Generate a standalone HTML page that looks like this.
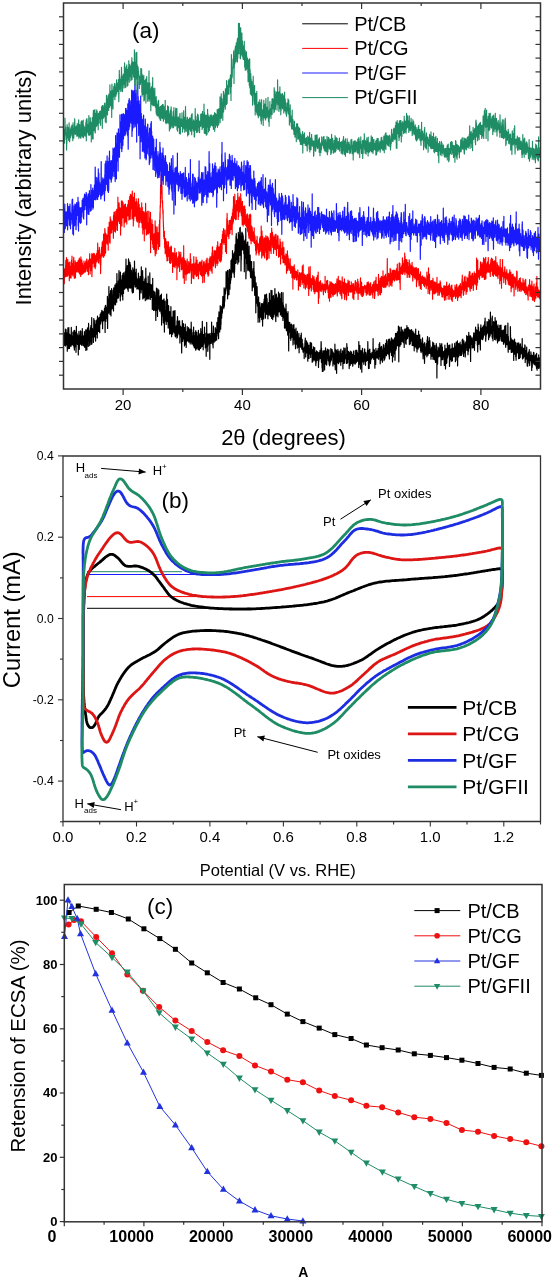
<!DOCTYPE html>
<html><head><meta charset="utf-8"><style>
html,body{margin:0;padding:0;background:#fff;width:553px;height:1280px;overflow:hidden}
svg{display:block;font-family:"Liberation Sans", sans-serif;filter:blur(0.35px)}
</style></head><body>
<svg width="553" height="1280" viewBox="0 0 553 1280">
<rect width="553" height="1280" fill="#fff"/>
<polyline points="64,345.2 64.1,340.6 64.3,340.2 64.4,332.9 64.5,345.1 64.6,335.5 64.8,344.2 64.9,333.9 65,345.6 65.1,335.7 65.3,344.4 65.4,329 65.5,337.3 65.6,346 65.8,336.7 65.9,340.8 66,338.2 66.1,329.7 66.3,341.9 66.4,342.5 66.5,332.5 66.6,344.6 66.8,336.7 66.9,333.2 67,340.5 67.1,337.3 67.3,351.2 67.4,333.2 67.5,343.9 67.6,345 67.8,331.2 67.9,327.9 68,344.5 68.1,336.9 68.3,342.2 68.4,348.6 68.5,338.6 68.6,332.7 68.8,327.6 68.9,341.8 69,333.7 69.1,341.8 69.3,341.4 69.4,333.9 69.5,348.4 69.6,345.4 69.8,346.5 69.9,334.8 70,338.4 70.1,337.7 70.3,338.4 70.4,335 70.5,343.4 70.6,341.3 70.8,342 70.9,336.6 71,346.3 71.1,341.1 71.3,327.4 71.4,337.2 71.5,339.9 71.6,344.7 71.8,338.8 71.9,338.4 72,337.1 72.1,345 72.3,338.1 72.4,335.8 72.5,336.7 72.6,344.2 72.8,337.6 72.9,332.2 73,343 73.1,336.8 73.3,342.7 73.4,341.8 73.5,345.7 73.6,344.9 73.8,337.3 73.9,338.8 74,330.7 74.1,347.9 74.3,342.1 74.4,350.1 74.5,338.5 74.7,330.3 74.8,347.1 74.9,340.4 75,340.5 75.2,340.3 75.3,344.6 75.4,342.4 75.5,332.4 75.7,345 75.8,337.3 75.9,337.6 76,352.3 76.2,344.1 76.3,337.3 76.4,326.3 76.5,340.5 76.7,342.3 76.8,339.3 76.9,333.8 77,336 77.2,333.8 77.3,340.7 77.4,343.5 77.5,344.5 77.7,336.2 77.8,340.7 77.9,342.2 78,335.9 78.2,338.9 78.3,355 78.4,340.5 78.5,343.7 78.7,336.3 78.8,339.7 78.9,331.4 79,339.3 79.2,345 79.3,349.3 79.4,345 79.5,342.6 79.7,339.7 79.8,335 79.9,338.6 80,343.8 80.2,335.6 80.3,343.7 80.4,334.6 80.5,330.8 80.7,331.8 80.8,331.3 80.9,332.7 81,344.5 81.2,338.2 81.3,340.1 81.4,344.6 81.5,345 81.7,336.7 81.8,345.3 81.9,340.8 82,339 82.2,341.1 82.3,328.6 82.4,335.2 82.5,338.4 82.7,341.8 82.8,336.2 82.9,338.3 83,343.4 83.2,345.5 83.3,342.4 83.4,344.8 83.5,336.8 83.7,337.3 83.8,341 83.9,336.5 84,335 84.2,346.5 84.3,337.7 84.4,331.5 84.5,340.9 84.7,347.3 84.8,338.9 84.9,344.4 85,336.4 85.2,336.1 85.3,335.2 85.4,337.7 85.6,347.1 85.7,329.9 85.8,350.3 85.9,333.5 86.1,337.1 86.2,342.1 86.3,341.1 86.4,340.1 86.6,330.1 86.7,339.6 86.8,333 86.9,350 87.1,336.7 87.2,339 87.3,329.1 87.4,334 87.6,327.9 87.7,344.6 87.8,335.3 87.9,339.8 88.1,332 88.2,334.6 88.3,346.4 88.4,332.1 88.6,323.3 88.7,338.5 88.8,331 88.9,334.2 89.1,340.6 89.2,332.2 89.3,340.3 89.4,330.8 89.6,343 89.7,345.6 89.8,333.3 89.9,334.4 90.1,331.3 90.2,336.7 90.3,340.6 90.4,327.9 90.6,341.7 90.7,328.2 90.8,330.3 90.9,325.6 91.1,344.5 91.2,334.4 91.3,335.8 91.4,330.5 91.6,338.9 91.7,317.6 91.8,333.5 91.9,344 92.1,331.2 92.2,333 92.3,336.1 92.4,328.6 92.6,332.5 92.7,337 92.8,333.1 92.9,333.8 93.1,330 93.2,333.2 93.3,331.9 93.4,342.5 93.6,334.7 93.7,329.1 93.8,318.6 93.9,334.2 94.1,334.2 94.2,323.2 94.3,320.1 94.4,324.2 94.6,336.9 94.7,324.2 94.8,325.8 94.9,330.3 95.1,335.2 95.2,328.8 95.3,328.2 95.4,325.7 95.6,341.1 95.7,336.5 95.8,327.5 96,320.7 96.1,321.4 96.2,330.4 96.3,323.6 96.5,334.1 96.6,329.8 96.7,328.2 96.8,331.7 97,330.3 97.1,319.4 97.2,323.4 97.3,337.9 97.5,316 97.6,323 97.7,330.8 97.8,324.3 98,318.4 98.1,317.8 98.2,327.3 98.3,329.7 98.5,331.5 98.6,324.4 98.7,329.3 98.8,318.2 99,324.3 99.1,319.7 99.2,324 99.3,329 99.5,328.4 99.6,317.4 99.7,332.7 99.8,318.4 100,316.6 100.1,321 100.2,314 100.3,321.6 100.5,323.7 100.6,320.1 100.7,323.8 100.8,319.1 101,320.6 101.1,312.7 101.2,320.4 101.3,315.4 101.5,317.4 101.6,319.1 101.7,320.9 101.8,310.3 102,310.5 102.1,317.1 102.2,321 102.3,320.2 102.5,322.9 102.6,328.7 102.7,320.3 102.8,317.2 103,311.5 103.1,311.7 103.2,314.1 103.3,317.8 103.5,317.3 103.6,315.9 103.7,314.8 103.8,320.8 104,316.3 104.1,316.5 104.2,317.3 104.3,311.4 104.5,308.4 104.6,316.6 104.7,317.2 104.8,311.5 105,310.8 105.1,332.5 105.2,306 105.3,311.1 105.5,313.6 105.6,305.3 105.7,312.6 105.8,321.4 106,319.2 106.1,314.3 106.2,315.7 106.4,310.8 106.5,318.4 106.6,308.8 106.7,307 106.9,309.7 107,314.1 107.1,311.5 107.2,312.2 107.4,296.4 107.5,314.7 107.6,328.4 107.7,315 107.9,304.2 108,299.1 108.1,308.9 108.2,300.5 108.4,312.4 108.5,300.9 108.6,311 108.7,313.1 108.9,286.5 109,306.3 109.1,298 109.2,295.8 109.4,298.2 109.5,302.3 109.6,309.4 109.7,294.1 109.9,309 110,314.5 110.1,305.8 110.2,307 110.4,301.7 110.5,290.7 110.6,304.5 110.7,303.3 110.9,307.6 111,315.9 111.1,307 111.2,302.6 111.4,309.2 111.5,291.5 111.6,288.7 111.7,296.9 111.9,294.9 112,305.2 112.1,295.5 112.2,308.8 112.4,307.2 112.5,302.5 112.6,295.2 112.7,301.1 112.9,302.1 113,290.4 113.1,298.9 113.2,300.9 113.4,297.7 113.5,311 113.6,303.4 113.7,287.9 113.9,296.3 114,290.2 114.1,298.8 114.2,289.7 114.4,303.6 114.5,297.1 114.6,303.8 114.7,293.4 114.9,285.1 115,305 115.1,292.2 115.2,302.2 115.4,296.2 115.5,297.6 115.6,304.6 115.7,295.2 115.9,301.6 116,283.5 116.1,298 116.2,290.9 116.4,291.4 116.5,292.2 116.6,294.1 116.7,302.2 116.9,273.6 117,291.7 117.1,284.3 117.3,298.5 117.4,288.3 117.5,293.7 117.6,288.1 117.8,294.7 117.9,296.7 118,286.2 118.1,290.3 118.3,280.8 118.4,291.6 118.5,297.9 118.6,285.8 118.8,296.3 118.9,275.8 119,270.6 119.1,279.8 119.3,283.7 119.4,288.5 119.5,287.7 119.6,287.4 119.8,292.5 119.9,284.7 120,279.4 120.1,279.4 120.3,300.8 120.4,272 120.5,285.8 120.6,296.2 120.8,289.7 120.9,281.1 121,286.3 121.1,291.7 121.3,293.8 121.4,280 121.5,290.6 121.6,287.2 121.8,292.6 121.9,294.3 122,282.9 122.1,275.5 122.3,287.4 122.4,296.2 122.5,289 122.6,285.9 122.8,299.9 122.9,273.6 123,289.9 123.1,280.1 123.3,284 123.4,284.2 123.5,293.4 123.6,277.2 123.8,279.7 123.9,272.6 124,287.9 124.1,278.2 124.3,287 124.4,275.5 124.5,280.1 124.6,289.2 124.8,281 124.9,286.2 125,285.5 125.1,279.5 125.3,271.4 125.4,288.1 125.5,283.3 125.6,287.9 125.8,268 125.9,270.3 126,259.2 126.1,275.2 126.3,287.8 126.4,284.6 126.5,280.4 126.6,281.5 126.8,285.6 126.9,278.5 127,283 127.1,281.2 127.3,265.7 127.4,277.6 127.5,289.1 127.7,275.9 127.8,279 127.9,275.8 128,276.6 128.2,291.3 128.3,277.9 128.4,272.8 128.5,258.8 128.7,273.6 128.8,266.3 128.9,260.6 129,284.7 129.2,284.1 129.3,266.5 129.4,288 129.5,282.3 129.7,273.9 129.8,284.1 129.9,262.3 130,271 130.2,264.2 130.3,271.6 130.4,288.1 130.5,265.2 130.7,271.3 130.8,272.6 130.9,280.3 131,275.5 131.2,287.9 131.3,274.2 131.4,270.4 131.5,275.6 131.7,279.3 131.8,272.8 131.9,280.9 132,291.2 132.2,275.1 132.3,279.3 132.4,293 132.5,274.7 132.7,273.4 132.8,267.8 132.9,281.8 133,282.6 133.2,277.6 133.3,279.6 133.4,292.3 133.5,288.2 133.7,269.9 133.8,279.2 133.9,280.4 134,286.8 134.2,278 134.3,272.8 134.4,276.5 134.5,261.2 134.7,279.3 134.8,275.7 134.9,284.4 135,272.9 135.2,276.9 135.3,273.4 135.4,272.8 135.5,287.1 135.7,276.9 135.8,283.1 135.9,272.7 136,281.1 136.2,269.1 136.3,277.2 136.4,277.1 136.5,286.3 136.7,281.7 136.8,279.4 136.9,289.1 137,282 137.2,286.2 137.3,286 137.4,280.5 137.5,279.1 137.7,283.3 137.8,278.5 137.9,283.8 138.1,288.7 138.2,287.1 138.3,279 138.4,273.1 138.6,281.3 138.7,280.3 138.8,289.2 138.9,279.4 139.1,280.7 139.2,287 139.3,279.1 139.4,281.3 139.6,299.6 139.7,297.4 139.8,288.8 139.9,284.4 140.1,276.4 140.2,286.5 140.3,283.4 140.4,284.5 140.6,279.8 140.7,283.2 140.8,282.2 140.9,286.5 141.1,292.9 141.2,287.1 141.3,266.9 141.4,277.5 141.6,273.6 141.7,275.9 141.8,289.6 141.9,286.8 142.1,278.2 142.2,286.2 142.3,276.8 142.4,275.4 142.6,270.5 142.7,279.3 142.8,299 142.9,276.4 143.1,293.2 143.2,298.3 143.3,283.4 143.4,285.1 143.6,281.6 143.7,285.5 143.8,290 143.9,285.9 144.1,292.4 144.2,297.7 144.3,288.3 144.4,288.3 144.6,285.9 144.7,288.7 144.8,279.4 144.9,289.2 145.1,288 145.2,278.1 145.3,300.7 145.4,280.8 145.6,278.4 145.7,289 145.8,268 145.9,282.4 146.1,277.8 146.2,281.5 146.3,286.3 146.4,290 146.6,298.7 146.7,295.9 146.8,299.7 146.9,294 147.1,283.7 147.2,295.7 147.3,283.8 147.4,285 147.6,298.7 147.7,296.7 147.8,290.7 147.9,294.2 148.1,298 148.2,276.2 148.3,289.3 148.4,282.5 148.6,290.9 148.7,283.6 148.8,299 149,293.8 149.1,285.6 149.2,290.5 149.3,283.4 149.5,291.4 149.6,294.8 149.7,293.8 149.8,272.8 150,289.7 150.1,295.1 150.2,294 150.3,299.5 150.5,284.4 150.6,297.4 150.7,288.7 150.8,294.6 151,296.8 151.1,297.5 151.2,289.8 151.3,294.7 151.5,286.5 151.6,285.1 151.7,297.5 151.8,293.9 152,284.4 152.1,289.3 152.2,294.8 152.3,309.5 152.5,301.5 152.6,300.1 152.7,278.3 152.8,295 153,298.7 153.1,299.5 153.2,298.7 153.3,294.9 153.5,307.2 153.6,310.4 153.7,296.2 153.8,291 154,309.7 154.1,294 154.2,308.5 154.3,309.3 154.5,292.2 154.6,300.6 154.7,294.8 154.8,303 155,300.5 155.1,310.5 155.2,304.2 155.3,299.1 155.5,309.6 155.6,297.8 155.7,297.5 155.8,320.4 156,292.2 156.1,297.3 156.2,300.6 156.3,294.2 156.5,288.1 156.6,310.5 156.7,296.4 156.8,298.1 157,299.2 157.1,292.4 157.2,295.4 157.3,302.9 157.5,316.4 157.6,308.9 157.7,306.9 157.8,288.8 158,302.7 158.1,296.1 158.2,307.8 158.3,301.1 158.5,303.7 158.6,302.8 158.7,298.4 158.8,290.1 159,309.3 159.1,296.3 159.2,297.7 159.4,303 159.5,298.4 159.6,307.3 159.7,311.2 159.9,306.9 160,307.2 160.1,305.9 160.2,310.9 160.4,295.4 160.5,308.4 160.6,301.1 160.7,299.5 160.9,306.8 161,303.4 161.1,312.2 161.2,313.7 161.4,294.2 161.5,307.3 161.6,325.1 161.7,313 161.9,316.5 162,309.1 162.1,300.4 162.2,302.4 162.4,315.1 162.5,314.6 162.6,302.7 162.7,307 162.9,311.2 163,300 163.1,306.9 163.2,319.5 163.4,322.8 163.5,309.6 163.6,321.2 163.7,308.1 163.9,306.7 164,298.9 164.1,317 164.2,309.7 164.4,332.1 164.5,314.1 164.6,313.5 164.7,302.5 164.9,321.2 165,311 165.1,311.6 165.2,301.1 165.4,318.7 165.5,319.3 165.6,310.6 165.7,314.7 165.9,316.5 166,319.9 166.1,315.3 166.2,324.4 166.4,313.8 166.5,312 166.6,313 166.7,294.1 166.9,308.9 167,321.6 167.1,317.7 167.2,312 167.4,318.6 167.5,299.7 167.6,314.5 167.7,321.5 167.9,321.2 168,313.4 168.1,322.8 168.2,328.1 168.4,315.9 168.5,324.4 168.6,305.5 168.7,308.2 168.9,322.3 169,319.4 169.1,320.4 169.2,314.5 169.4,318.1 169.5,324.2 169.6,334.1 169.7,319.1 169.9,311.6 170,327.4 170.1,325.6 170.3,324.6 170.4,322.5 170.5,333.6 170.6,322 170.8,325.7 170.9,306.6 171,319 171.1,316.5 171.3,322.2 171.4,324.4 171.5,318.8 171.6,336.7 171.8,317.4 171.9,320.8 172,324.6 172.1,317 172.3,326.6 172.4,328.8 172.5,321.5 172.6,334.1 172.8,324.8 172.9,326.5 173,319.6 173.1,311.2 173.3,319.7 173.4,323.4 173.5,322.8 173.6,331.3 173.8,313.1 173.9,316.4 174,311 174.1,332.8 174.3,323.1 174.4,323.5 174.5,317.4 174.6,331 174.8,323.1 174.9,328.2 175,310.5 175.1,336 175.3,329 175.4,331.3 175.5,336.8 175.6,326.4 175.8,326.6 175.9,331.3 176,330.9 176.1,326.6 176.3,328.2 176.4,325.5 176.5,331.8 176.6,335.5 176.8,328.3 176.9,338.1 177,320.9 177.1,327.6 177.3,337.6 177.4,326.9 177.5,316.5 177.6,336.3 177.8,333.5 177.9,320.1 178,333.5 178.1,324.6 178.3,323.1 178.4,329.2 178.5,326.2 178.6,321.6 178.8,328.5 178.9,325.4 179,330.9 179.1,330.5 179.3,334.5 179.4,328.6 179.5,324.3 179.6,320.8 179.8,330 179.9,343 180,335.7 180.1,328.4 180.3,336.3 180.4,326 180.5,336.9 180.7,328.9 180.8,335.9 180.9,335.3 181,330.1 181.2,334.8 181.3,327.2 181.4,332.3 181.5,340.9 181.7,353 181.8,336.4 181.9,333.5 182,328.1 182.2,338.4 182.3,320.6 182.4,327.2 182.5,335.3 182.7,327.7 182.8,341.3 182.9,339.2 183,331.1 183.2,329.7 183.3,327.7 183.4,323.5 183.5,336.5 183.7,339 183.8,336.2 183.9,335.9 184,331.9 184.2,337.3 184.3,327.7 184.4,335 184.5,346 184.7,344.9 184.8,331.6 184.9,333.6 185,342 185.2,344.1 185.3,324.2 185.4,333.5 185.5,337.3 185.7,341.6 185.8,331.8 185.9,339 186,334.5 186.2,347.5 186.3,339.2 186.4,335.5 186.5,333.6 186.7,341.4 186.8,339.7 186.9,331.3 187,337.6 187.2,326.5 187.3,333 187.4,330.5 187.5,330.4 187.7,333.6 187.8,329.5 187.9,340.8 188,340.9 188.2,335.2 188.3,331.8 188.4,341.1 188.5,327.6 188.7,328.1 188.8,340.8 188.9,342.1 189,342.1 189.2,335.8 189.3,331.5 189.4,335.2 189.5,340.4 189.7,334 189.8,332.4 189.9,331.1 190,329.1 190.2,343.9 190.3,341.1 190.4,332.4 190.5,332.8 190.7,333.7 190.8,342 190.9,329.3 191.1,336.7 191.2,322.2 191.3,332.2 191.4,340.2 191.6,342.5 191.7,329.7 191.8,334.6 191.9,344.1 192.1,336.5 192.2,335.9 192.3,340.9 192.4,339.8 192.6,343.8 192.7,342.4 192.8,335.9 192.9,338.1 193.1,338.4 193.2,332.3 193.3,334.1 193.4,345.8 193.6,327.1 193.7,343.6 193.8,340.9 193.9,338.3 194.1,341.5 194.2,342.4 194.3,347.7 194.4,336 194.6,337.3 194.7,337.9 194.8,348 194.9,343.6 195.1,332.3 195.2,337.6 195.3,335.9 195.4,339.3 195.6,340.8 195.7,350.2 195.8,330.7 195.9,344.2 196.1,341.5 196.2,336.1 196.3,338.7 196.4,335.8 196.6,339.7 196.7,344.3 196.8,332.4 196.9,349 197.1,337.8 197.2,346.7 197.3,341.6 197.4,345.5 197.6,342.3 197.7,347.5 197.8,340 197.9,335.8 198.1,342.9 198.2,343.1 198.3,349.6 198.4,330.3 198.6,338.3 198.7,344.8 198.8,333.9 198.9,338.7 199.1,349.8 199.2,346.5 199.3,335.7 199.4,350.1 199.6,345.4 199.7,343.5 199.8,342.5 199.9,341 200.1,333.5 200.2,337.4 200.3,345.1 200.4,340.5 200.6,348.5 200.7,338.3 200.8,328.6 200.9,338.3 201.1,341.1 201.2,341.6 201.3,340.2 201.4,335.9 201.6,346.8 201.7,334.9 201.8,343.1 202,338.4 202.1,331 202.2,346.4 202.3,321.4 202.5,335.7 202.6,342.8 202.7,337 202.8,343.2 203,339.2 203.1,336.3 203.2,349.8 203.3,338 203.5,338.9 203.6,334.5 203.7,336 203.8,344.2 204,342.2 204.1,339.5 204.2,336.2 204.3,342.7 204.5,327 204.6,337.8 204.7,338.2 204.8,335.4 205,340 205.1,336.1 205.2,333.4 205.3,347.7 205.5,344.6 205.6,347.9 205.7,339.4 205.8,343.7 206,342.8 206.1,344.8 206.2,356.3 206.3,337.3 206.5,340.2 206.6,338.7 206.7,322.3 206.8,332.2 207,338.9 207.1,341.8 207.2,334.5 207.3,347 207.5,344.7 207.6,336.7 207.7,345.3 207.8,351.3 208,340.7 208.1,333.8 208.2,345.4 208.3,337.6 208.5,336.5 208.6,338.8 208.7,335.7 208.8,343.3 209,341.8 209.1,343.9 209.2,340.8 209.3,334.2 209.5,337.2 209.6,342 209.7,334.8 209.8,359.3 210,336.6 210.1,333.3 210.2,343.1 210.3,341.1 210.5,337.4 210.6,335.7 210.7,339.4 210.8,343.5 211,340.9 211.1,335.7 211.2,339.2 211.3,343.3 211.5,340.7 211.6,322.1 211.7,330.3 211.8,333.1 212,335 212.1,337.5 212.2,341 212.4,339.5 212.5,335.9 212.6,336.6 212.7,344.8 212.9,333.3 213,337.7 213.1,347.8 213.2,337.7 213.4,326.1 213.5,337.7 213.6,333 213.7,335.2 213.9,340.8 214,337.9 214.1,333.6 214.2,342.1 214.4,338.7 214.5,335.8 214.6,337.5 214.7,336.4 214.9,333.4 215,332.8 215.1,335.1 215.2,327.7 215.4,328.6 215.5,340.9 215.6,333.2 215.7,334 215.9,333.4 216,333.9 216.1,333.7 216.2,333.6 216.4,329.1 216.5,337.4 216.6,329.1 216.7,340.1 216.9,322.3 217,323.4 217.1,336.1 217.2,330 217.4,327 217.5,331.9 217.6,324.3 217.7,329.8 217.9,317.5 218,326 218.1,324.5 218.2,330.1 218.4,333.8 218.5,322 218.6,338.7 218.7,320.6 218.9,314.1 219,311.9 219.1,331.8 219.2,322.7 219.4,317.3 219.5,315.9 219.6,315.6 219.7,332 219.9,319.8 220,329.2 220.1,318 220.2,305.7 220.4,324.9 220.5,314.1 220.6,315.2 220.7,329.2 220.9,313.8 221,324.5 221.1,313.9 221.2,306.8 221.4,315.4 221.5,308.6 221.6,318.2 221.7,316 221.9,310.3 222,312.7 222.1,313.5 222.2,306.3 222.4,312.3 222.5,304.5 222.6,309.4 222.8,296.5 222.9,305 223,306.2 223.1,298.4 223.3,299.9 223.4,298.5 223.5,305.4 223.6,296 223.8,302.3 223.9,308.2 224,300.5 224.1,287.8 224.3,298.2 224.4,306.2 224.5,293 224.6,301.8 224.8,300.3 224.9,296.3 225,291.4 225.1,289.2 225.3,290.2 225.4,291.6 225.5,293.9 225.6,292.6 225.8,287.4 225.9,289.2 226,290.6 226.1,271.5 226.3,282.1 226.4,281.3 226.5,284.6 226.6,283.6 226.8,283.1 226.9,278.6 227,288.2 227.1,286.1 227.3,272 227.4,282.4 227.5,270.4 227.6,298.8 227.8,277.9 227.9,277.9 228,280.6 228.1,278.3 228.3,278.8 228.4,294.9 228.5,279.9 228.6,283.5 228.8,285.1 228.9,270.5 229,294.4 229.1,280.8 229.3,282.2 229.4,269.4 229.5,280.4 229.6,278.8 229.8,270.2 229.9,289.2 230,276.9 230.1,270.9 230.3,274.2 230.4,277.9 230.5,283.3 230.6,274.7 230.8,278.7 230.9,280 231,260.6 231.1,265.4 231.3,261.7 231.4,268.5 231.5,277.6 231.6,271.6 231.8,259 231.9,263.9 232,272.9 232.1,261.2 232.3,263.9 232.4,267.6 232.5,250.5 232.6,272 232.8,265.2 232.9,268.7 233,254.7 233.1,255.8 233.3,256.6 233.4,263.4 233.5,260.6 233.7,261.1 233.8,272.3 233.9,273.7 234,253 234.2,253 234.3,277.2 234.4,254.7 234.5,272.5 234.7,268.1 234.8,251.7 234.9,253.4 235,255.6 235.2,244.7 235.3,246.9 235.4,250.8 235.5,263.5 235.7,249.7 235.8,251.1 235.9,247 236,236.1 236.2,262.9 236.3,233.5 236.4,246 236.5,254.9 236.7,239.6 236.8,254.6 236.9,259.3 237,239.2 237.2,250.7 237.3,240.2 237.4,252.4 237.5,248.9 237.7,249.6 237.8,264.1 237.9,251.1 238,257.6 238.2,251.8 238.3,232.4 238.4,248.5 238.5,250.1 238.7,234.8 238.8,262 238.9,246.2 239,248.4 239.2,234.6 239.3,246.2 239.4,247.4 239.5,241.1 239.7,245.4 239.8,228.1 239.9,255.3 240,235.8 240.2,227.3 240.3,232.8 240.4,237.7 240.5,248.5 240.7,237 240.8,246.4 240.9,236.6 241,271 241.2,248.4 241.3,259.5 241.4,236.3 241.5,249.5 241.7,232.8 241.8,248.9 241.9,249.8 242,232.1 242.2,235.8 242.3,235.7 242.4,233.2 242.5,239.4 242.7,233.7 242.8,234.1 242.9,246.8 243,250 243.2,235.7 243.3,239.5 243.4,246.4 243.5,244.7 243.7,241.3 243.8,253.3 243.9,253.8 244.1,252.7 244.2,246.1 244.3,271.7 244.4,261.7 244.6,245.4 244.7,247.9 244.8,258.2 244.9,240 245.1,252.8 245.2,250.6 245.3,245 245.4,248.9 245.6,239 245.7,247.2 245.8,228.3 245.9,278.8 246.1,270 246.2,262 246.3,255.3 246.4,260.9 246.6,263.3 246.7,261.7 246.8,261.4 246.9,244.3 247.1,258.4 247.2,249.4 247.3,242.4 247.4,247.8 247.6,259.9 247.7,269.2 247.8,241.8 247.9,270.7 248.1,269.1 248.2,254.3 248.3,255.6 248.4,258.5 248.6,266.9 248.7,257.3 248.8,252.4 248.9,263.4 249.1,246.2 249.2,262.6 249.3,270.4 249.4,265.8 249.6,268.4 249.7,268.6 249.8,271.6 249.9,265.4 250.1,255 250.2,263 250.3,264.4 250.4,274.4 250.6,277.4 250.7,269.3 250.8,261.4 250.9,262 251.1,265.7 251.2,278 251.3,271.1 251.4,268.7 251.6,261.6 251.7,276.6 251.8,273 251.9,271.2 252.1,272.9 252.2,290.8 252.3,271.7 252.4,285.6 252.6,287.8 252.7,275.7 252.8,282 252.9,275.8 253.1,268.7 253.2,275.2 253.3,272.6 253.4,282.8 253.6,280.2 253.7,284.6 253.8,287 253.9,261.6 254.1,284.9 254.2,271.8 254.3,286 254.5,276.2 254.6,286.8 254.7,295.3 254.8,276.2 255,289.1 255.1,287.8 255.2,277.2 255.3,294.1 255.5,290.9 255.6,286.4 255.7,287.5 255.8,312.8 256,291 256.1,282.9 256.2,285.9 256.3,293.2 256.5,293.7 256.6,296.3 256.7,291 256.8,303.1 257,294.1 257.1,286.6 257.2,292.3 257.3,296.8 257.5,306.1 257.6,304.4 257.7,300.1 257.8,302.7 258,305.1 258.1,322.2 258.2,300.5 258.3,307.3 258.5,309.3 258.6,296.9 258.7,307 258.8,307.8 259,304 259.1,310.4 259.2,313.4 259.3,317.8 259.5,307 259.6,310.1 259.7,322.1 259.8,302.6 260,310.4 260.1,314.4 260.2,310.3 260.3,313.4 260.5,310.7 260.6,316.5 260.7,317.2 260.8,308.7 261,311.1 261.1,309.7 261.2,306.5 261.3,309.8 261.5,303.6 261.6,314.2 261.7,319.6 261.8,319.6 262,317.2 262.1,304.5 262.2,318.6 262.3,303.6 262.5,309.6 262.6,326.1 262.7,303.8 262.8,317.2 263,312.3 263.1,308.9 263.2,304.8 263.3,312.1 263.5,305.6 263.6,318.9 263.7,316.6 263.8,301.8 264,306.7 264.1,307.7 264.2,299.1 264.3,303.1 264.5,309.9 264.6,308.2 264.7,294.8 264.8,304.6 265,312.2 265.1,302.3 265.2,301 265.4,318.2 265.5,316.6 265.6,294.8 265.7,301.3 265.9,311.1 266,302.1 266.1,307.4 266.2,306.2 266.4,313.7 266.5,294.2 266.6,296.1 266.7,301.6 266.9,314.4 267,307.6 267.1,298.7 267.2,311.2 267.4,312.4 267.5,306.9 267.6,305.3 267.7,310.7 267.9,318.8 268,309.4 268.1,312.7 268.2,307.7 268.4,304.5 268.5,302.6 268.6,309.3 268.7,306 268.9,305.5 269,313 269.1,310.4 269.2,315.2 269.4,293.4 269.5,312.4 269.6,303.9 269.7,300.1 269.9,302.3 270,314.2 270.1,311.9 270.2,302.9 270.4,300.4 270.5,307.1 270.6,304.2 270.7,316.4 270.9,298.3 271,290.4 271.1,305.2 271.2,306.7 271.4,307.7 271.5,310.9 271.6,318.5 271.7,304.4 271.9,301.5 272,290.5 272.1,307.7 272.2,311.2 272.4,304.6 272.5,316.7 272.6,306.2 272.7,319.6 272.9,309 273,299.8 273.1,300.2 273.2,296.9 273.4,295.7 273.5,308.1 273.6,310.8 273.7,317 273.9,305.1 274,304.2 274.1,299.1 274.2,314.4 274.4,307.7 274.5,302 274.6,309.4 274.7,308.6 274.9,288.5 275,312 275.1,306.1 275.2,303 275.4,302.8 275.5,315.4 275.6,314.1 275.8,321.6 275.9,294.8 276,299.2 276.1,310.4 276.3,294.2 276.4,298.6 276.5,294.5 276.6,315.9 276.8,314.6 276.9,307.7 277,307 277.1,302.6 277.3,301.4 277.4,308.6 277.5,298.6 277.6,312.2 277.8,302.1 277.9,297.2 278,316.8 278.1,304.3 278.3,308.4 278.4,302.8 278.5,292.2 278.6,308.6 278.8,297.6 278.9,311.9 279,296.7 279.1,295 279.3,308.7 279.4,309.9 279.5,307.2 279.6,295.5 279.8,311.7 279.9,293.6 280,302.7 280.1,302.5 280.3,305 280.4,315 280.5,303.9 280.6,311 280.8,312 280.9,298.4 281,301.7 281.1,306.5 281.3,305.5 281.4,310.9 281.5,292.4 281.6,313.7 281.8,316.4 281.9,308.6 282,302.5 282.1,310.7 282.3,306.2 282.4,314.4 282.5,311 282.6,315.8 282.8,308.3 282.9,320.4 283,292.7 283.1,307.2 283.3,315.9 283.4,305.1 283.5,317.9 283.6,307.4 283.8,315.2 283.9,306.9 284,312.6 284.1,316.8 284.3,315.1 284.4,312.8 284.5,328.1 284.6,316.7 284.8,308.8 284.9,322.3 285,324.5 285.1,324.5 285.3,327.9 285.4,313.5 285.5,324.6 285.6,325.3 285.8,319.5 285.9,321.2 286,304.1 286.2,317.4 286.3,330.3 286.4,311.6 286.5,318.6 286.7,323.3 286.8,326.8 286.9,331 287,313.4 287.2,323.3 287.3,327.8 287.4,316.7 287.5,323.7 287.7,334 287.8,335.1 287.9,329.1 288,311.5 288.2,324.7 288.3,328.7 288.4,324.3 288.5,325.8 288.7,350.9 288.8,325 288.9,322 289,329.1 289.2,325.8 289.3,326.1 289.4,327.3 289.5,332.1 289.7,329.6 289.8,322.5 289.9,328.2 290,331.5 290.2,325.6 290.3,338.4 290.4,335.7 290.5,324.9 290.7,331.7 290.8,340.3 290.9,338.3 291,330.5 291.2,337.9 291.3,327.8 291.4,324.2 291.5,334.4 291.7,333 291.8,334.6 291.9,332 292,334.1 292.2,328.8 292.3,335.2 292.4,337.2 292.5,333 292.7,337.5 292.8,325 292.9,330.1 293,345 293.2,342.9 293.3,336.4 293.4,334 293.5,328.8 293.7,336.9 293.8,339.2 293.9,324.5 294,338.5 294.2,339.7 294.3,339.5 294.4,331 294.5,339.2 294.7,329.6 294.8,344.1 294.9,337.9 295,331.8 295.2,344 295.3,343.3 295.4,334.9 295.5,348.7 295.7,333.6 295.8,340.1 295.9,344.4 296,328.2 296.2,343.9 296.3,339 296.4,339.4 296.5,334.6 296.7,342.3 296.8,334.8 296.9,335.7 297.1,337.2 297.2,334.8 297.3,348.1 297.4,331.4 297.6,337.6 297.7,339.8 297.8,341.4 297.9,345.3 298.1,345.5 298.2,339.7 298.3,340.3 298.4,342.4 298.6,346.2 298.7,347.5 298.8,340.3 298.9,333.4 299.1,352.8 299.2,347.5 299.3,344.5 299.4,345.8 299.6,339.9 299.7,339.1 299.8,341.5 299.9,342.9 300.1,341.2 300.2,337.5 300.3,342.1 300.4,347.1 300.6,342.3 300.7,344.8 300.8,335.4 300.9,344 301.1,344.5 301.2,339.6 301.3,333.2 301.4,347.3 301.6,341.9 301.7,349.1 301.8,343.9 301.9,348.7 302.1,343.7 302.2,339.4 302.3,345.9 302.4,344.9 302.6,349.4 302.7,343.5 302.8,345 302.9,350.7 303.1,352.2 303.2,350.5 303.3,351.8 303.4,349.3 303.6,350.9 303.7,351.4 303.8,349.4 303.9,348 304.1,348.5 304.2,358.6 304.3,348.2 304.4,347.2 304.6,346.7 304.7,348.3 304.8,350.2 304.9,343.6 305.1,340 305.2,350.8 305.3,338 305.4,350.2 305.6,349.8 305.7,357.1 305.8,356.7 305.9,351.9 306.1,347.1 306.2,344.5 306.3,346.3 306.4,350 306.6,340.9 306.7,350.5 306.8,350.1 306.9,353 307.1,348.8 307.2,350.8 307.3,347.3 307.5,348.5 307.6,342.9 307.7,351.6 307.8,361.2 308,351.6 308.1,352.6 308.2,346.8 308.3,357.3 308.5,346.1 308.6,354.8 308.7,351.8 308.8,345.1 309,358.4 309.1,351.7 309.2,352.5 309.3,353.7 309.5,351.7 309.6,350.3 309.7,354 309.8,349.3 310,352.4 310.1,347.7 310.2,342.4 310.3,349.4 310.5,349.1 310.6,352.5 310.7,357.5 310.8,345.3 311,353.1 311.1,343.2 311.2,348.2 311.3,350.6 311.5,343.2 311.6,344.9 311.7,353.9 311.8,353.3 312,352.5 312.1,349.6 312.2,362.3 312.3,352.4 312.5,349.5 312.6,360.4 312.7,357.3 312.8,350.9 313,361.2 313.1,354.4 313.2,356.2 313.3,355 313.5,346.8 313.6,357.7 313.7,354.3 313.8,349.4 314,350.5 314.1,360 314.2,352.2 314.3,354.1 314.5,358.1 314.6,354.7 314.7,347.5 314.8,356.7 315,358 315.1,357.7 315.2,360.9 315.3,355.7 315.5,357.5 315.6,360.9 315.7,352.4 315.8,365.6 316,361.7 316.1,357.7 316.2,362.2 316.3,360 316.5,350.8 316.6,359.3 316.7,356 316.8,356.4 317,355.3 317.1,360.4 317.2,357.1 317.3,351.9 317.5,358 317.6,357.9 317.7,351.9 317.8,352.1 318,352.5 318.1,352.5 318.2,357.3 318.4,359.4 318.5,367.4 318.6,362.9 318.7,359.5 318.9,360 319,360.9 319.1,352.9 319.2,359.8 319.4,356.7 319.5,354.9 319.6,352.5 319.7,353.4 319.9,354.4 320,350.4 320.1,357.8 320.2,355.5 320.4,356.3 320.5,357.1 320.6,358.7 320.7,351.9 320.9,355.3 321,349.1 321.1,341.5 321.2,343.4 321.4,362.3 321.5,348.3 321.6,357.9 321.7,362.1 321.9,353.1 322,362.8 322.1,367.9 322.2,360 322.4,371.4 322.5,360.1 322.6,353.1 322.7,358.4 322.9,354.4 323,350.8 323.1,351 323.2,371.2 323.4,354.1 323.5,356.2 323.6,352.2 323.7,357 323.9,354.9 324,353.9 324.1,351.5 324.2,350.7 324.4,353.5 324.5,357.8 324.6,369.9 324.7,361 324.9,364.2 325,358.7 325.1,356.2 325.2,351.2 325.4,356.7 325.5,347.9 325.6,355.5 325.7,363.5 325.9,358.2 326,364.1 326.1,355.3 326.2,351.2 326.4,353.8 326.5,355.2 326.6,364.7 326.7,365.1 326.9,353.9 327,354.7 327.1,356.4 327.2,355.5 327.4,349.1 327.5,357.4 327.6,358.5 327.7,358.6 327.9,352 328,356.6 328.1,349.8 328.2,360.8 328.4,350.6 328.5,355.4 328.6,355.2 328.8,354.7 328.9,352.7 329,349.8 329.1,364.3 329.3,358.2 329.4,358.2 329.5,365.8 329.6,356.7 329.8,359.4 329.9,357.2 330,364.8 330.1,360.4 330.3,359.2 330.4,355.6 330.5,358.3 330.6,361.9 330.8,348.5 330.9,356.6 331,354.5 331.1,355.9 331.3,349 331.4,360.2 331.5,353.6 331.6,356.2 331.8,354 331.9,350.2 332,355.3 332.1,349.5 332.3,351.2 332.4,355.8 332.5,357.1 332.6,357.4 332.8,356.3 332.9,366 333,358.9 333.1,352.1 333.3,354.6 333.4,354.4 333.5,356.4 333.6,354.6 333.8,353.6 333.9,364 334,357.3 334.1,355.7 334.3,356.1 334.4,356.2 334.5,362.9 334.6,359.1 334.8,364.4 334.9,344.2 335,358.5 335.1,364 335.3,369.8 335.4,357.3 335.5,350 335.6,361 335.8,354.7 335.9,349.7 336,354.6 336.1,361.5 336.3,362.1 336.4,360.1 336.5,350.5 336.6,373.3 336.8,352.3 336.9,356.8 337,351.2 337.1,362.6 337.3,359 337.4,362.9 337.5,357.5 337.6,356.9 337.8,358.4 337.9,349.4 338,361.3 338.1,360.9 338.3,355.5 338.4,357.1 338.5,358.4 338.6,363.7 338.8,359 338.9,357.3 339,354 339.2,351 339.3,353.5 339.4,357.7 339.5,355.7 339.7,357.5 339.8,362 339.9,360.1 340,359 340.2,359.9 340.3,358 340.4,357.1 340.5,359.1 340.7,350 340.8,365.3 340.9,349.1 341,360.7 341.2,357.2 341.3,361.8 341.4,357.5 341.5,353.3 341.7,361.6 341.8,358.5 341.9,357.7 342,357.5 342.2,361.3 342.3,360.6 342.4,358.8 342.5,350.8 342.7,355.5 342.8,357.6 342.9,368.8 343,358.8 343.2,356.8 343.3,362.2 343.4,356.8 343.5,357.2 343.7,358.3 343.8,347.8 343.9,363.5 344,359 344.2,355.5 344.3,352.5 344.4,358.1 344.5,363 344.7,354.6 344.8,350.6 344.9,359 345,350.6 345.2,348 345.3,355.4 345.4,354.4 345.5,356.1 345.7,355 345.8,358.6 345.9,356 346,354.8 346.2,355.3 346.3,359.8 346.4,363.5 346.5,361 346.7,361.8 346.8,343.6 346.9,351 347,355.4 347.2,358.1 347.3,347 347.4,363.1 347.5,359.3 347.7,354.7 347.8,358.4 347.9,355.8 348,354.1 348.2,359.3 348.3,355.4 348.4,351.4 348.5,353.3 348.7,356.8 348.8,352.8 348.9,362.5 349,352.7 349.2,368.6 349.3,363.1 349.4,353.4 349.5,357.8 349.7,364.9 349.8,356.2 349.9,352.3 350.1,358.1 350.2,365.5 350.3,351.1 350.4,359.6 350.6,357.5 350.7,356.8 350.8,354.9 350.9,356 351.1,361.6 351.2,361.2 351.3,353.2 351.4,363.7 351.6,351.9 351.7,360 351.8,358 351.9,362.2 352.1,359.7 352.2,361.7 352.3,357.3 352.4,361.3 352.6,359.6 352.7,366.2 352.8,354.4 352.9,365.1 353.1,360.4 353.2,358.6 353.3,355 353.4,360.3 353.6,351.2 353.7,351.6 353.8,362 353.9,350.9 354.1,363.2 354.2,356.2 354.3,358.3 354.4,357.6 354.6,360.2 354.7,355.7 354.8,355.8 354.9,356.7 355.1,364.2 355.2,362 355.3,362.6 355.4,358.8 355.6,356.2 355.7,350.4 355.8,360 355.9,362.8 356.1,355.6 356.2,360.7 356.3,362.6 356.4,357.7 356.6,361.7 356.7,358.6 356.8,350.1 356.9,354.5 357.1,355.6 357.2,360.9 357.3,352 357.4,355.5 357.6,353.3 357.7,357.2 357.8,357.6 357.9,361.3 358.1,360.6 358.2,358 358.3,358.3 358.4,357.8 358.6,357.8 358.7,367.4 358.8,341.6 358.9,356.6 359.1,359.5 359.2,364.7 359.3,352.8 359.4,359.7 359.6,363 359.7,355.5 359.8,345.3 359.9,355.2 360.1,352.4 360.2,360 360.3,353.8 360.5,368.9 360.6,358.4 360.7,354 360.8,355.2 361,350.5 361.1,358.9 361.2,363.5 361.3,356.4 361.5,363.4 361.6,351.5 361.7,359.5 361.8,372.2 362,351.5 362.1,362.4 362.2,362.2 362.3,349.5 362.5,348.3 362.6,353.3 362.7,361.3 362.8,355.5 363,356.6 363.1,360.2 363.2,357.8 363.3,358.3 363.5,355.4 363.6,362 363.7,354.1 363.8,364.2 364,355.9 364.1,352.4 364.2,361.6 364.3,359.2 364.5,349.1 364.6,358.2 364.7,348.9 364.8,352.2 365,360.6 365.1,353.7 365.2,358.8 365.3,355 365.5,365.3 365.6,356.9 365.7,352.4 365.8,352.7 366,353.6 366.1,358.3 366.2,357.3 366.3,361.3 366.5,358 366.6,357.8 366.7,359.5 366.8,356.6 367,358.5 367.1,360.5 367.2,360.5 367.3,355 367.5,350 367.6,353.9 367.7,358.4 367.8,341.5 368,354.4 368.1,360.3 368.2,353.8 368.3,352.6 368.5,368.6 368.6,363 368.7,355.7 368.8,362.7 369,362.6 369.1,350.2 369.2,368.3 369.3,353.4 369.5,356.2 369.6,352.7 369.7,357.6 369.8,349 370,357.2 370.1,361.7 370.2,358.1 370.3,355.7 370.5,363.6 370.6,353.5 370.7,361.2 370.9,355.9 371,358.7 371.1,357.3 371.2,357.7 371.4,356.9 371.5,353.9 371.6,354.8 371.7,358.9 371.9,356.6 372,352.3 372.1,354.1 372.2,354.2 372.4,356.8 372.5,357.7 372.6,357.3 372.7,352.9 372.9,357 373,351.2 373.1,338.5 373.2,356.6 373.4,349.9 373.5,350.8 373.6,349.1 373.7,359.3 373.9,351.7 374,357.8 374.1,353.5 374.2,351.4 374.4,350 374.5,358.4 374.6,358.1 374.7,359.6 374.9,368.2 375,358.1 375.1,357.5 375.2,355.7 375.4,356.6 375.5,354.7 375.6,352.4 375.7,364.4 375.9,348.3 376,357 376.1,357.8 376.2,356.9 376.4,351.8 376.5,355 376.6,352.8 376.7,351.2 376.9,355.4 377,353.9 377.1,353.2 377.2,358.3 377.4,351 377.5,357.2 377.6,351.4 377.7,357 377.9,355.5 378,356.1 378.1,348.7 378.2,350 378.4,351.4 378.5,355.6 378.6,358 378.7,359.3 378.9,352.6 379,355 379.1,344.1 379.2,345.2 379.4,350.8 379.5,350.1 379.6,347.8 379.7,342.7 379.9,356.5 380,350.8 380.1,347 380.2,363.8 380.4,354.7 380.5,352.5 380.6,358.2 380.7,348.7 380.9,360.4 381,347.1 381.1,348 381.2,352.9 381.4,348.3 381.5,359.3 381.6,346.4 381.8,350.1 381.9,354.1 382,355.4 382.1,359.5 382.3,354.3 382.4,362.2 382.5,350.7 382.6,353.7 382.8,358.1 382.9,350.3 383,351.2 383.1,349.2 383.3,347.9 383.4,344.7 383.5,349.7 383.6,345.4 383.8,353.6 383.9,345.1 384,360.7 384.1,359 384.3,356.4 384.4,350.1 384.5,349 384.6,359.4 384.8,352.1 384.9,354.9 385,348.1 385.1,358.1 385.3,347.6 385.4,351.5 385.5,343.4 385.6,348 385.8,352.9 385.9,348.7 386,347.4 386.1,353.9 386.3,350.1 386.4,355.7 386.5,339.8 386.6,352.6 386.8,353.3 386.9,343.3 387,341.1 387.1,353.6 387.3,345.1 387.4,346.9 387.5,352.2 387.6,348.1 387.8,351.5 387.9,345.6 388,350.6 388.1,353.9 388.3,350.5 388.4,339.4 388.5,351.8 388.6,349.1 388.8,342.5 388.9,354.8 389,341 389.1,356.8 389.3,345.7 389.4,358.9 389.5,347.9 389.6,339.1 389.8,348.6 389.9,349.5 390,350.4 390.1,352.6 390.3,343.9 390.4,349.9 390.5,350.9 390.6,346.4 390.8,341 390.9,343.2 391,350.7 391.1,350.8 391.3,343.5 391.4,337.8 391.5,355.4 391.6,340.1 391.8,347.6 391.9,343.2 392,338.9 392.2,347.4 392.3,345.7 392.4,352.9 392.5,361.9 392.7,344.9 392.8,350.8 392.9,350.8 393,343.7 393.2,339.8 393.3,356.8 393.4,343.1 393.5,345.5 393.7,344.2 393.8,344.8 393.9,342.6 394,348.5 394.2,353.6 394.3,342.2 394.4,338.6 394.5,344.9 394.7,337.9 394.8,341.6 394.9,352.8 395,360.3 395.2,346.6 395.3,339.1 395.4,347.3 395.5,333.5 395.7,340.4 395.8,350.3 395.9,348.4 396,333.3 396.2,335.4 396.3,348.7 396.4,342.5 396.5,339.8 396.7,344.3 396.8,339.6 396.9,333.3 397,345.7 397.2,338.8 397.3,337.1 397.4,331.9 397.5,343 397.7,337.5 397.8,344 397.9,338.9 398,345.8 398.2,338.9 398.3,337.5 398.4,326.1 398.5,335.1 398.7,345.1 398.8,361.8 398.9,333.9 399,334.8 399.2,341.8 399.3,341.6 399.4,336 399.5,339.4 399.7,327.1 399.8,336.5 399.9,342.9 400,346.2 400.2,337.5 400.3,337 400.4,340.2 400.5,343.2 400.7,340.1 400.8,332 400.9,339.2 401,344.3 401.2,331.9 401.3,327.2 401.4,339.4 401.5,338.6 401.7,341.4 401.8,337.1 401.9,331.6 402,334.3 402.2,331.4 402.3,331.6 402.4,333.4 402.6,333.6 402.7,341.2 402.8,329.8 402.9,335.1 403.1,331 403.2,342.6 403.3,337.1 403.4,333.4 403.6,341.1 403.7,335.4 403.8,332.7 403.9,342.3 404.1,338.2 404.2,347.5 404.3,340.2 404.4,338.3 404.6,335.1 404.7,329.2 404.8,337.8 404.9,334.6 405.1,337.5 405.2,334.1 405.3,330.8 405.4,329.2 405.6,337.4 405.7,343.6 405.8,332.6 405.9,336.1 406.1,344.2 406.2,329.8 406.3,332.2 406.4,328.4 406.6,339.5 406.7,335.1 406.8,331.6 406.9,325.7 407.1,332.9 407.2,338.6 407.3,332.4 407.4,330.5 407.6,338.5 407.7,327.9 407.8,334.2 407.9,336.8 408.1,330.2 408.2,327.7 408.3,335.8 408.4,333.2 408.6,333 408.7,335.6 408.8,335.3 408.9,329.8 409.1,329.3 409.2,337.7 409.3,339.9 409.4,344.6 409.6,330.6 409.7,340 409.8,340.4 409.9,334.6 410.1,337.3 410.2,339.1 410.3,343.8 410.4,330.2 410.6,338.3 410.7,334.8 410.8,334.6 410.9,341.2 411.1,339.7 411.2,331.1 411.3,334.7 411.4,337.2 411.6,329.5 411.7,340.5 411.8,335.9 411.9,337.4 412.1,338.4 412.2,345.5 412.3,337.2 412.4,335.5 412.6,345.5 412.7,333.7 412.8,335.1 412.9,331.1 413.1,345.6 413.2,339.2 413.3,340.3 413.5,339.4 413.6,337.3 413.7,332.8 413.8,335 414,340.8 414.1,339.8 414.2,350.8 414.3,335.7 414.5,337.1 414.6,334.8 414.7,346.1 414.8,334.1 415,343.6 415.1,346.8 415.2,339.2 415.3,345.6 415.5,330.8 415.6,339 415.7,329 415.8,341.9 416,341.3 416.1,337.8 416.2,348.1 416.3,344.1 416.5,338 416.6,338.3 416.7,335.4 416.8,341.4 417,352.1 417.1,339.3 417.2,344.6 417.3,340.3 417.5,346.6 417.6,345.1 417.7,342.2 417.8,335.3 418,341.2 418.1,349.1 418.2,342.7 418.3,348.3 418.5,341.9 418.6,331.2 418.7,347.2 418.8,345.9 419,342 419.1,343 419.2,346.8 419.3,340.8 419.5,346.6 419.6,344.3 419.7,334.8 419.8,344.8 420,342.9 420.1,341.9 420.2,347.5 420.3,343.7 420.5,348.3 420.6,350.9 420.7,346.8 420.8,339.3 421,343.1 421.1,352.6 421.2,345.3 421.3,343 421.5,345.9 421.6,348.9 421.7,348.5 421.8,351.2 422,343.3 422.1,345 422.2,345.9 422.3,346.9 422.5,337.9 422.6,346.2 422.7,341.3 422.8,353.4 423,354.2 423.1,358.8 423.2,352.9 423.3,345.4 423.5,354.1 423.6,346.3 423.7,350.4 423.9,343.8 424,343.8 424.1,349.9 424.2,355.7 424.4,347.8 424.5,363.3 424.6,360.2 424.7,342.6 424.9,348 425,344.2 425.1,347.4 425.2,346.1 425.4,348.2 425.5,355 425.6,352.7 425.7,349.8 425.9,348.7 426,349.3 426.1,349.7 426.2,351.4 426.4,349 426.5,351.2 426.6,343.4 426.7,352.6 426.9,356.8 427,350.1 427.1,339.8 427.2,355.2 427.4,348 427.5,336.5 427.6,348.6 427.7,352.2 427.9,351.3 428,355.1 428.1,353.9 428.2,350.4 428.4,341.3 428.5,345.1 428.6,350.8 428.7,353 428.9,343.2 429,347.5 429.1,353.3 429.2,337.5 429.4,341.9 429.5,349.4 429.6,352.1 429.7,348.4 429.9,340.7 430,350.7 430.1,344.9 430.2,353.5 430.4,350.3 430.5,351.9 430.6,353.6 430.7,348.6 430.9,354.5 431,359.2 431.1,353.6 431.2,356.8 431.4,348.5 431.5,355.1 431.6,353 431.7,347.1 431.9,350.8 432,349.1 432.1,349.1 432.2,351.9 432.4,356.1 432.5,350.2 432.6,352.4 432.7,342 432.9,352.2 433,359.3 433.1,355.3 433.2,353.9 433.4,348.4 433.5,347.8 433.6,351.6 433.7,343.2 433.9,346.8 434,356.1 434.1,348.3 434.3,359.8 434.4,346.2 434.5,355.1 434.6,347.4 434.8,353.1 434.9,345.6 435,352.6 435.1,351.8 435.3,350.6 435.4,354.8 435.5,362.5 435.6,350.2 435.8,356.5 435.9,353.1 436,352.6 436.1,362.1 436.3,343.7 436.4,348.4 436.5,345.3 436.6,350.9 436.8,352 436.9,377.9 437,354.5 437.1,364.8 437.3,358.6 437.4,351.3 437.5,355.2 437.6,364.1 437.8,354 437.9,354.7 438,356.6 438.1,347.1 438.3,350 438.4,354.9 438.5,357 438.6,349.6 438.8,352.2 438.9,353.1 439,353 439.1,356.5 439.3,354.3 439.4,354.4 439.5,347.8 439.6,349.3 439.8,355.1 439.9,343.4 440,354.9 440.1,351.1 440.3,350.4 440.4,356.6 440.5,349.5 440.6,350.3 440.8,351.1 440.9,354.2 441,365.5 441.1,345.1 441.3,353.9 441.4,352.4 441.5,358.1 441.6,351.6 441.8,343.7 441.9,359.7 442,349.6 442.1,353.9 442.3,348.4 442.4,347 442.5,352.1 442.6,357.8 442.8,359.6 442.9,351.7 443,356.3 443.1,352.7 443.3,354.7 443.4,354.9 443.5,356.9 443.6,351.7 443.8,353.7 443.9,355.7 444,354.8 444.1,351 444.3,365.4 444.4,352.4 444.5,357.5 444.6,355.2 444.8,362.2 444.9,345.2 445,363 445.2,353.5 445.3,349.2 445.4,354.9 445.5,368.9 445.7,356.5 445.8,349.2 445.9,352.4 446,360 446.2,348.5 446.3,353.6 446.4,353.1 446.5,363.4 446.7,353.1 446.8,362.8 446.9,349.9 447,351 447.2,358.5 447.3,356.9 447.4,343 447.5,357 447.7,357 447.8,350.2 447.9,355.2 448,355.4 448.2,351 448.3,351.7 448.4,351.4 448.5,353 448.7,345.4 448.8,353.9 448.9,347.8 449,354.5 449.2,353.7 449.3,349.6 449.4,357.6 449.5,366.4 449.7,359.5 449.8,344.9 449.9,359.2 450,354.7 450.2,353.6 450.3,351.2 450.4,353.7 450.5,359.5 450.7,355.9 450.8,351.9 450.9,349.1 451,351.8 451.2,356 451.3,361.3 451.4,348.9 451.5,353.3 451.7,351.7 451.8,350.1 451.9,354.9 452,356.7 452.2,343.8 452.3,348.7 452.4,360.8 452.5,355 452.7,356.3 452.8,350.8 452.9,351.2 453,354.7 453.2,350.6 453.3,348 453.4,352.6 453.5,356.4 453.7,348.2 453.8,357 453.9,356.9 454,348.7 454.2,352.3 454.3,351.9 454.4,354.9 454.5,355 454.7,343.4 454.8,346.3 454.9,356.3 455,352.6 455.2,353.6 455.3,353.2 455.4,361.7 455.6,346.5 455.7,356.2 455.8,348 455.9,354.6 456.1,360.2 456.2,342.1 456.3,353 456.4,350 456.6,349.1 456.7,351.2 456.8,346.5 456.9,346.8 457.1,355.1 457.2,356.3 457.3,348.3 457.4,340.9 457.6,365.8 457.7,355.2 457.8,352 457.9,343.4 458.1,347.8 458.2,351.3 458.3,346 458.4,357 458.6,350.6 458.7,351.6 458.8,345.4 458.9,343.6 459.1,344.4 459.2,350.8 459.3,347.7 459.4,348.2 459.6,350.8 459.7,350.3 459.8,355.7 459.9,348.3 460.1,342.2 460.2,348.8 460.3,355.3 460.4,345.1 460.6,349 460.7,347.1 460.8,350.4 460.9,349.7 461.1,344.9 461.2,347.4 461.3,354.5 461.4,355.5 461.6,352.2 461.7,351.8 461.8,345.7 461.9,345.4 462.1,354 462.2,339.8 462.3,347.4 462.4,339.5 462.6,345.8 462.7,342.6 462.8,339.1 462.9,351.1 463.1,342.1 463.2,344.5 463.3,345.9 463.4,343.7 463.6,356.4 463.7,344.6 463.8,347.6 463.9,340.9 464.1,344.5 464.2,345 464.3,345 464.4,343.7 464.6,346.8 464.7,353 464.8,345.5 464.9,345.4 465.1,344.2 465.2,357 465.3,356.7 465.4,349.4 465.6,350.3 465.7,342.3 465.8,344.7 465.9,346.3 466.1,345.8 466.2,341.4 466.3,341.6 466.5,347.3 466.6,347 466.7,335.5 466.8,345.3 467,350.4 467.1,341.7 467.2,346.1 467.3,338 467.5,348.1 467.6,336.6 467.7,338.6 467.8,342.7 468,354.7 468.1,341.3 468.2,338.3 468.3,347 468.5,344.8 468.6,351.1 468.7,334.8 468.8,332.4 469,342.1 469.1,345.9 469.2,345.7 469.3,348.1 469.5,336.5 469.6,339.4 469.7,342.4 469.8,346.7 470,345 470.1,340.9 470.2,335.6 470.3,346.6 470.5,349.1 470.6,361.4 470.7,341.6 470.8,349.7 471,336.8 471.1,338.3 471.2,339 471.3,339.9 471.5,338 471.6,339.4 471.7,341.3 471.8,338.4 472,344.6 472.1,341.1 472.2,341.4 472.3,348 472.5,343.3 472.6,341.8 472.7,340.8 472.8,341.2 473,344.8 473.1,337 473.2,345.8 473.3,347.7 473.5,345.7 473.6,338 473.7,332.9 473.8,338.1 474,340.7 474.1,345.7 474.2,338.9 474.3,337.4 474.5,350.3 474.6,336.3 474.7,344.2 474.8,343.4 475,332.9 475.1,340.3 475.2,336.3 475.3,334.4 475.5,330.1 475.6,327.2 475.7,340.3 475.8,335.4 476,339.5 476.1,333.1 476.2,335.6 476.3,336.6 476.5,330.5 476.6,329.8 476.7,340.6 476.9,338.1 477,330.4 477.1,336.7 477.2,340.1 477.4,345.5 477.5,332.6 477.6,339.6 477.7,351.9 477.9,336.7 478,343.2 478.1,324 478.2,342.9 478.4,335.9 478.5,327 478.6,339.4 478.7,340.6 478.9,344.3 479,341.1 479.1,335 479.2,331.6 479.4,332.8 479.5,334.6 479.6,337.7 479.7,332.4 479.9,334.8 480,338.6 480.1,335.9 480.2,345.2 480.4,350 480.5,328.5 480.6,329.6 480.7,327.5 480.9,324.9 481,336.2 481.1,328.7 481.2,328.3 481.4,331.9 481.5,339 481.6,331.3 481.7,331.2 481.9,337.2 482,335 482.1,334.8 482.2,339.5 482.4,327.5 482.5,333.3 482.6,327.4 482.7,339.7 482.9,336 483,326.8 483.1,338.3 483.2,326 483.4,337.3 483.5,332.5 483.6,327.2 483.7,325.9 483.9,329.8 484,330.9 484.1,327.6 484.2,335.2 484.4,324 484.5,330.7 484.6,330.7 484.7,321.5 484.9,332.1 485,324.3 485.1,318.1 485.2,327.3 485.4,329.2 485.5,334.7 485.6,326.4 485.7,341.2 485.9,337.1 486,335.3 486.1,336.4 486.2,331.5 486.4,327 486.5,332.9 486.6,334.4 486.7,330.8 486.9,328.3 487,321.7 487.1,332.8 487.3,331.1 487.4,322.9 487.5,329.8 487.6,332.8 487.8,328.7 487.9,333.1 488,332.9 488.1,321.8 488.3,327.6 488.4,331.5 488.5,336 488.6,339.7 488.8,319.4 488.9,328.6 489,332.5 489.1,335 489.3,337.3 489.4,324.2 489.5,325.9 489.6,320.7 489.8,332.9 489.9,322.2 490,334.8 490.1,336 490.3,331.3 490.4,312 490.5,325.5 490.6,332.6 490.8,317.9 490.9,327.7 491,328.4 491.1,333.4 491.3,331 491.4,330.3 491.5,326.8 491.6,329.1 491.8,327.9 491.9,334.6 492,328.2 492.1,337 492.3,316 492.4,338.4 492.5,328.4 492.6,334.9 492.8,329.8 492.9,333.6 493,340.8 493.1,326.7 493.3,329.9 493.4,328.7 493.5,330.7 493.6,321.7 493.8,328.4 493.9,328.6 494,326 494.1,329 494.3,322.3 494.4,337 494.5,332.3 494.6,339.5 494.8,325.9 494.9,324.6 495,331.8 495.1,317.7 495.3,331.7 495.4,327.2 495.5,329.1 495.6,332.6 495.8,331.1 495.9,340.1 496,334.1 496.1,321.2 496.3,336 496.4,321 496.5,331.8 496.6,325.4 496.8,327.5 496.9,338.1 497,329 497.1,326.9 497.3,329.2 497.4,330.5 497.5,342.9 497.6,326.5 497.8,326.3 497.9,335.3 498,324.8 498.2,329.8 498.3,341.1 498.4,332.9 498.5,330.6 498.7,329.6 498.8,328.7 498.9,330.4 499,334 499.2,339.5 499.3,340.7 499.4,331 499.5,328.3 499.7,339 499.8,325.3 499.9,332.1 500,331.8 500.2,329.1 500.3,327 500.4,336.3 500.5,326.8 500.7,328 500.8,331.9 500.9,335.5 501,325 501.2,340.5 501.3,333.1 501.4,333.5 501.5,334 501.7,330.7 501.8,331.3 501.9,341.5 502,337.2 502.2,335.4 502.3,341.2 502.4,331.2 502.5,339.7 502.7,336.9 502.8,332.8 502.9,340.7 503,330.2 503.2,340.4 503.3,333.3 503.4,340.4 503.5,344.2 503.7,341.8 503.8,335.2 503.9,337.7 504,335.4 504.2,329.7 504.3,333.4 504.4,338.8 504.5,341.3 504.7,326.1 504.8,338.7 504.9,342.6 505,339.8 505.2,332.1 505.3,344.3 505.4,334.1 505.5,342.8 505.7,347.3 505.8,325.4 505.9,341.4 506,342.4 506.2,341.5 506.3,335 506.4,339.3 506.5,334.5 506.7,341.7 506.8,344.7 506.9,338.2 507,334.7 507.2,339.4 507.3,341.4 507.4,342.1 507.5,341.4 507.7,342.4 507.8,336.2 507.9,323 508,345.2 508.2,352.2 508.3,336.3 508.4,339.8 508.6,344.8 508.7,347.4 508.8,347.5 508.9,349.1 509.1,343.2 509.2,346.2 509.3,345.5 509.4,341.9 509.6,349.3 509.7,346.9 509.8,348.6 509.9,341.4 510.1,349 510.2,339.9 510.3,347.1 510.4,326.7 510.6,340.5 510.7,348.3 510.8,341.9 510.9,346.2 511.1,338.2 511.2,352.3 511.3,348.3 511.4,345.6 511.6,347.7 511.7,347.4 511.8,352.3 511.9,347.1 512.1,339.9 512.2,345.3 512.3,352.1 512.4,350.2 512.6,343.7 512.7,350.7 512.8,347.4 512.9,349.7 513.1,340.2 513.2,341 513.3,351.6 513.4,346.5 513.6,349.1 513.7,360.5 513.8,345.4 513.9,348.9 514.1,345.5 514.2,343.6 514.3,347.8 514.4,341.9 514.6,339.2 514.7,354.2 514.8,348 514.9,353.4 515.1,349.1 515.2,349.3 515.3,351.6 515.4,351.9 515.6,343.8 515.7,356.8 515.8,342.4 515.9,350 516.1,360.2 516.2,349.7 516.3,356.5 516.4,348 516.6,352.2 516.7,349.8 516.8,351.5 516.9,346.2 517.1,346 517.2,351.4 517.3,343.4 517.4,344.4 517.6,352.9 517.7,347.7 517.8,344.3 517.9,343 518.1,351.2 518.2,349.1 518.3,351.3 518.4,350 518.6,358.7 518.7,349.1 518.8,342.8 519,351.6 519.1,351.2 519.2,351.9 519.3,344.6 519.5,358.5 519.6,351.4 519.7,351.4 519.8,345 520,354.6 520.1,351.2 520.2,357.5 520.3,350.2 520.5,343.8 520.6,352.6 520.7,346.1 520.8,354 521,347.8 521.1,351.4 521.2,351.6 521.3,352.4 521.5,350.5 521.6,347.3 521.7,352.6 521.8,348.9 522,353.7 522.1,351.9 522.2,338.6 522.3,352.9 522.5,359 522.6,354.6 522.7,357 522.8,355.4 523,350.4 523.1,348.2 523.2,357 523.3,358.1 523.5,356.2 523.6,355.7 523.7,355.6 523.8,354 524,355.7 524.1,354.3 524.2,355.6 524.3,348.2 524.5,351.9 524.6,356.8 524.7,353.2 524.8,344.9 525,355.2 525.1,345.6 525.2,362.6 525.3,357.9 525.5,359 525.6,352.4 525.7,350.6 525.8,354.4 526,355.4 526.1,352.3 526.2,356.1 526.3,358.3 526.5,359.1 526.6,351.5 526.7,347.1 526.8,355.6 527,353.3 527.1,357.8 527.2,366 527.3,366 527.5,357.8 527.6,360.7 527.7,366.2 527.8,356.6 528,357.6 528.1,359.9 528.2,356.5 528.3,353.4 528.5,352 528.6,356.9 528.7,354.5 528.8,360.1 529,355.7 529.1,362.9 529.2,362 529.3,349.5 529.5,363.7 529.6,355.8 529.7,365.6 529.9,360.5 530,357.2 530.1,360.3 530.2,355.6 530.4,359.1 530.5,359.4 530.6,357.4 530.7,359.5 530.9,351.9 531,360.3 531.1,353.5 531.2,360.7 531.4,361 531.5,362.5 531.6,355 531.7,370.4 531.9,357.8 532,359.3 532.1,355.9 532.2,367.3 532.4,357.1 532.5,362.8 532.6,355.4 532.7,360.3 532.9,356.8 533,362.8 533.1,358.2 533.2,356.1 533.4,361.2 533.5,352.3 533.6,355.9 533.7,362.6 533.9,352.5 534,364.2 534.1,357.4 534.2,356.4 534.4,360.9 534.5,362.5 534.6,357.9 534.7,359.5 534.9,364.8 535,363.2 535.1,360 535.2,357.5 535.4,354.8 535.5,357 535.6,363.2 535.7,362.9 535.9,361.9 536,366.1 536.1,359.7 536.2,358.6 536.4,358.7 536.5,368.3 536.6,353.4 536.7,362.3 536.9,362.9 537,361.5 537.1,370.2 537.2,365.8 537.4,364.4 537.5,358.2 537.6,363.5 537.7,360.3 537.9,361.9 538,362.5 538.1,359 538.2,364.3 538.4,368.1 538.5,365.9 538.6,362.9 538.7,354.9 538.9,368.4 539,368.4 539.1,361.2 539.2,360.6 539.4,364.9 539.5,357.8 539.6,367.1 539.7,358.6 539.9,359.2 540,362.8" fill="none" stroke="#000" stroke-width="1.2" stroke-linejoin="round" stroke-linecap="round" />
<polyline points="64,278.1 64.1,271.9 64.3,283.6 64.4,274 64.5,271.9 64.6,268.8 64.8,271.4 64.9,277.1 65,274.7 65.1,273.5 65.3,270.5 65.4,272.3 65.5,274.2 65.6,268.3 65.8,260.4 65.9,276.4 66,272.8 66.1,267.1 66.3,269.9 66.4,267.9 66.5,257.6 66.6,268.1 66.8,259.5 66.9,269.8 67,268.4 67.1,276.4 67.3,268.4 67.4,271.4 67.5,267.6 67.6,266.3 67.8,259.6 67.9,275.4 68,269.6 68.1,266.3 68.3,269.7 68.4,267 68.5,265.7 68.6,270.5 68.8,274 68.9,267 69,262.6 69.1,266.1 69.3,280.7 69.4,265.2 69.5,273.8 69.6,267.1 69.8,271.9 69.9,268 70,261.9 70.1,266.9 70.3,277.8 70.4,267.8 70.5,272.4 70.6,266.4 70.8,268 70.9,270 71,270.6 71.1,278.1 71.3,268.5 71.4,267.8 71.5,265.7 71.6,259.8 71.8,261.6 71.9,271.3 72,256.1 72.1,274.5 72.3,272.1 72.4,267.2 72.5,263.4 72.6,268.5 72.8,268.5 72.9,275.9 73,263.4 73.1,266.7 73.3,268 73.4,267.1 73.5,264.1 73.6,260.9 73.8,257.3 73.9,265.3 74,266.7 74.1,272.5 74.3,278.2 74.4,275.6 74.5,270.8 74.7,276.2 74.8,267.6 74.9,265.8 75,278.1 75.2,260.9 75.3,265.3 75.4,266.9 75.5,277.7 75.7,265.4 75.8,271.3 75.9,266.2 76,262.6 76.2,269.5 76.3,268.6 76.4,262.8 76.5,264.1 76.7,262.5 76.8,271.9 76.9,269.8 77,268.8 77.2,271 77.3,265.6 77.4,269.7 77.5,265 77.7,261.8 77.8,264.6 77.9,268.5 78,268.2 78.2,272.1 78.3,260.2 78.4,266.5 78.5,269.2 78.7,261 78.8,268.5 78.9,265.6 79,262.5 79.2,272.2 79.3,258 79.4,274 79.5,264.5 79.7,260.9 79.8,263.4 79.9,264 80,263.5 80.2,268.3 80.3,259 80.4,272.5 80.5,270.7 80.7,276.4 80.8,260.4 80.9,256.9 81,262.8 81.2,266.2 81.3,269 81.4,264.6 81.5,266.3 81.7,267.8 81.8,260 81.9,274.6 82,261.8 82.2,267.9 82.3,271.4 82.4,263.2 82.5,266.6 82.7,273.7 82.8,265.3 82.9,273.6 83,267.8 83.2,267.5 83.3,271.3 83.4,265.4 83.5,265 83.7,272.9 83.8,268.1 83.9,269.7 84,261.1 84.2,266.3 84.3,271.5 84.4,270.1 84.5,267.7 84.7,263.9 84.8,263.4 84.9,268 85,272.3 85.2,266.2 85.3,271.7 85.4,264 85.6,271.2 85.7,261.5 85.8,266.7 85.9,261.1 86.1,268.6 86.2,268.2 86.3,261.5 86.4,262.3 86.6,263.6 86.7,259 86.8,259.2 86.9,259.6 87.1,270.7 87.2,271.4 87.3,262.3 87.4,263.9 87.6,266.1 87.7,262.8 87.8,263.1 87.9,268.6 88.1,266.5 88.2,264.4 88.3,260.9 88.4,274.7 88.6,261.9 88.7,265.4 88.8,259.9 88.9,260.4 89.1,264.7 89.2,262.5 89.3,266.5 89.4,264.4 89.6,257.8 89.7,253.7 89.8,268.2 89.9,261.1 90.1,273.9 90.2,263.7 90.3,260.1 90.4,267.3 90.6,262.1 90.7,263.3 90.8,259 90.9,265.9 91.1,267.8 91.2,260.5 91.3,270.7 91.4,260.1 91.6,263.7 91.7,255.1 91.8,253.7 91.9,276.8 92.1,268.5 92.2,267.2 92.3,254.3 92.4,262.8 92.6,263.6 92.7,262 92.8,262.8 92.9,257.2 93.1,260.6 93.2,253.2 93.3,259.5 93.4,262.6 93.6,257.3 93.7,259.5 93.8,258.6 93.9,260.6 94.1,266.9 94.2,261.3 94.3,261.9 94.4,253.5 94.6,258.2 94.7,265.6 94.8,255.7 94.9,257.5 95.1,255 95.2,268.7 95.3,256 95.4,255.7 95.6,261.7 95.7,266.6 95.8,260.9 96,263 96.1,259.9 96.2,257.7 96.3,256.1 96.5,255.6 96.6,253.6 96.7,259.4 96.8,257.1 97,257.9 97.1,261.7 97.2,256.9 97.3,250.7 97.5,251.3 97.6,251.6 97.7,243 97.8,257 98,250.8 98.1,250.2 98.2,251 98.3,260 98.5,253.6 98.6,262.9 98.7,255.1 98.8,253.3 99,257.9 99.1,257.9 99.2,255.8 99.3,247.3 99.5,251.3 99.6,248.9 99.7,252.5 99.8,254.7 100,261.1 100.1,264.3 100.2,257 100.3,258.1 100.5,255.1 100.6,273.6 100.7,260.4 100.8,265.5 101,254.6 101.1,254.5 101.2,257.4 101.3,253 101.5,253.4 101.6,247 101.7,256 101.8,251.9 102,255 102.1,249.2 102.2,242 102.3,254.1 102.5,255.8 102.6,243.6 102.7,244.9 102.8,247.9 103,247.9 103.1,240.5 103.2,257.2 103.3,253.3 103.5,245 103.6,234 103.7,249.3 103.8,257 104,251 104.1,255.5 104.2,241.7 104.3,247.2 104.5,234.2 104.6,255.3 104.7,249.5 104.8,228.6 105,230.2 105.1,246.6 105.2,245 105.3,241.2 105.5,246.4 105.6,253.1 105.7,244.5 105.8,233.2 106,241.2 106.1,235 106.2,235.1 106.4,242.7 106.5,239.4 106.6,235 106.7,240 106.9,235.6 107,243.7 107.1,237.9 107.2,240.8 107.4,237.1 107.5,244.1 107.6,236.7 107.7,237.4 107.9,234.2 108,237.6 108.1,227.2 108.2,250.2 108.4,232.2 108.5,236 108.6,232.7 108.7,232.3 108.9,236.7 109,231.5 109.1,231.6 109.2,222.2 109.4,228.3 109.5,223.2 109.6,242.3 109.7,225.1 109.9,226.2 110,232.7 110.1,243.2 110.2,216.9 110.4,222.4 110.5,231.1 110.6,232 110.7,222.2 110.9,219.7 111,221.1 111.1,233.1 111.2,228.5 111.4,232.5 111.5,227.5 111.6,227.7 111.7,232.7 111.9,226.6 112,228.3 112.1,221.7 112.2,223.2 112.4,228.9 112.5,224.7 112.6,221.6 112.7,229.2 112.9,228.3 113,225 113.1,220.5 113.2,229.6 113.4,238.3 113.5,216.9 113.6,215.2 113.7,216.9 113.9,218.2 114,212.2 114.1,216.4 114.2,227.7 114.4,227.6 114.5,230.9 114.6,226.6 114.7,217.9 114.9,231.5 115,218.4 115.1,219.7 115.2,211.2 115.4,232.1 115.5,230.1 115.6,216.9 115.7,219.2 115.9,221 116,221.8 116.1,225.3 116.2,220.8 116.4,222.5 116.5,211.4 116.6,218.1 116.7,209.4 116.9,229.8 117,227.4 117.1,225.5 117.3,225.5 117.4,230.5 117.5,224.2 117.6,209.4 117.8,216.5 117.9,197.2 118,213.5 118.1,210.8 118.3,217.8 118.4,221.1 118.5,212.2 118.6,215.8 118.8,219.7 118.9,215.6 119,215.9 119.1,202.8 119.3,212.6 119.4,223.5 119.5,217.9 119.6,207.5 119.8,214.5 119.9,217.5 120,210.1 120.1,219.6 120.3,208.1 120.4,212.2 120.5,214.1 120.6,235.1 120.8,211.9 120.9,211.4 121,218.8 121.1,210.1 121.3,215.5 121.4,200.9 121.5,215.8 121.6,213.8 121.8,206.2 121.9,226 122,212.1 122.1,212.3 122.3,201.1 122.4,203.5 122.5,207.7 122.6,203.9 122.8,217.2 122.9,217.8 123,206.6 123.1,202.8 123.3,209.9 123.4,205.8 123.5,213.5 123.6,213 123.8,207.7 123.9,212.2 124,221.1 124.1,227.1 124.3,208.2 124.4,215.6 124.5,208.8 124.6,204.7 124.8,222.7 124.9,214.3 125,211.5 125.1,212.7 125.3,209.5 125.4,204.1 125.5,221 125.6,215.6 125.8,211.7 125.9,215.8 126,221.7 126.1,208.6 126.3,215.1 126.4,207.7 126.5,215.4 126.6,207.9 126.8,224.1 126.9,207.2 127,212.4 127.1,212 127.3,207.1 127.4,214.7 127.5,208.4 127.7,204.9 127.8,208.8 127.9,204.2 128,215.9 128.2,212.4 128.3,214.5 128.4,200.3 128.5,210.1 128.7,203.7 128.8,208.9 128.9,220.1 129,209.8 129.2,207.1 129.3,215 129.4,217.5 129.5,219.3 129.7,196.7 129.8,210 129.9,203.9 130,202.6 130.2,208.6 130.3,200.8 130.4,194.3 130.5,199.2 130.7,206.2 130.8,219.2 130.9,203.4 131,200.7 131.2,195.7 131.3,205.6 131.4,206.3 131.5,208.7 131.7,198.9 131.8,203.1 131.9,193.9 132,208.8 132.2,198.2 132.3,191.1 132.4,218.6 132.5,210.9 132.7,210 132.8,210.1 132.9,201.7 133,214.6 133.2,201.7 133.3,225.9 133.4,210.2 133.5,197 133.7,216.3 133.8,220.4 133.9,206.9 134,215 134.2,207.3 134.3,202.7 134.4,193.1 134.5,216.3 134.7,204.6 134.8,211.3 134.9,202.3 135,203.7 135.2,216.1 135.3,207.1 135.4,207.1 135.5,202 135.7,211.6 135.8,214.6 135.9,207.2 136,209 136.2,198.8 136.3,218.8 136.4,206.8 136.5,209 136.7,220.9 136.8,209.5 136.9,201.7 137,202.5 137.2,209.1 137.3,222.1 137.4,213.5 137.5,210.4 137.7,219.4 137.8,219.8 137.9,207.7 138.1,220.9 138.2,220.3 138.3,215.3 138.4,198.7 138.6,214.7 138.7,221.5 138.8,211.7 138.9,227.2 139.1,214.1 139.2,204.4 139.3,217.5 139.4,215.9 139.6,219.3 139.7,213.2 139.8,222.4 139.9,211.5 140.1,216.1 140.2,207.8 140.3,208 140.4,216.7 140.6,211.8 140.7,211.7 140.8,214.1 140.9,217.7 141.1,220.9 141.2,221.1 141.3,222.8 141.4,218.2 141.6,213.9 141.7,202.9 141.8,215.5 141.9,213 142.1,207.2 142.2,227.7 142.3,207.5 142.4,220.5 142.6,221.8 142.7,217.4 142.8,234 142.9,219.2 143.1,214.8 143.2,229.7 143.3,215 143.4,211.5 143.6,214.1 143.7,216.4 143.8,220.6 143.9,223.4 144.1,211.8 144.2,222.8 144.3,240.8 144.4,214.7 144.6,220.5 144.7,225.5 144.8,228.6 144.9,218 145.1,216.4 145.2,213.1 145.3,228.6 145.4,227.6 145.6,203.4 145.7,210.6 145.8,215.9 145.9,214.6 146.1,225.7 146.2,225.5 146.3,235 146.4,228.5 146.6,224.9 146.7,234.7 146.8,216.7 146.9,212.5 147.1,225.3 147.2,230.6 147.3,211.3 147.4,230.8 147.6,233.4 147.7,223.3 147.8,227.8 147.9,225.1 148.1,227.3 148.2,234 148.3,222.8 148.4,233.4 148.6,232.7 148.7,233.1 148.8,211.2 149,212.4 149.1,232.6 149.2,223.9 149.3,225.4 149.5,225.2 149.6,218.2 149.7,228.3 149.8,223.9 150,226.8 150.1,233.3 150.2,224.4 150.3,237.3 150.5,212.4 150.6,252.7 150.7,224.4 150.8,235.2 151,237.3 151.1,232.5 151.2,236.8 151.3,232.3 151.5,223.6 151.6,235.2 151.7,239.8 151.8,229.1 152,219.7 152.1,231 152.2,236.2 152.3,236.2 152.5,243.9 152.6,239.6 152.7,239.3 152.8,224.6 153,247.5 153.1,236 153.2,240.5 153.3,234.2 153.5,235.4 153.6,236.8 153.7,249.5 153.8,249.2 154,241.9 154.1,247.6 154.2,233.9 154.3,240.1 154.5,233.6 154.6,244.4 154.7,237.9 154.8,243 155,252 155.1,220.9 155.2,255.8 155.3,239.9 155.5,236.6 155.6,228.2 155.7,236 155.8,226.4 156,239.2 156.1,237.4 156.2,253.7 156.3,237.3 156.5,247.8 156.6,245.3 156.7,250.2 156.8,238 157,243.4 157.1,227.1 157.2,233.7 157.3,238.2 157.5,239.5 157.6,233.3 157.7,237.6 157.8,243.5 158,237.5 158.1,239.1 158.2,232.7 158.3,247.2 158.5,249.3 158.6,240.9 158.7,238.5 158.8,246.8 159,238.9 159.1,228.7 159.2,224.6 159.4,224.3 159.5,245.8 159.6,220.1 159.7,246.5 159.9,216.9 160,212.3 160.1,218.4 160.2,205.3 160.4,207.3 160.5,193.8 160.6,184.9 160.7,189.9 160.9,193.9 161,185.8 161.1,175.1 161.2,190.5 161.4,185.2 161.5,184 161.6,181.9 161.7,162.8 161.9,198.8 162,186.1 162.1,194.8 162.2,202.7 162.4,203.3 162.5,200.5 162.6,201.4 162.7,207.3 162.9,213.1 163,214.2 163.1,209.7 163.2,219.8 163.4,223.7 163.5,227.4 163.6,228.1 163.7,236.8 163.9,233.4 164,238.8 164.1,236.2 164.2,232.9 164.4,231.3 164.5,238.6 164.6,243.4 164.7,247.8 164.9,241.3 165,238.2 165.1,240.3 165.2,253.8 165.4,244.8 165.5,241.9 165.6,248.8 165.7,238.7 165.9,246.5 166,246.1 166.1,246.2 166.2,241.4 166.4,252.6 166.5,256.5 166.6,241.8 166.7,249.4 166.9,252.4 167,260.8 167.1,247.8 167.2,245.5 167.4,250.5 167.5,260.8 167.6,251.4 167.7,253.4 167.9,260.4 168,241.4 168.1,241.5 168.2,256.8 168.4,256.4 168.5,242.4 168.6,255.6 168.7,253.6 168.9,254.5 169,249.7 169.1,251.6 169.2,249.8 169.4,254.4 169.5,253.2 169.6,262.7 169.7,257.7 169.9,247.2 170,258.1 170.1,262.1 170.3,257.4 170.4,263.5 170.5,255.4 170.6,261 170.8,251.4 170.9,259.8 171,246 171.1,262.5 171.3,249.2 171.4,246.5 171.5,259.2 171.6,256 171.8,257.5 171.9,259.1 172,257.1 172.1,253.2 172.3,259.1 172.4,260.2 172.5,261.4 172.6,272.4 172.8,252.6 172.9,258.5 173,260.9 173.1,256.3 173.3,252.8 173.4,256 173.5,266.5 173.6,257.6 173.8,261.9 173.9,253.8 174,262.5 174.1,256.2 174.3,253.3 174.4,260.4 174.5,259.9 174.6,266.7 174.8,248.2 174.9,262.4 175,267.6 175.1,266.6 175.3,258.5 175.4,255.5 175.5,258.2 175.6,262 175.8,261.6 175.9,262.5 176,265.2 176.1,253.4 176.3,253.1 176.4,252.5 176.5,255.1 176.6,261 176.8,263 176.9,279.7 177,264.2 177.1,261.9 177.3,268.5 177.4,258.6 177.5,263.7 177.6,266.7 177.8,265.9 177.9,264.2 178,260.9 178.1,256.8 178.3,261.5 178.4,258.5 178.5,266 178.6,262.3 178.8,265.5 178.9,251.7 179,267.6 179.1,259.3 179.3,252.3 179.4,257.1 179.5,260.6 179.6,271.5 179.8,266.9 179.9,258.3 180,264.4 180.1,263.4 180.3,256.8 180.4,259.5 180.5,254.8 180.7,258 180.8,252.2 180.9,260.7 181,260.1 181.2,258.8 181.3,258.7 181.4,269.8 181.5,262.2 181.7,265.8 181.8,268.2 181.9,268.9 182,268 182.2,262.4 182.3,257.4 182.4,259.7 182.5,263 182.7,265.2 182.8,264.9 182.9,270.3 183,264.9 183.2,277.9 183.3,270.1 183.4,263.4 183.5,269.5 183.7,245.7 183.8,271.9 183.9,267.6 184,268.6 184.2,258.4 184.3,283.4 184.4,264.3 184.5,265.1 184.7,271.2 184.8,265.3 184.9,260.3 185,269.2 185.2,261.8 185.3,271.5 185.4,267.1 185.5,274.3 185.7,261.1 185.8,272.1 185.9,268.7 186,280.3 186.2,263.8 186.3,275.1 186.4,270 186.5,272.3 186.7,263.7 186.8,270.8 186.9,271.6 187,263.4 187.2,259.1 187.3,261.8 187.4,273.7 187.5,267.9 187.7,271.4 187.8,268.6 187.9,267.9 188,268.9 188.2,265.6 188.3,272.9 188.4,268.3 188.5,269.1 188.7,261.5 188.8,269 188.9,263.1 189,265.5 189.2,272.3 189.3,263 189.4,266.5 189.5,270.6 189.7,273 189.8,264.4 189.9,270.2 190,269.3 190.2,263.1 190.3,253.5 190.4,259.6 190.5,270.8 190.7,268.9 190.8,259.1 190.9,265.4 191.1,266.5 191.2,266.8 191.3,268.2 191.4,283.4 191.6,265 191.7,269.1 191.8,265.1 191.9,264.3 192.1,264.7 192.2,267.1 192.3,266.2 192.4,270.2 192.6,269.7 192.7,264.8 192.8,277.2 192.9,263.7 193.1,270.4 193.2,278.4 193.3,264.1 193.4,274.8 193.6,275.2 193.7,271.3 193.8,256.5 193.9,278.7 194.1,269.5 194.2,266.8 194.3,274.8 194.4,266 194.6,273.9 194.7,266.9 194.8,271.7 194.9,264.6 195.1,267.6 195.2,263.2 195.3,264.6 195.4,270.3 195.6,268.7 195.7,270.3 195.8,275.1 195.9,269.1 196.1,257 196.2,268.3 196.3,270 196.4,276.5 196.6,274.2 196.7,273.8 196.8,268.2 196.9,272.6 197.1,260 197.2,275.4 197.3,271.7 197.4,273.2 197.6,268.2 197.7,270.2 197.8,265.4 197.9,272.3 198.1,264.1 198.2,274.1 198.3,272.3 198.4,278.8 198.6,269.8 198.7,269.5 198.8,271.3 198.9,270.1 199.1,269.5 199.2,265.2 199.3,262.5 199.4,267.5 199.6,268 199.7,262 199.8,264.9 199.9,268.1 200.1,273.2 200.2,269.2 200.3,274.6 200.4,274.2 200.6,273.3 200.7,267.1 200.8,268.2 200.9,261.8 201.1,266.9 201.2,271.9 201.3,265.1 201.4,275.7 201.6,276.1 201.7,267.3 201.8,273.8 202,260.1 202.1,265.1 202.2,268 202.3,269.6 202.5,268.3 202.6,265.7 202.7,282.7 202.8,270.7 203,271.3 203.1,272.3 203.2,270 203.3,268.2 203.5,266.7 203.6,261.9 203.7,275.5 203.8,264.9 204,261.5 204.1,263.3 204.2,261.7 204.3,282.2 204.5,270.1 204.6,274.7 204.7,274.8 204.8,270.8 205,270.7 205.1,264.9 205.2,267.5 205.3,263.8 205.5,268.2 205.6,264.7 205.7,273.3 205.8,271 206,266.8 206.1,260 206.2,270.3 206.3,271.1 206.5,266.8 206.6,261.4 206.7,269.9 206.8,271.5 207,258.1 207.1,269.1 207.2,258.4 207.3,266.9 207.5,274 207.6,266.5 207.7,268.2 207.8,263.7 208,265.7 208.1,276.2 208.2,271.5 208.3,264 208.5,263.6 208.6,265.2 208.7,274.9 208.8,265.9 209,269.8 209.1,262.1 209.2,258.8 209.3,270.4 209.5,263.9 209.6,260.6 209.7,259.2 209.8,260.8 210,259.5 210.1,256.6 210.2,268.9 210.3,265.1 210.5,267.6 210.6,261.5 210.7,264.5 210.8,263.6 211,270.9 211.1,266.2 211.2,264.9 211.3,257.7 211.5,256.6 211.6,258.3 211.7,257.3 211.8,259.2 212,252.8 212.1,273.2 212.2,262.5 212.4,246.8 212.5,253.2 212.6,251.3 212.7,261.8 212.9,265.4 213,255.8 213.1,264.7 213.2,258.8 213.4,265.3 213.5,266.1 213.6,261.1 213.7,264.6 213.9,259.3 214,257.5 214.1,250.7 214.2,260.4 214.4,258.3 214.5,256.8 214.6,258.1 214.7,257.4 214.9,250.7 215,255.5 215.1,263.2 215.2,256.6 215.4,267.7 215.5,252 215.6,250.9 215.7,257.7 215.9,260.6 216,253.6 216.1,259.5 216.2,263.2 216.4,261.3 216.5,255.2 216.6,255.5 216.7,247.7 216.9,255.5 217,256.5 217.1,265.4 217.2,245.4 217.4,250.5 217.5,249.5 217.6,258.4 217.7,241.7 217.9,248.4 218,263.3 218.1,256.4 218.2,246.5 218.4,252.3 218.5,258.8 218.6,256.3 218.7,250.3 218.9,247.9 219,255.5 219.1,251.2 219.2,257.1 219.4,252.6 219.5,246.9 219.6,261.1 219.7,247.5 219.9,252.9 220,246.2 220.1,248 220.2,246.9 220.4,243.5 220.5,250.1 220.6,254.5 220.7,262 220.9,254.6 221,246.3 221.1,254.1 221.2,249.8 221.4,260.2 221.5,239.6 221.6,257.2 221.7,242.3 221.9,254.1 222,241.1 222.1,249.1 222.2,242.7 222.4,234.3 222.5,238.6 222.6,241.3 222.8,243 222.9,231.2 223,236.2 223.1,238.2 223.3,240.6 223.4,242.5 223.5,236.8 223.6,228.6 223.8,242 223.9,237.5 224,244.4 224.1,236.7 224.3,242.5 224.4,234.2 224.5,239.9 224.6,238.9 224.8,241.5 224.9,230 225,236.3 225.1,230 225.3,235.8 225.4,239.6 225.5,251.8 225.6,235.9 225.8,239.2 225.9,235.6 226,240.8 226.1,236.9 226.3,239.7 226.4,236.7 226.5,253.4 226.6,240.6 226.8,218.6 226.9,234.1 227,232.6 227.1,213.4 227.3,226.9 227.4,228.8 227.5,226.9 227.6,231.3 227.8,220.5 227.9,234.1 228,236.3 228.1,231.3 228.3,227.3 228.4,228.8 228.5,225.9 228.6,234.5 228.8,230.7 228.9,238.7 229,225.3 229.1,235.1 229.3,223.5 229.4,225 229.5,220.3 229.6,228.8 229.8,225.2 229.9,228.8 230,233.4 230.1,224.4 230.3,226.6 230.4,229.2 230.5,223.5 230.6,220.4 230.8,225.2 230.9,227.3 231,229.4 231.1,226.9 231.3,218 231.4,225.4 231.5,228.2 231.6,216.6 231.8,222.5 231.9,216.4 232,221.2 232.1,234.8 232.3,220.5 232.4,212.9 232.5,221.3 232.6,219 232.8,223.9 232.9,209 233,211.2 233.1,215.8 233.3,206.7 233.4,222.1 233.5,196.6 233.7,209.8 233.8,205.5 233.9,210 234,218.3 234.2,218.7 234.3,218.3 234.4,218 234.5,199.8 234.7,213.5 234.8,194.2 234.9,207.9 235,208.2 235.2,206.9 235.3,212.8 235.4,204.6 235.5,219.7 235.7,214.5 235.8,219.7 235.9,212.8 236,216.3 236.2,207.3 236.3,219.3 236.4,200.5 236.5,209.5 236.7,206.5 236.8,204.8 236.9,209 237,201 237.2,210.8 237.3,210 237.4,205.6 237.5,209.3 237.7,198.1 237.8,193.1 237.9,200.6 238,202.6 238.2,219.4 238.3,201.6 238.4,210 238.5,211.7 238.7,216.6 238.8,204 238.9,207.3 239,201.9 239.2,197.7 239.3,196.8 239.4,198.2 239.5,212 239.7,205.9 239.8,201.7 239.9,203.4 240,199.7 240.2,203 240.3,203.2 240.4,209.9 240.5,209.4 240.7,193.7 240.8,205.5 240.9,212.8 241,198.2 241.2,203.2 241.3,206 241.4,215.8 241.5,209.2 241.7,203.7 241.8,209.2 241.9,212.8 242,210.4 242.2,224.7 242.3,210 242.4,201.3 242.5,203.3 242.7,207.6 242.8,207.6 242.9,213 243,211.7 243.2,226 243.3,215.3 243.4,224.6 243.5,206.6 243.7,209.1 243.8,216.2 243.9,213 244.1,216.7 244.2,215.7 244.3,210.1 244.4,224.3 244.6,221.4 244.7,205.9 244.8,211.9 244.9,216.1 245.1,222.6 245.2,216.2 245.3,209.3 245.4,222.5 245.6,216.9 245.7,225.5 245.8,220.7 245.9,225.2 246.1,224.6 246.2,225.3 246.3,216.2 246.4,226.9 246.6,222.5 246.7,214.7 246.8,219.9 246.9,219.6 247.1,225.5 247.2,227 247.3,213.9 247.4,230.2 247.6,223.6 247.7,215.3 247.8,232 247.9,220.7 248.1,218.6 248.2,229.7 248.3,230.8 248.4,222.4 248.6,235.4 248.7,235.2 248.8,224 248.9,238.2 249.1,227.1 249.2,228.9 249.3,214.8 249.4,231.7 249.6,223.3 249.7,231.2 249.8,219.7 249.9,235.7 250.1,237.6 250.2,240.2 250.3,214.1 250.4,235.5 250.6,232.6 250.7,214.7 250.8,227.4 250.9,231.2 251.1,243.8 251.2,225.4 251.3,233.6 251.4,232.5 251.6,236.2 251.7,231.2 251.8,238.4 251.9,239.1 252.1,226.9 252.2,240.4 252.3,228.7 252.4,233.6 252.6,241.2 252.7,236.1 252.8,238.9 252.9,240.3 253.1,239.5 253.2,233.8 253.3,231.9 253.4,240.7 253.6,241.4 253.7,240.7 253.8,237 253.9,242.7 254.1,238.3 254.2,227.9 254.3,240.4 254.5,241.8 254.6,243.4 254.7,235.1 254.8,236 255,241.8 255.1,237 255.2,240.2 255.3,245.6 255.5,244.3 255.6,250.6 255.7,242.9 255.8,250.4 256,247.3 256.1,255 256.2,242.3 256.3,242 256.5,253 256.6,240.2 256.7,240.7 256.8,244.4 257,246.5 257.1,236.4 257.2,245.8 257.3,242.2 257.5,243.8 257.6,245.7 257.7,243.3 257.8,249.7 258,248.5 258.1,243.6 258.2,245.1 258.3,253 258.5,251.2 258.6,251.3 258.7,244.4 258.8,246.4 259,255.2 259.1,245.1 259.2,253.7 259.3,249.6 259.5,243.3 259.6,238.5 259.7,248.6 259.8,242 260,240.3 260.1,236.9 260.2,251.4 260.3,246 260.5,245.6 260.6,247.5 260.7,246.7 260.8,246 261,249.7 261.1,244.1 261.2,226 261.3,249.2 261.5,249 261.6,245.9 261.7,258 261.8,238.5 262,231.1 262.1,252.9 262.2,247.5 262.3,237.3 262.5,243.4 262.6,248.5 262.7,236.4 262.8,248.2 263,255.9 263.1,252.3 263.2,245.2 263.3,248.2 263.5,240.7 263.6,246 263.7,243.7 263.8,240.4 264,238.7 264.1,254.9 264.2,245.7 264.3,237.7 264.5,243.2 264.6,257 264.7,258 264.8,242.2 265,247 265.1,252.4 265.2,243.5 265.4,239.4 265.5,238 265.6,245.2 265.7,241.3 265.9,235.5 266,244 266.1,249.8 266.2,250.7 266.4,244 266.5,260 266.6,241.2 266.7,244.8 266.9,238.3 267,248.9 267.1,244.4 267.2,236.6 267.4,240.9 267.5,259.1 267.6,250.8 267.7,245.5 267.9,249.2 268,237 268.1,240.8 268.2,238.3 268.4,238.8 268.5,243 268.6,247.5 268.7,249.9 268.9,249.7 269,258.2 269.1,242.3 269.2,244.9 269.4,249 269.5,240.6 269.6,242.8 269.7,248.1 269.9,240.3 270,247.1 270.1,250.8 270.2,239.1 270.4,233.3 270.5,245.6 270.6,239.5 270.7,245.5 270.9,242.4 271,246.1 271.1,253.6 271.2,248.7 271.4,242.8 271.5,238.7 271.6,232.2 271.7,228 271.9,240.6 272,245 272.1,241.1 272.2,241.5 272.4,232.3 272.5,236.2 272.6,235.8 272.7,247.5 272.9,234.5 273,247.7 273.1,239.8 273.2,247 273.4,245.5 273.5,248 273.6,253.5 273.7,240.3 273.9,236.8 274,242 274.1,240.3 274.2,247.4 274.4,243.3 274.5,244.1 274.6,247.4 274.7,241.7 274.9,249.6 275,234.9 275.1,245.3 275.2,246.7 275.4,240.4 275.5,240.8 275.6,248.8 275.8,242 275.9,234.9 276,234.2 276.1,249.6 276.3,240.3 276.4,251.3 276.5,255.4 276.6,244 276.8,247.8 276.9,241.1 277,243.3 277.1,240.1 277.3,248.5 277.4,235.9 277.5,245.2 277.6,246.3 277.8,248.7 277.9,235.8 278,237.6 278.1,242.3 278.3,245.1 278.4,248 278.5,248.6 278.6,257.2 278.8,250.7 278.9,252.1 279,245.5 279.1,251.9 279.3,251.7 279.4,251.8 279.5,248.2 279.6,251.9 279.8,256.5 279.9,245.5 280,239.1 280.1,253.7 280.3,253.6 280.4,248.5 280.5,248.3 280.6,263.9 280.8,248.7 280.9,242.1 281,247.9 281.1,254.1 281.3,249 281.4,250.3 281.5,254.6 281.6,250.6 281.8,253.8 281.9,253 282,248.4 282.1,254.2 282.3,248.5 282.4,258.6 282.5,250.1 282.6,253.6 282.8,241.8 282.9,253.1 283,249.7 283.1,262.7 283.3,255.4 283.4,260 283.5,248.4 283.6,247.9 283.8,256.3 283.9,247.6 284,262.8 284.1,254.9 284.3,258.8 284.4,260.5 284.5,257.9 284.6,262.4 284.8,256.1 284.9,261.1 285,265.1 285.1,260.9 285.3,261 285.4,258.9 285.5,261 285.6,263.9 285.8,259.4 285.9,253.9 286,262.4 286.2,260.8 286.3,265.3 286.4,262.6 286.5,273.3 286.7,254.6 286.8,258.8 286.9,267.7 287,259 287.2,265.2 287.3,263.9 287.4,250.9 287.5,267.3 287.7,270.6 287.8,265.7 287.9,255.6 288,268.7 288.2,260.9 288.3,264.8 288.4,267.6 288.5,262.7 288.7,258.9 288.8,265.8 288.9,266.2 289,263.1 289.2,263.5 289.3,270.2 289.4,266.5 289.5,265.3 289.7,265 289.8,268.4 289.9,268.2 290,267.2 290.2,258.9 290.3,265.7 290.4,265.6 290.5,268.8 290.7,273.4 290.8,272.7 290.9,271.5 291,269.6 291.2,267.7 291.3,271.3 291.4,267.3 291.5,268 291.7,266.1 291.8,269.5 291.9,269.5 292,277.6 292.2,272.4 292.3,268.6 292.4,273.5 292.5,267.4 292.7,277 292.8,275.6 292.9,289.2 293,266.5 293.2,270.5 293.3,270.4 293.4,272.6 293.5,275.9 293.7,267.6 293.8,267 293.9,273.1 294,278 294.2,264.9 294.3,265.9 294.4,277 294.5,275.9 294.7,279.3 294.8,268.7 294.9,272 295,273.8 295.2,275.7 295.3,272.7 295.4,272.9 295.5,277.5 295.7,271.8 295.8,271.4 295.9,272 296,271.8 296.2,274.7 296.3,273.3 296.4,271.4 296.5,280 296.7,275.6 296.8,273.2 296.9,279.7 297.1,272.6 297.2,274.8 297.3,274.6 297.4,272.8 297.6,272.8 297.7,275.7 297.8,269.8 297.9,274 298.1,277.1 298.2,276.8 298.3,277 298.4,290.1 298.6,280 298.7,275.2 298.8,275.8 298.9,276.4 299.1,278.2 299.2,275.5 299.3,285.7 299.4,272.5 299.6,279.4 299.7,279 299.8,272.7 299.9,279.7 300.1,279.5 300.2,273.5 300.3,286.5 300.4,281.8 300.6,276.5 300.7,274.9 300.8,275.1 300.9,279.5 301.1,278.4 301.2,272.8 301.3,274.3 301.4,275.7 301.6,277 301.7,277.2 301.8,276.1 301.9,281.2 302.1,284.4 302.2,279.2 302.3,266.1 302.4,278.5 302.6,282.4 302.7,279 302.8,280.9 302.9,279.9 303.1,270.8 303.2,264.8 303.3,282.1 303.4,277.9 303.6,281.5 303.7,278.9 303.8,279 303.9,288 304.1,275.7 304.2,280.3 304.3,274 304.4,280.8 304.6,283.3 304.7,283.1 304.8,281.3 304.9,275.6 305.1,281.8 305.2,284.3 305.3,284.8 305.4,289.1 305.6,284.4 305.7,275.3 305.8,279.4 305.9,281.8 306.1,287.4 306.2,274.9 306.3,286.8 306.4,284.1 306.6,276.7 306.7,284.1 306.8,277.4 306.9,281.9 307.1,280.9 307.2,283 307.3,277.8 307.5,284.2 307.6,274.2 307.7,280.8 307.8,279.1 308,288.3 308.1,284.5 308.2,280.8 308.3,279.3 308.5,282.8 308.6,280.4 308.7,295.5 308.8,267 309,283.2 309.1,273.9 309.2,286.9 309.3,280.1 309.5,289 309.6,281.2 309.7,287.2 309.8,284.4 310,287.7 310.1,283.5 310.2,266.5 310.3,280.8 310.5,277.8 310.6,287 310.7,286.6 310.8,283.7 311,285.4 311.1,284.5 311.2,280.5 311.3,291 311.5,284.8 311.6,283.2 311.7,278.6 311.8,281.8 312,284.1 312.1,283.5 312.2,282.4 312.3,284 312.5,277.9 312.6,284.4 312.7,275.6 312.8,281.3 313,280.2 313.1,289.3 313.2,286.3 313.3,284.9 313.5,278.1 313.6,283.2 313.7,287.7 313.8,291.7 314,276.5 314.1,283.3 314.2,285.5 314.3,286.2 314.5,285 314.6,287.5 314.7,279.9 314.8,293.8 315,281 315.1,285.5 315.2,287.2 315.3,291.8 315.5,288.7 315.6,290.2 315.7,290.1 315.8,285 316,289.7 316.1,291.2 316.2,282.9 316.3,277.8 316.5,280.1 316.6,290.9 316.7,290.3 316.8,284.6 317,286.8 317.1,287.7 317.2,291.8 317.3,275.5 317.5,282.9 317.6,285.2 317.7,287.3 317.8,286.6 318,284.4 318.1,287.3 318.2,272 318.4,303.4 318.5,290.9 318.6,289.6 318.7,284.1 318.9,288 319,297.9 319.1,293.2 319.2,287 319.4,282.2 319.5,287.3 319.6,285.1 319.7,289.9 319.9,282.2 320,285.8 320.1,288.4 320.2,285.3 320.4,290.8 320.5,280.7 320.6,282.6 320.7,285.1 320.9,290.1 321,286.1 321.1,285.1 321.2,291.6 321.4,288 321.5,285.4 321.6,287.8 321.7,286.5 321.9,289.6 322,287.9 322.1,283 322.2,285.7 322.4,285.2 322.5,289.5 322.6,289.6 322.7,284.6 322.9,286.9 323,288.7 323.1,291.6 323.2,288.6 323.4,294.7 323.5,287.8 323.6,290.4 323.7,286.6 323.9,284.2 324,288.2 324.1,289.6 324.2,289 324.4,288.4 324.5,286.7 324.6,285 324.7,286.3 324.9,290.5 325,291.4 325.1,276.3 325.2,291.4 325.4,291.9 325.5,292.6 325.6,289.5 325.7,290.5 325.9,286.5 326,287.6 326.1,290 326.2,284.3 326.4,285.4 326.5,288.9 326.6,280.8 326.7,288.4 326.9,283 327,289 327.1,288.4 327.2,285.2 327.4,284.9 327.5,286.5 327.6,280.3 327.7,286.1 327.9,289 328,292.7 328.1,286.6 328.2,287.8 328.4,293.3 328.5,297.9 328.6,286.7 328.8,292.1 328.9,292.6 329,291.2 329.1,284.9 329.3,285.1 329.4,290.5 329.5,301.2 329.6,287.8 329.8,297 329.9,295.2 330,281.5 330.1,285.1 330.3,296.7 330.4,291.9 330.5,290.4 330.6,288.4 330.8,291.9 330.9,286.2 331,297.4 331.1,284.3 331.3,282 331.4,289 331.5,293.6 331.6,285.7 331.8,288.2 331.9,284.8 332,288.2 332.1,284.8 332.3,284.8 332.4,283.2 332.5,285.4 332.6,295.1 332.8,288.2 332.9,289.1 333,296.4 333.1,284.9 333.3,284.9 333.4,291.3 333.5,284 333.6,289.6 333.8,294.8 333.9,284.6 334,286.6 334.1,294.5 334.3,284.6 334.4,284.6 334.5,289.3 334.6,287.3 334.8,285.4 334.9,294.1 335,286.3 335.1,290.2 335.3,287 335.4,287.6 335.5,283.5 335.6,293.5 335.8,286 335.9,293 336,284.3 336.1,286.7 336.3,290.1 336.4,288.8 336.5,284.8 336.6,287.9 336.8,281.2 336.9,288.7 337,278.9 337.1,289 337.3,295.9 337.4,293.3 337.5,293.1 337.6,286.1 337.8,290.2 337.9,287 338,288.1 338.1,287.8 338.3,276.4 338.4,291.7 338.5,290.1 338.6,291.4 338.8,285 338.9,290.9 339,290.2 339.2,280.4 339.3,282.1 339.4,288.6 339.5,286 339.7,288.4 339.8,286.1 339.9,293.8 340,281.6 340.2,283.5 340.3,284.9 340.4,280.8 340.5,286.4 340.7,288.3 340.8,281 340.9,289.7 341,295.6 341.2,294.4 341.3,295.6 341.4,292.5 341.5,288.3 341.7,298.3 341.8,292.3 341.9,298.8 342,287.7 342.2,276.8 342.3,282 342.4,289.1 342.5,290.4 342.7,287.7 342.8,292 342.9,282.1 343,284.5 343.2,292 343.3,288.6 343.4,289 343.5,293.5 343.7,292.4 343.8,285.6 343.9,289.2 344,282.4 344.2,288.4 344.3,289.9 344.4,278.9 344.5,297.1 344.7,299.5 344.8,291.2 344.9,293.6 345,296.8 345.2,287.9 345.3,292.2 345.4,290.6 345.5,283 345.7,285.3 345.8,286.5 345.9,294.4 346,288.9 346.2,292 346.3,286.8 346.4,283.9 346.5,299.9 346.7,298.3 346.8,289.9 346.9,287.8 347,292.8 347.2,284.5 347.3,287.4 347.4,283.4 347.5,290.2 347.7,289.4 347.8,287.1 347.9,284.9 348,280.1 348.2,283.9 348.3,295.3 348.4,287.2 348.5,295.5 348.7,285.4 348.8,288.2 348.9,286 349,287.6 349.2,291.3 349.3,281.2 349.4,291.2 349.5,291 349.7,288.5 349.8,288.8 349.9,287.7 350.1,292.3 350.2,288.7 350.3,285.5 350.4,289.1 350.6,291.9 350.7,289.8 350.8,288.6 350.9,289.2 351.1,285.8 351.2,286 351.3,281.8 351.4,287.9 351.6,292 351.7,287.1 351.8,285.3 351.9,291.7 352.1,289.1 352.2,289 352.3,290.2 352.4,291 352.6,288.3 352.7,283.9 352.8,298.1 352.9,288.7 353.1,285.8 353.2,289.2 353.3,292.8 353.4,283.5 353.6,293.2 353.7,288 353.8,299.5 353.9,290.9 354.1,288.1 354.2,293 354.3,293 354.4,287.3 354.6,289.3 354.7,285.7 354.8,293.6 354.9,283.5 355.1,287.9 355.2,280.9 355.3,290.6 355.4,280.6 355.6,282.7 355.7,289.5 355.8,287.3 355.9,286.1 356.1,285.1 356.2,286.9 356.3,282.3 356.4,289.7 356.6,291.4 356.7,291.2 356.8,288.4 356.9,292.9 357.1,290.2 357.2,291.9 357.3,289.9 357.4,288.6 357.6,285.8 357.7,279.2 357.8,290.8 357.9,288.1 358.1,299.4 358.2,281.5 358.3,291.5 358.4,285.2 358.6,288.5 358.7,283.7 358.8,290.4 358.9,288.4 359.1,293.3 359.2,289 359.3,290.2 359.4,293 359.6,290.4 359.7,288 359.8,292.9 359.9,288.1 360.1,290 360.2,287.4 360.3,284.9 360.5,277.9 360.6,292.3 360.7,284.4 360.8,291.1 361,294.9 361.1,283.9 361.2,293.3 361.3,288.2 361.5,290.1 361.6,282 361.7,288.7 361.8,289.4 362,296.4 362.1,296.1 362.2,289.6 362.3,286.6 362.5,296.4 362.6,288 362.7,288.3 362.8,288.9 363,290.2 363.1,291 363.2,286.5 363.3,288 363.5,295.2 363.6,294.2 363.7,290.1 363.8,289.5 364,287.7 364.1,292.2 364.2,286.7 364.3,289 364.5,286.1 364.6,285.2 364.7,288.7 364.8,288.6 365,286.5 365.1,288.3 365.2,288.8 365.3,286 365.5,286.2 365.6,288.1 365.7,292.4 365.8,292.5 366,289.2 366.1,287.1 366.2,288.4 366.3,295.3 366.5,291.8 366.6,285.2 366.7,288.4 366.8,285.7 367,287.3 367.1,282.6 367.2,288.7 367.3,283.8 367.5,286.5 367.6,293.9 367.7,294.1 367.8,285.5 368,284.9 368.1,283.6 368.2,281.9 368.3,285.1 368.5,287.6 368.6,282.9 368.7,291.2 368.8,288.4 369,285.7 369.1,294.8 369.2,292.5 369.3,289 369.5,295.1 369.6,293.2 369.7,284.7 369.8,289.7 370,287 370.1,283.5 370.2,295.3 370.3,293.9 370.5,284.1 370.6,290.3 370.7,282.7 370.9,294.5 371,288.3 371.1,287 371.2,293 371.4,288.6 371.5,287.1 371.6,291.7 371.7,287.4 371.9,291.5 372,288.4 372.1,291.3 372.2,290.6 372.4,292.7 372.5,284.7 372.6,295 372.7,287.7 372.9,298 373,284.9 373.1,287.2 373.2,287.2 373.4,292.2 373.5,286.5 373.6,290.4 373.7,282.4 373.9,285.3 374,288.7 374.1,287.5 374.2,281.1 374.4,289.6 374.5,284.3 374.6,298.5 374.7,287 374.9,295.7 375,291.3 375.1,289.2 375.2,285.7 375.4,287 375.5,289 375.6,280.3 375.7,290.9 375.9,280.7 376,286.2 376.1,277.2 376.2,288.7 376.4,289.7 376.5,287.9 376.6,288 376.7,285.4 376.9,287.6 377,291.1 377.1,284.3 377.2,288.4 377.4,289.1 377.5,285.6 377.6,287.7 377.7,287.1 377.9,284.4 378,295.1 378.1,284.5 378.2,295.7 378.4,289.9 378.5,274.4 378.6,286.7 378.7,289.5 378.9,288.7 379,282.3 379.1,287 379.2,281 379.4,281.5 379.5,284.4 379.6,286.3 379.7,294.3 379.9,286.4 380,288.9 380.1,278.1 380.2,280.5 380.4,283 380.5,294.8 380.6,279.6 380.7,278.6 380.9,284 381,288.8 381.1,278.2 381.2,283.3 381.4,276.3 381.5,292.4 381.6,288 381.8,285.5 381.9,283.6 382,282.8 382.1,284.4 382.3,281.1 382.4,278.3 382.5,276.9 382.6,283.4 382.8,280.2 382.9,286.4 383,270.8 383.1,286.3 383.3,286 383.4,287.4 383.5,281.7 383.6,276.9 383.8,279 383.9,286.7 384,280.6 384.1,280.7 384.3,279.9 384.4,281.8 384.5,281.1 384.6,275.9 384.8,279.5 384.9,287.7 385,287.1 385.1,281.1 385.3,279.5 385.4,286.5 385.5,280.6 385.6,274.2 385.8,280.4 385.9,283.7 386,286.9 386.1,279 386.3,282.8 386.4,279.4 386.5,285 386.6,281.5 386.8,281.4 386.9,276.5 387,279 387.1,278.9 387.3,258.6 387.4,285.1 387.5,279.8 387.6,279 387.8,277.6 387.9,279.7 388,281 388.1,274.4 388.3,279.8 388.4,280 388.5,279.3 388.6,273.3 388.8,278.5 388.9,273.9 389,281 389.1,286.7 389.3,282.1 389.4,277.3 389.5,275.3 389.6,276.2 389.8,280.5 389.9,275.7 390,276.1 390.1,268.3 390.3,274.7 390.4,274.9 390.5,275.8 390.6,285.2 390.8,269.5 390.9,272.4 391,280 391.1,273.7 391.3,276.8 391.4,278.1 391.5,277.4 391.6,274.2 391.8,282.8 391.9,286.2 392,273 392.2,275.9 392.3,282.6 392.4,275.5 392.5,270.6 392.7,274.9 392.8,279.9 392.9,270.4 393,277.4 393.2,277.8 393.3,273.7 393.4,278.4 393.5,278.7 393.7,280 393.8,279.6 393.9,269.9 394,279.3 394.2,278 394.3,279.4 394.4,272.1 394.5,280.9 394.7,276.8 394.8,270.5 394.9,280.2 395,271.9 395.2,270.8 395.3,276.4 395.4,272.3 395.5,276.1 395.7,273 395.8,276.2 395.9,277.6 396,274.1 396.2,279.5 396.3,279.3 396.4,268.7 396.5,277.3 396.7,276.2 396.8,274.5 396.9,280.5 397,280.1 397.2,278.1 397.3,264.1 397.4,274.9 397.5,272.5 397.7,271.8 397.8,275 397.9,271.4 398,279.3 398.2,273.7 398.3,272.5 398.4,277.3 398.5,275.5 398.7,279.6 398.8,276.1 398.9,271.8 399,272.4 399.2,262.9 399.3,265.7 399.4,275.8 399.5,270.1 399.7,278.8 399.8,282.7 399.9,263.3 400,272.4 400.2,289.4 400.3,267.7 400.4,273.4 400.5,269.8 400.7,269.7 400.8,269.4 400.9,270.4 401,273.5 401.2,267 401.3,272.3 401.4,267.2 401.5,273.4 401.7,271.3 401.8,265 401.9,270.4 402,266.7 402.2,266.2 402.3,274.5 402.4,257.9 402.6,271.8 402.7,274 402.8,265.6 402.9,273.8 403.1,273 403.2,263.7 403.3,271.2 403.4,270.9 403.6,264.2 403.7,271.3 403.8,272 403.9,265.8 404.1,260.4 404.2,270.3 404.3,263.9 404.4,261.4 404.6,266.1 404.7,253.1 404.8,266.3 404.9,274.7 405.1,256.4 405.2,271.3 405.3,262.4 405.4,266.5 405.6,262.4 405.7,270.9 405.8,268.2 405.9,263.1 406.1,259.7 406.2,266.3 406.3,273 406.4,263 406.6,269.8 406.7,269.5 406.8,259.7 406.9,272.7 407.1,267.9 407.2,277.5 407.3,275.4 407.4,267 407.6,267.5 407.7,263.9 407.8,262.4 407.9,271.5 408.1,267.1 408.2,266.5 408.3,267.5 408.4,272.8 408.6,274.5 408.7,268.4 408.8,267.6 408.9,269.2 409.1,277.2 409.2,259.9 409.3,261.2 409.4,271.8 409.6,269.4 409.7,274 409.8,274.4 409.9,277.3 410.1,263.9 410.2,271.7 410.3,267.7 410.4,273.4 410.6,270.2 410.7,273.2 410.8,266.5 410.9,270.3 411.1,267.6 411.2,268.8 411.3,267.1 411.4,265.7 411.6,274.8 411.7,271.5 411.8,274.9 411.9,266.3 412.1,262.4 412.2,268 412.3,270.1 412.4,274.2 412.6,275.4 412.7,279 412.8,281.1 412.9,276.1 413.1,272.2 413.2,266.8 413.3,274.6 413.5,268.7 413.6,268.6 413.7,274.5 413.8,273.7 414,275.9 414.1,269.5 414.2,277.4 414.3,275.1 414.5,272.2 414.6,269.9 414.7,268.7 414.8,267.7 415,279.1 415.1,267.7 415.2,277.7 415.3,272.8 415.5,271.6 415.6,271.1 415.7,273.8 415.8,278 416,278 416.1,274.6 416.2,269.2 416.3,267.6 416.5,286.7 416.6,268.9 416.7,268.9 416.8,282.4 417,269.5 417.1,280.3 417.2,279.5 417.3,276.9 417.5,279.9 417.6,270.6 417.7,268.8 417.8,275.7 418,276.6 418.1,276.4 418.2,278.7 418.3,274 418.5,268.6 418.6,279.8 418.7,276.4 418.8,280.7 419,285.8 419.1,278 419.2,280.1 419.3,274.4 419.5,281.7 419.6,280.3 419.7,279.3 419.8,284 420,274.1 420.1,280.8 420.2,280.5 420.3,288.5 420.5,271.8 420.6,278.6 420.7,287.8 420.8,277.7 421,276.8 421.1,286.4 421.2,289.4 421.3,280.4 421.5,276.9 421.6,277.5 421.7,278.4 421.8,276.7 422,276.9 422.1,280.8 422.2,280.4 422.3,283.2 422.5,280.5 422.6,275.8 422.7,283.4 422.8,281.6 423,277.2 423.1,279.2 423.2,282.1 423.3,281.4 423.5,280.3 423.6,284 423.7,285.3 423.9,280 424,281.2 424.1,277.1 424.2,280.8 424.4,284.4 424.5,286.8 424.6,282.3 424.7,281.4 424.9,279.1 425,282.8 425.1,277.8 425.2,282.9 425.4,282.2 425.5,278.7 425.6,284.3 425.7,281.5 425.9,284.7 426,280.7 426.1,284.4 426.2,288.6 426.4,283.8 426.5,285.8 426.6,280.4 426.7,281.6 426.9,272 427,282.5 427.1,278.9 427.2,283.7 427.4,275.5 427.5,280.1 427.6,283.7 427.7,285.8 427.9,277.3 428,282.1 428.1,293.4 428.2,286.8 428.4,284.8 428.5,267.9 428.6,280.5 428.7,286 428.9,285.5 429,285.9 429.1,287.9 429.2,284.9 429.4,289.4 429.5,274.1 429.6,293.9 429.7,283.4 429.9,282.2 430,290.3 430.1,287 430.2,290.5 430.4,282.6 430.5,286 430.6,287.7 430.7,280.8 430.9,284.3 431,284.3 431.1,284.2 431.2,281.3 431.4,280.7 431.5,287.1 431.6,286.4 431.7,289.9 431.9,285.4 432,281.9 432.1,280.4 432.2,286.1 432.4,284.1 432.5,293.4 432.6,299.2 432.7,291.9 432.9,282.7 433,278.2 433.1,284.9 433.2,281.2 433.4,291.6 433.5,286.8 433.6,284.9 433.7,286.4 433.9,293.7 434,283.1 434.1,288.5 434.3,281.8 434.4,286 434.5,283.1 434.6,288 434.8,287.5 434.9,293.8 435,289.6 435.1,284.9 435.3,282.3 435.4,284.2 435.5,285.7 435.6,286 435.8,283.1 435.9,291.4 436,292.8 436.1,286.5 436.3,285.8 436.4,286.8 436.5,287.5 436.6,287.7 436.8,281.9 436.9,285.4 437,277.3 437.1,288.2 437.3,291.9 437.4,284.2 437.5,288.7 437.6,286 437.8,284.3 437.9,295.5 438,291.6 438.1,290.2 438.3,286.9 438.4,290.9 438.5,287.5 438.6,290.3 438.8,283.7 438.9,288.4 439,287.4 439.1,283.8 439.3,295.1 439.4,293.6 439.5,286.2 439.6,283.8 439.8,285.1 439.9,284.6 440,287.1 440.1,280.9 440.3,284.8 440.4,289.8 440.5,291.8 440.6,282.4 440.8,289.6 440.9,286.1 441,286 441.1,288.7 441.3,287.4 441.4,293.8 441.5,293.9 441.6,288.9 441.8,287.8 441.9,296.6 442,296.9 442.1,292.4 442.3,289.7 442.4,296 442.5,295.6 442.6,288.6 442.8,297 442.9,290 443,294.5 443.1,288.8 443.3,291 443.4,289.1 443.5,290.9 443.6,294.5 443.8,285.9 443.9,289.3 444,293 444.1,289.4 444.3,298.4 444.4,285.9 444.5,300.3 444.6,287.6 444.8,296.7 444.9,297.1 445,293.3 445.2,286.4 445.3,290.3 445.4,291.7 445.5,294.7 445.7,297 445.8,297.8 445.9,299.8 446,288.3 446.2,295.3 446.3,285.5 446.4,292.3 446.5,288 446.7,282 446.8,295.2 446.9,291.8 447,295.5 447.2,286.3 447.3,287.7 447.4,291.7 447.5,289.7 447.7,292.4 447.8,289.9 447.9,291 448,288.1 448.2,299.3 448.3,290.5 448.4,285.7 448.5,294.7 448.7,294 448.8,293.1 448.9,293.1 449,291 449.2,291.9 449.3,284.5 449.4,283.8 449.5,288 449.7,294 449.8,299.2 449.9,291.6 450,291 450.2,296.5 450.3,290.5 450.4,296.1 450.5,294 450.7,287.8 450.8,294.2 450.9,293.2 451,286.2 451.2,288.8 451.3,285.5 451.4,297.4 451.5,300 451.7,295 451.8,298.1 451.9,285 452,297.5 452.2,299.5 452.3,301.4 452.4,289 452.5,296.3 452.7,292 452.8,296.2 452.9,290 453,292.4 453.2,290.2 453.3,294 453.4,291.9 453.5,296.2 453.7,296.8 453.8,293.7 453.9,292 454,291 454.2,292.1 454.3,296.2 454.4,292.5 454.5,293.6 454.7,291.8 454.8,291.6 454.9,288.2 455,285 455.2,293.8 455.3,293.7 455.4,288.2 455.6,298.5 455.7,287.4 455.8,295.1 455.9,292.4 456.1,292.6 456.2,295.5 456.3,294.7 456.4,291.4 456.6,285.3 456.7,284.4 456.8,291.8 456.9,296.8 457.1,294.2 457.2,290.8 457.3,292.8 457.4,293.3 457.6,300.5 457.7,288 457.8,293.3 457.9,291.6 458.1,287.8 458.2,286.8 458.3,297.6 458.4,291.6 458.6,289.5 458.7,290.6 458.8,295.7 458.9,290.4 459.1,295.9 459.2,289 459.3,285.4 459.4,289.2 459.6,286.3 459.7,288.4 459.8,294.1 459.9,295.8 460.1,291.8 460.2,290.1 460.3,286 460.4,283.5 460.6,290.5 460.7,289.7 460.8,286.9 460.9,286.4 461.1,297.8 461.2,294.4 461.3,289 461.4,289.5 461.6,293.3 461.7,289.8 461.8,289.3 461.9,282.4 462.1,278.5 462.2,281 462.3,275.1 462.4,287.9 462.6,289.1 462.7,284.6 462.8,289.4 462.9,289.3 463.1,287.1 463.2,282 463.3,292.8 463.4,295.3 463.6,283.9 463.7,294.4 463.8,287.2 463.9,282.4 464.1,284.5 464.2,279.8 464.3,285.4 464.4,277.3 464.6,290.8 464.7,288.4 464.8,281.1 464.9,288.5 465.1,276.2 465.2,286.7 465.3,287.9 465.4,286.4 465.6,281.6 465.7,285.4 465.8,284.6 465.9,286 466.1,294.3 466.2,291.9 466.3,291.4 466.5,282.9 466.6,282.4 466.7,285.2 466.8,286.7 467,277.1 467.1,282.5 467.2,291.6 467.3,279.9 467.5,280.3 467.6,280.4 467.7,286.3 467.8,284.1 468,283 468.1,278.4 468.2,286.5 468.3,284.1 468.5,281.4 468.6,284 468.7,286.9 468.8,278 469,274.4 469.1,277.5 469.2,280.1 469.3,271.6 469.5,281 469.6,287.6 469.7,281.2 469.8,289.2 470,271.9 470.1,282.5 470.2,291.2 470.3,288.9 470.5,279.7 470.6,279.4 470.7,284 470.8,277.7 471,281 471.1,275.8 471.2,282.5 471.3,282.1 471.5,288.4 471.6,284.1 471.7,277.8 471.8,281.4 472,273.8 472.1,281.7 472.2,280.6 472.3,283 472.5,284.9 472.6,273.2 472.7,282.3 472.8,285.4 473,276.1 473.1,288.2 473.2,277.7 473.3,290.3 473.5,283.5 473.6,286.2 473.7,281.2 473.8,284.1 474,275.8 474.1,274.9 474.2,271.9 474.3,281.8 474.5,276.6 474.6,284 474.7,281.6 474.8,273.8 475,283.3 475.1,280.5 475.2,279.6 475.3,280.5 475.5,278.4 475.6,278.4 475.7,284.8 475.8,274.1 476,273.2 476.1,273.2 476.2,282 476.3,276.3 476.5,289.5 476.6,258.1 476.7,274.4 476.9,275.3 477,278.1 477.1,285.3 477.2,276 477.4,272.5 477.5,279.9 477.6,282.7 477.7,260.1 477.9,278.5 478,277.9 478.1,270.6 478.2,273.8 478.4,276.8 478.5,275.6 478.6,274.4 478.7,270.4 478.9,276.3 479,272.3 479.1,275.2 479.2,272.3 479.4,275.9 479.5,279.3 479.6,275.4 479.7,277 479.9,268.4 480,275.9 480.1,275.8 480.2,269.7 480.4,272.6 480.5,261.9 480.6,273.7 480.7,271.6 480.9,263.7 481,275.2 481.1,268.8 481.2,274.6 481.4,271.1 481.5,274.6 481.6,272.8 481.7,270.5 481.9,274.3 482,277.5 482.1,262.5 482.2,272 482.4,267.9 482.5,264.5 482.6,277.1 482.7,275.5 482.9,267 483,266.5 483.1,276.5 483.2,266.9 483.4,269.6 483.5,257.9 483.6,270.2 483.7,275.5 483.9,267.5 484,270 484.1,277.8 484.2,274 484.4,279.5 484.5,272.8 484.6,275.1 484.7,258.9 484.9,264.4 485,262.7 485.1,279.2 485.2,270.4 485.4,269 485.5,266.2 485.6,265 485.7,257.3 485.9,278.8 486,268.8 486.1,269.3 486.2,263 486.4,268.7 486.5,271.4 486.6,268.3 486.7,272.9 486.9,265.1 487,270 487.1,272.4 487.3,271 487.4,270.1 487.5,267.7 487.6,261.8 487.8,270.7 487.9,266.6 488,264.2 488.1,271.5 488.3,257.5 488.4,264.4 488.5,271.5 488.6,272.2 488.8,266.5 488.9,268.5 489,270.4 489.1,267.5 489.3,264.7 489.4,270.9 489.5,268.7 489.6,268.7 489.8,272.8 489.9,269.3 490,266 490.1,268.7 490.3,276.4 490.4,263.2 490.5,266.2 490.6,262.6 490.8,269.5 490.9,259.6 491,269.9 491.1,271.3 491.3,264.7 491.4,264.4 491.5,258.1 491.6,268.3 491.8,263.3 491.9,265.4 492,266.3 492.1,263.6 492.3,271.8 492.4,275.1 492.5,259 492.6,262.8 492.8,269.4 492.9,261.3 493,266 493.1,269.3 493.3,274.4 493.4,276.3 493.5,267.2 493.6,269.1 493.8,267 493.9,267.4 494,263.6 494.1,261.1 494.3,267.2 494.4,273 494.5,273.9 494.6,260.8 494.8,268.1 494.9,264.8 495,270.9 495.1,261.8 495.3,275.1 495.4,268.3 495.5,273 495.6,273 495.8,256.5 495.9,268.4 496,275.9 496.1,269.6 496.3,274 496.4,272.4 496.5,267.5 496.6,271.6 496.8,274.3 496.9,275.4 497,276.1 497.1,262.7 497.3,273.6 497.4,264.2 497.5,269.6 497.6,269.4 497.8,274.4 497.9,271.7 498,278.6 498.2,267.9 498.3,274.2 498.4,273.2 498.5,270.7 498.7,265.7 498.8,274.6 498.9,272.3 499,274.4 499.2,270.8 499.3,269.5 499.4,272.9 499.5,273.3 499.7,275.9 499.8,283.8 499.9,267.5 500,280.1 500.2,259.3 500.3,275.8 500.4,268.5 500.5,280.4 500.7,268.3 500.8,279 500.9,268.1 501,267.6 501.2,277.6 501.3,276.1 501.4,269.6 501.5,288.2 501.7,271.4 501.8,279.3 501.9,268.7 502,269 502.2,273.5 502.3,269 502.4,276.2 502.5,259.6 502.7,274.2 502.8,271.2 502.9,269.6 503,274.6 503.2,272.9 503.3,272 503.4,277.3 503.5,275.9 503.7,276.6 503.8,282.7 503.9,274 504,279.8 504.2,272.8 504.3,277.1 504.4,276.9 504.5,272.6 504.7,268.7 504.8,266.9 504.9,269.1 505,277.4 505.2,274.7 505.3,274.1 505.4,277.4 505.5,278.5 505.7,284.4 505.8,273.3 505.9,278.1 506,278.8 506.2,272.1 506.3,276.9 506.4,272.5 506.5,274.9 506.7,279 506.8,269.6 506.9,273 507,273.4 507.2,277.3 507.3,273.9 507.4,278.5 507.5,273.6 507.7,273.9 507.8,281 507.9,278.6 508,278.3 508.2,277.3 508.3,283.8 508.4,283.2 508.6,276.3 508.7,275 508.8,273.8 508.9,285 509.1,274.6 509.2,272.9 509.3,279.4 509.4,282.6 509.6,273.6 509.7,277.8 509.8,269.8 509.9,276 510.1,285.3 510.2,279.6 510.3,278 510.4,279.4 510.6,280.3 510.7,278.7 510.8,272.1 510.9,274.8 511.1,291.8 511.2,275 511.3,284.5 511.4,275.4 511.6,285 511.7,282.7 511.8,279.2 511.9,288.1 512.1,274.5 512.2,279.4 512.3,277 512.4,277.4 512.6,278.4 512.7,276.9 512.8,279.4 512.9,287 513.1,274.1 513.2,276 513.3,277.3 513.4,279.3 513.6,287.3 513.7,284.1 513.8,283.2 513.9,282.2 514.1,295.9 514.2,277.2 514.3,277.1 514.4,281.5 514.6,283 514.7,280.9 514.8,276.8 514.9,276.9 515.1,281 515.2,279.3 515.3,280.3 515.4,278 515.6,287.5 515.7,284.1 515.8,289.6 515.9,280.5 516.1,282.8 516.2,281.1 516.3,282.8 516.4,281.8 516.6,282.2 516.7,271.1 516.8,281.9 516.9,285.7 517.1,271.5 517.2,281.1 517.3,285.4 517.4,288.2 517.6,283 517.7,286.1 517.8,290.2 517.9,291.3 518.1,281.9 518.2,281.4 518.3,287.7 518.4,284.7 518.6,280.7 518.7,283.1 518.8,285.2 519,282.9 519.1,282.7 519.2,282.8 519.3,278.6 519.5,291 519.6,289.1 519.7,290.3 519.8,284 520,285.4 520.1,286.9 520.2,287.9 520.3,277.9 520.5,287 520.6,281.2 520.7,284.7 520.8,282.6 521,291.6 521.1,288.4 521.2,285.2 521.3,290.6 521.5,285.1 521.6,282.7 521.7,284.5 521.8,283.5 522,285.8 522.1,288.9 522.2,285.4 522.3,285.6 522.5,289.7 522.6,287.7 522.7,289.6 522.8,286.6 523,278.6 523.1,282 523.2,280.1 523.3,290.7 523.5,288.9 523.6,284.7 523.7,282.9 523.8,288 524,285.9 524.1,288 524.2,283.7 524.3,282.8 524.5,292.8 524.6,283.5 524.7,287 524.8,292.1 525,280.4 525.1,289.9 525.2,287.6 525.3,286.6 525.5,288.5 525.6,280.7 525.7,279.4 525.8,294.7 526,286.1 526.1,291.1 526.2,292 526.3,289 526.5,289.7 526.6,290.7 526.7,294 526.8,290 527,292.9 527.1,287.2 527.2,286.8 527.3,288.8 527.5,290 527.6,290.6 527.7,295.8 527.8,291.8 528,289.1 528.1,300.1 528.2,290.1 528.3,290.3 528.5,290.8 528.6,287.9 528.7,285.2 528.8,290 529,288.2 529.1,284.5 529.2,289.9 529.3,288.4 529.5,287.4 529.6,279.6 529.7,289.1 529.9,296.1 530,294.8 530.1,293.8 530.2,289.8 530.4,293.8 530.5,286.3 530.6,287.6 530.7,292.1 530.9,285.1 531,290.5 531.1,292.1 531.2,296.5 531.4,286.6 531.5,292.1 531.6,288.3 531.7,288.7 531.9,281 532,285.6 532.1,297.3 532.2,292.8 532.4,291.9 532.5,299.9 532.6,293.1 532.7,286.7 532.9,290.1 533,291 533.1,300.3 533.2,288.2 533.4,293.9 533.5,295.1 533.6,288.7 533.7,292 533.9,284.5 534,292.4 534.1,284 534.2,290.6 534.4,301.5 534.5,293.5 534.6,292.3 534.7,292.7 534.9,300 535,295.4 535.1,298.1 535.2,290.9 535.4,291 535.5,286.8 535.6,292 535.7,290.2 535.9,298.2 536,295.1 536.1,292.5 536.2,290 536.4,282.7 536.5,289.8 536.6,294.8 536.7,295.5 536.9,276.4 537,284.8 537.1,293.9 537.2,287.8 537.4,292.7 537.5,291 537.6,296.8 537.7,287.1 537.9,290.6 538,297.1 538.1,294.6 538.2,289.4 538.4,295.6 538.5,295 538.6,291 538.7,296.6 538.9,296.6 539,293.8 539.1,297.7 539.2,290.3 539.4,297.2 539.5,293.5 539.6,291.3 539.7,292.6 539.9,298.8 540,292.8" fill="none" stroke="#ff0000" stroke-width="1.15" stroke-linejoin="round" stroke-linecap="round" />
<polyline points="64,214.8 64.1,209.4 64.3,232.4 64.4,218.2 64.5,225 64.6,220.3 64.8,204 64.9,222.9 65,225.5 65.1,226.7 65.3,228.6 65.4,221.3 65.5,218.1 65.6,219.7 65.8,212.1 65.9,223.1 66,223 66.1,220.8 66.3,211.8 66.4,224.5 66.5,215.3 66.6,225.8 66.8,214.9 66.9,215.3 67,216.5 67.1,212.2 67.3,213 67.4,216.5 67.5,203.7 67.6,229.8 67.8,220.2 67.9,220.7 68,209.9 68.1,218.9 68.3,217.7 68.4,218.6 68.5,208.9 68.6,216.9 68.8,206.3 68.9,216.3 69,212.1 69.1,213.7 69.3,214.3 69.4,224.9 69.5,224.3 69.6,217.2 69.8,210.6 69.9,225.7 70,204 70.1,213.5 70.3,215.4 70.4,212.2 70.5,228.8 70.6,218.9 70.8,222.8 70.9,213.6 71,224.3 71.1,214.8 71.3,215.2 71.4,217.8 71.5,218.3 71.6,219.3 71.8,214.5 71.9,206.7 72,213.7 72.1,199.5 72.3,212.8 72.4,210.5 72.5,222.9 72.6,199 72.8,233.8 72.9,213 73,205.4 73.1,217.5 73.3,217.8 73.4,217.3 73.5,235 73.6,209.6 73.8,216.3 73.9,215.3 74,210.2 74.1,216 74.3,226 74.4,206.1 74.5,216.7 74.7,223.4 74.8,217.8 74.9,204.1 75,215.4 75.2,211.2 75.3,225 75.4,212.2 75.5,225.3 75.7,205.7 75.8,216.2 75.9,204.8 76,229.7 76.2,222.5 76.3,204.1 76.4,219.8 76.5,212.2 76.7,202.6 76.8,206.1 76.9,213 77,215.4 77.2,208.6 77.3,213.9 77.4,215 77.5,214.6 77.7,204.5 77.8,212.6 77.9,214.9 78,197.3 78.2,226.1 78.3,220.3 78.4,212.3 78.5,231.1 78.7,206.1 78.8,202 78.9,207 79,206.4 79.2,222.1 79.3,210.9 79.4,210.2 79.5,212.7 79.7,220.2 79.8,211.8 79.9,207.8 80,211.7 80.2,217.8 80.3,208.6 80.4,223.3 80.5,211.5 80.7,208.4 80.8,214.2 80.9,221.7 81,207.7 81.2,222.5 81.3,212.6 81.4,209.9 81.5,209.2 81.7,216.7 81.8,212.5 81.9,210.9 82,212.6 82.2,200 82.3,204.2 82.4,201.9 82.5,205.9 82.7,206.6 82.8,204.3 82.9,211.1 83,198.4 83.2,205.2 83.3,212.9 83.4,218 83.5,207.8 83.7,218.9 83.8,215.7 83.9,200.5 84,208.4 84.2,196.5 84.3,204.2 84.4,209.1 84.5,194 84.7,209.7 84.8,205.3 84.9,204.6 85,209.4 85.2,200.7 85.3,195 85.4,205.8 85.6,198.5 85.7,204.2 85.8,198.3 85.9,199.2 86.1,195 86.2,192.4 86.3,196.8 86.4,199.7 86.6,204.8 86.7,224.8 86.8,200.4 86.9,194.1 87.1,207.8 87.2,196.1 87.3,198.2 87.4,201.6 87.6,203.9 87.7,204 87.8,204.9 87.9,202.5 88.1,214.1 88.2,208.4 88.3,197.4 88.4,201.3 88.6,193.8 88.7,209 88.8,200.2 88.9,214.5 89.1,197.6 89.2,211.7 89.3,195.8 89.4,190.7 89.6,195.9 89.7,203.6 89.8,207.8 89.9,195.4 90.1,207.2 90.2,195.5 90.3,197.3 90.4,198.5 90.6,211.1 90.7,202 90.8,202.1 90.9,184.6 91.1,200.9 91.2,201.5 91.3,210.2 91.4,193.6 91.6,194.5 91.7,193 91.8,194.6 91.9,203.1 92.1,190.4 92.2,206.8 92.3,198.5 92.4,192.1 92.6,193.6 92.7,188.7 92.8,188 92.9,209.2 93.1,203.2 93.2,190.6 93.3,192.3 93.4,207.5 93.6,191.8 93.7,198.7 93.8,199.7 93.9,194.9 94.1,194.8 94.2,193.6 94.3,196.5 94.4,185 94.6,195.8 94.7,197 94.8,186.1 94.9,199.5 95.1,188.4 95.2,167.1 95.3,181.3 95.4,194.9 95.6,199.8 95.7,191 95.8,183.8 96,192.4 96.1,199.6 96.2,192.9 96.3,177.4 96.5,196 96.6,190.4 96.7,191.3 96.8,192.7 97,197.9 97.1,191.2 97.2,181.5 97.3,190.9 97.5,192.7 97.6,199.4 97.7,177.9 97.8,189.3 98,181.3 98.1,192.5 98.2,186.7 98.3,168.9 98.5,196.7 98.6,185.3 98.7,182.2 98.8,173.2 99,182 99.1,180.2 99.2,188 99.3,189.9 99.5,188.1 99.6,191 99.7,182.5 99.8,194.5 100,186.7 100.1,190.9 100.2,194.1 100.3,184.8 100.5,196 100.6,192.7 100.7,184 100.8,199.1 101,198.3 101.1,175.5 101.2,161.5 101.3,181.6 101.5,190.8 101.6,195.7 101.7,190.2 101.8,185.2 102,195.6 102.1,190 102.2,181.6 102.3,185.8 102.5,192 102.6,179.6 102.7,179.5 102.8,177.8 103,194.1 103.1,188.2 103.2,189.3 103.3,178.8 103.5,182.6 103.6,191.4 103.7,180.4 103.8,190.8 104,181.7 104.1,181.7 104.2,185.7 104.3,187.7 104.5,200.8 104.6,178.5 104.7,193.1 104.8,175.1 105,174.2 105.1,163.9 105.2,186.2 105.3,190.6 105.5,170.8 105.6,177 105.7,176.2 105.8,161.2 106,179.3 106.1,180.7 106.2,172.5 106.4,170.6 106.5,179.3 106.6,184.4 106.7,166.9 106.9,176.5 107,183.3 107.1,155.9 107.2,180.1 107.4,189.1 107.5,161.2 107.6,190.8 107.7,173.4 107.9,179.9 108,173.2 108.1,166.3 108.2,161.8 108.4,192.4 108.5,164.1 108.6,171.9 108.7,190.3 108.9,175.8 109,174.5 109.1,157.7 109.2,168 109.4,162.3 109.5,151 109.6,176.2 109.7,178.1 109.9,165.5 110,163.4 110.1,174.2 110.2,177.4 110.4,162.3 110.5,179.2 110.6,177.1 110.7,169.6 110.9,160.7 111,175.8 111.1,174.1 111.2,182.2 111.4,160.9 111.5,180.2 111.6,164.8 111.7,173.6 111.9,165.5 112,167.6 112.1,177.9 112.2,160.6 112.4,175.7 112.5,163.2 112.6,164.7 112.7,155.7 112.9,165.8 113,148 113.1,160.3 113.2,171.3 113.4,169.6 113.5,149.4 113.6,153.1 113.7,156.5 113.9,176.5 114,157.5 114.1,160.4 114.2,158.2 114.4,162.3 114.5,147.9 114.6,161.2 114.7,162.6 114.9,166.9 115,150.6 115.1,164.9 115.2,181.6 115.4,163.2 115.5,165 115.6,135.5 115.7,172.7 115.9,171.1 116,164.9 116.1,158.5 116.2,160.8 116.4,178.8 116.5,143.7 116.6,149.2 116.7,161.6 116.9,154 117,132.9 117.1,152.9 117.3,155.1 117.4,137.7 117.5,153 117.6,151.4 117.8,133.3 117.9,155.3 118,166.7 118.1,171.1 118.3,137.3 118.4,128.9 118.5,146.9 118.6,148.4 118.8,133.7 118.9,138.6 119,156.7 119.1,146.5 119.3,153.1 119.4,143.2 119.5,157.2 119.6,137.9 119.8,137.6 119.9,133.3 120,114.8 120.1,135.5 120.3,121.7 120.4,136 120.5,141.2 120.6,141.9 120.8,142.7 120.9,133.1 121,137.8 121.1,148.5 121.3,136.1 121.4,137.5 121.5,114.3 121.6,120.7 121.8,151.6 121.9,127.7 122,125.4 122.1,148.8 122.3,123.2 122.4,143.5 122.5,133 122.6,124.5 122.8,114.1 122.9,145.3 123,115.5 123.1,120.7 123.3,139.3 123.4,113.5 123.5,138.6 123.6,130.3 123.8,128.1 123.9,120.3 124,123.7 124.1,132.2 124.3,114.7 124.4,134.9 124.5,132 124.6,133.4 124.8,131.2 124.9,135.7 125,132.7 125.1,134.7 125.3,131.9 125.4,130.7 125.5,116.8 125.6,108.6 125.8,125.4 125.9,133.9 126,115.2 126.1,108.4 126.3,118.2 126.4,126.6 126.5,131.1 126.6,117.4 126.8,110.5 126.9,121.1 127,128 127.1,120.4 127.3,130.6 127.4,115.2 127.5,128.5 127.7,135.7 127.8,103.8 127.9,110.2 128,124.9 128.2,149.2 128.3,125.5 128.4,117.2 128.5,130.3 128.7,115.7 128.8,100.3 128.9,101.3 129,129.5 129.2,98.6 129.3,100.9 129.4,123.3 129.5,116.2 129.7,126.7 129.8,103.4 129.9,106.4 130,110.1 130.2,100.8 130.3,110.7 130.4,111.1 130.5,121.5 130.7,110.9 130.8,108.1 130.9,117 131,123.1 131.2,122.2 131.3,114.2 131.4,105.1 131.5,106.2 131.7,90 131.8,111.7 131.9,110.4 132,136.5 132.2,112.6 132.3,122 132.4,130.8 132.5,90.8 132.7,103.3 132.8,107.5 132.9,111.1 133,91.6 133.2,118.7 133.3,124.1 133.4,117.7 133.5,120.5 133.7,98.5 133.8,127.8 133.9,100 134,90.5 134.2,111.3 134.3,116.7 134.4,103.1 134.5,93.2 134.7,98.6 134.8,109 134.9,84.6 135,121.4 135.2,126.7 135.3,109.3 135.4,122.2 135.5,109.8 135.7,93.6 135.8,121.8 135.9,120.8 136,102.8 136.2,90.2 136.3,97.1 136.4,124.9 136.5,108.3 136.7,142.1 136.8,107.1 136.9,120.2 137,119.2 137.2,112.3 137.3,123.3 137.4,101.6 137.5,114.5 137.7,103.9 137.8,82 137.9,117.1 138.1,98.8 138.2,96.7 138.3,123.1 138.4,116 138.6,123.8 138.7,135.6 138.8,120.4 138.9,125.8 139.1,100.9 139.2,128 139.3,132.9 139.4,104.2 139.6,127.2 139.7,124.2 139.8,119.3 139.9,122.6 140.1,158.8 140.2,112.5 140.3,117.6 140.4,124.1 140.6,120.6 140.7,96.2 140.8,130.5 140.9,138.3 141.1,141.7 141.2,119.7 141.3,113.3 141.4,135.6 141.6,116.3 141.7,126.5 141.8,123 141.9,129 142.1,123.2 142.2,138.1 142.3,119.3 142.4,151.3 142.6,136.2 142.7,123 142.8,120.1 142.9,127.8 143.1,122.9 143.2,122.3 143.3,150.9 143.4,139.9 143.6,115 143.7,139.3 143.8,131.6 143.9,139 144.1,125.8 144.2,152.4 144.3,133.3 144.4,151.6 144.6,126.1 144.7,146 144.8,132.6 144.9,157.9 145.1,132.4 145.2,124.4 145.3,119.1 145.4,129 145.6,140.8 145.7,138.9 145.8,136.8 145.9,145.8 146.1,159.7 146.2,127.2 146.3,146.1 146.4,158.4 146.6,131.6 146.7,129.4 146.8,143.5 146.9,141.3 147.1,130.7 147.2,137.6 147.3,153.7 147.4,147.5 147.6,128 147.7,124.1 147.8,124.3 147.9,142.7 148.1,133.3 148.2,133.1 148.3,147.6 148.4,137.3 148.6,138.1 148.7,143.7 148.8,155.2 149,145.1 149.1,148.8 149.2,144 149.3,164.6 149.5,132.3 149.6,128.1 149.7,139.3 149.8,162.3 150,158.2 150.1,129.5 150.2,140.8 150.3,150.1 150.5,146.1 150.6,157.9 150.7,141.6 150.8,123.5 151,152 151.1,157.8 151.2,133.4 151.3,121.6 151.5,143.5 151.6,131.3 151.7,151.8 151.8,138.1 152,155 152.1,144.1 152.2,150.2 152.3,155 152.5,147.7 152.6,136.1 152.7,158 152.8,137.4 153,169.4 153.1,145.4 153.2,146.4 153.3,156.5 153.5,155.1 153.6,158.4 153.7,139.2 153.8,144.5 154,156.9 154.1,155.8 154.2,152 154.3,170.3 154.5,151.8 154.6,166 154.7,163.1 154.8,157 155,152.6 155.1,164.2 155.2,160.6 155.3,163 155.5,147.7 155.6,159.3 155.7,176.5 155.8,153.4 156,157.2 156.1,154.2 156.2,163.9 156.3,139.2 156.5,170.3 156.6,161.4 156.7,155.4 156.8,159.8 157,172.3 157.1,161 157.2,163.7 157.3,173.9 157.5,160 157.6,165 157.7,178 157.8,163.9 158,151.5 158.1,166 158.2,176.7 158.3,157.4 158.5,164 158.6,166 158.7,168 158.8,157.5 159,160.9 159.1,177.4 159.2,170.4 159.4,153.9 159.5,168.4 159.6,163 159.7,174.9 159.9,142.3 160,164.1 160.1,171 160.2,147.3 160.4,154.1 160.5,167.4 160.6,164.1 160.7,161.5 160.9,168.1 161,153.1 161.1,157.8 161.2,186.4 161.4,159.7 161.5,168.7 161.6,164.9 161.7,172.4 161.9,169.9 162,169.2 162.1,180.6 162.2,170.4 162.4,152.9 162.5,161.4 162.6,178.2 162.7,180.2 162.9,165.4 163,148 163.1,159 163.2,184.3 163.4,177.5 163.5,177.8 163.6,155.6 163.7,157.8 163.9,164.1 164,158.2 164.1,170.5 164.2,160.7 164.4,175.3 164.5,167.9 164.6,163.1 164.7,175.1 164.9,173.6 165,171.3 165.1,166.1 165.2,170.2 165.4,155.8 165.5,155.7 165.6,163.1 165.7,173 165.9,185.1 166,174.7 166.1,164.1 166.2,168.2 166.4,162.3 166.5,171.9 166.6,171.7 166.7,172.2 166.9,176 167,180.9 167.1,181.2 167.2,164.3 167.4,179.8 167.5,165.7 167.6,176.5 167.7,174.9 167.9,186.7 168,173.3 168.1,173.4 168.2,172.2 168.4,181 168.5,177 168.6,171.7 168.7,181.2 168.9,191 169,194.3 169.1,186.7 169.2,171.3 169.4,174.8 169.5,177.6 169.6,162.9 169.7,188.9 169.9,165.2 170,179.2 170.1,167 170.3,178 170.4,182.8 170.5,180.6 170.6,166.9 170.8,172.1 170.9,184 171,176.7 171.1,178.2 171.3,184.5 171.4,158.7 171.5,179.6 171.6,187.2 171.8,191.3 171.9,183.2 172,169.8 172.1,185.5 172.3,200.1 172.4,173.8 172.5,173.3 172.6,177.2 172.8,175.8 172.9,155.7 173,161.6 173.1,169.5 173.3,174.7 173.4,182.7 173.5,175.7 173.6,181 173.8,189.9 173.9,214.1 174,186.5 174.1,172.9 174.3,191.6 174.4,180.3 174.5,183 174.6,191.6 174.8,186.3 174.9,171.1 175,168 175.1,184.1 175.3,189.1 175.4,205.1 175.5,185.7 175.6,178.7 175.8,177.9 175.9,173.6 176,172.2 176.1,167.1 176.3,175.7 176.4,183.1 176.5,176.4 176.6,182.2 176.8,179.1 176.9,180.6 177,177.6 177.1,184.6 177.3,182.8 177.4,153 177.5,184.7 177.6,183.6 177.8,176.1 177.9,184.2 178,175.4 178.1,184 178.3,176.9 178.4,191 178.5,187.4 178.6,173 178.8,178.5 178.9,188.7 179,186.7 179.1,184.8 179.3,175.7 179.4,179.1 179.5,185.2 179.6,186.2 179.8,184.1 179.9,178.3 180,182.7 180.1,179 180.3,171.6 180.4,176.6 180.5,175.7 180.7,173.9 180.8,188.1 180.9,193.3 181,191.2 181.2,179.3 181.3,179.6 181.4,186.8 181.5,180 181.7,181.7 181.8,183 181.9,173.8 182,199.3 182.2,175.1 182.3,174.2 182.4,191.2 182.5,173.5 182.7,193.2 182.8,188.1 182.9,188.2 183,183 183.2,175.8 183.3,177.4 183.4,186.6 183.5,185.2 183.7,172.8 183.8,178 183.9,176.6 184,185.5 184.2,189.3 184.3,196.1 184.4,182.3 184.5,196.5 184.7,194.2 184.8,196.9 184.9,180.3 185,190.6 185.2,194.3 185.3,167.4 185.4,196.7 185.5,189.7 185.7,193.3 185.8,188.7 185.9,194.9 186,184 186.2,183.3 186.3,192.1 186.4,192.1 186.5,177.7 186.7,195.6 186.8,195.4 186.9,194.4 187,182.2 187.2,200.9 187.3,192.9 187.4,193.9 187.5,186.9 187.7,184.5 187.8,182.6 187.9,183.3 188,193.8 188.2,179.3 188.3,183.3 188.4,191.2 188.5,184.9 188.7,173.4 188.8,180.7 188.9,183.9 189,199 189.2,195 189.3,180.9 189.4,180.2 189.5,183 189.7,189.5 189.8,182.5 189.9,191 190,178.2 190.2,190.3 190.3,200.8 190.4,159.6 190.5,187.8 190.7,189.9 190.8,193 190.9,188.9 191.1,187.5 191.2,190.2 191.3,189 191.4,188.9 191.6,199.2 191.7,195.4 191.8,194.7 191.9,184 192.1,183.2 192.2,199.7 192.3,181.2 192.4,195.5 192.6,174.1 192.7,203.2 192.8,197.1 192.9,184.7 193.1,183.6 193.2,174.4 193.3,188.2 193.4,201.3 193.6,192.8 193.7,186.8 193.8,202.8 193.9,192.5 194.1,193.1 194.2,186.7 194.3,192.8 194.4,206.8 194.6,193.6 194.7,177.3 194.8,190.3 194.9,202 195.1,197 195.2,185.3 195.3,191.3 195.4,178.7 195.6,195.7 195.7,182.8 195.8,183.2 195.9,185 196.1,181.3 196.2,200.6 196.3,199.1 196.4,185.9 196.6,190 196.7,200.6 196.8,187 196.9,184.2 197.1,183.1 197.2,199.7 197.3,190.1 197.4,189.1 197.6,186.1 197.7,182.7 197.8,199.2 197.9,183.7 198.1,185.4 198.2,177.4 198.3,181.4 198.4,185.4 198.6,183.7 198.7,178.5 198.8,184.7 198.9,188 199.1,160.9 199.2,192.9 199.3,186.9 199.4,179.5 199.6,185.8 199.7,191.8 199.8,188.6 199.9,189 200.1,188.8 200.2,193.1 200.3,179.2 200.4,184.5 200.6,191.2 200.7,188.7 200.8,181.1 200.9,186.5 201.1,180.9 201.2,188.5 201.3,176.8 201.4,177 201.6,172.7 201.7,187.2 201.8,205.2 202,198.5 202.1,196.5 202.2,188 202.3,198.9 202.5,191.5 202.6,188.2 202.7,195.2 202.8,174.5 203,172.3 203.1,179.2 203.2,202.5 203.3,193.6 203.5,188.6 203.6,185.6 203.7,185.3 203.8,189.8 204,181 204.1,192.4 204.2,180.1 204.3,196.2 204.5,184.4 204.6,180.2 204.7,184.6 204.8,180 205,185.5 205.1,166.7 205.2,180.9 205.3,186.7 205.5,188.8 205.6,183.3 205.7,194.5 205.8,167.4 206,184.3 206.1,182.3 206.2,185.6 206.3,183.7 206.5,195.2 206.6,185.4 206.7,175.1 206.8,202.8 207,185.4 207.1,183.9 207.2,191.2 207.3,180.6 207.5,182.2 207.6,190.8 207.7,171.5 207.8,181.3 208,194.7 208.1,197.1 208.2,183.3 208.3,183.4 208.5,191.8 208.6,173.5 208.7,179 208.8,178.2 209,169.1 209.1,151.6 209.2,179 209.3,190 209.5,188.1 209.6,192.3 209.7,163.6 209.8,182.1 210,192.6 210.1,173.2 210.2,173.5 210.3,186.5 210.5,182.8 210.6,189.6 210.7,182.3 210.8,191.4 211,187.3 211.1,184.1 211.2,177.9 211.3,187.2 211.5,177.2 211.6,192.5 211.7,190.1 211.8,192.2 212,172.4 212.1,184.8 212.2,185.6 212.4,191.1 212.5,163.8 212.6,174.5 212.7,180.6 212.9,196.7 213,176.7 213.1,187.5 213.2,181.9 213.4,194.9 213.5,183.1 213.6,168.9 213.7,177.4 213.9,182.4 214,189.7 214.1,185.2 214.2,177 214.4,165.9 214.5,180.4 214.6,179.2 214.7,189.8 214.9,186.8 215,169.6 215.1,162.8 215.2,176.7 215.4,181.7 215.5,172.5 215.6,173.6 215.7,188.2 215.9,184.8 216,166.6 216.1,181.8 216.2,180.9 216.4,177.6 216.5,183.2 216.6,183.3 216.7,207.2 216.9,180.5 217,173.3 217.1,172.9 217.2,183.9 217.4,192.8 217.5,182.9 217.6,182.3 217.7,180.2 217.9,173 218,178.9 218.1,169 218.2,186.5 218.4,183.2 218.5,179.8 218.6,171.3 218.7,175.7 218.9,170.9 219,179.7 219.1,174 219.2,180 219.4,187.9 219.5,186.6 219.6,169.4 219.7,173 219.9,168.7 220,186.1 220.1,166.8 220.2,186.7 220.4,172.7 220.5,184.1 220.6,172.3 220.7,174.6 220.9,177.1 221,176.7 221.1,174.9 221.2,180.9 221.4,189.7 221.5,182.2 221.6,172 221.7,154 221.9,176.7 222,142.3 222.1,183.1 222.2,179.9 222.4,165.9 222.5,179.4 222.6,169.9 222.8,184.4 222.9,165.8 223,168.4 223.1,169.6 223.3,177.3 223.4,162.3 223.5,200.7 223.6,171.5 223.8,187.5 223.9,170.8 224,171.6 224.1,168.6 224.3,168.1 224.4,177.1 224.5,187.8 224.6,174.9 224.8,166.8 224.9,176 225,167.4 225.1,152.9 225.3,174.7 225.4,159.9 225.5,168.3 225.6,173.4 225.8,169.9 225.9,170.9 226,184.6 226.1,180.1 226.3,184.3 226.4,175.1 226.5,174.3 226.6,193.3 226.8,167.6 226.9,174.9 227,173.3 227.1,174.5 227.3,176.8 227.4,173 227.5,178.3 227.6,165.5 227.8,175.8 227.9,159.6 228,180.1 228.1,179.3 228.3,170.1 228.4,165.6 228.5,171.3 228.6,175.8 228.8,159.9 228.9,163.8 229,178.6 229.1,168.8 229.3,161.5 229.4,154.3 229.5,166 229.6,157.8 229.8,172.1 229.9,170.5 230,185.2 230.1,156.2 230.3,178.5 230.4,161.8 230.5,163.1 230.6,169.3 230.8,160.8 230.9,184.8 231,170.4 231.1,165.1 231.3,188.5 231.4,161.3 231.5,166.2 231.6,169.2 231.8,161.4 231.9,175.4 232,179.9 232.1,155.3 232.3,167 232.4,167.8 232.5,160 232.6,160.6 232.8,167.9 232.9,163.8 233,173.1 233.1,180.2 233.3,172.8 233.4,173 233.5,163.8 233.7,163.6 233.8,173.8 233.9,175.3 234,170.3 234.2,175.1 234.3,167.9 234.4,162.2 234.5,173.5 234.7,166 234.8,158.3 234.9,177.6 235,174.2 235.2,176.9 235.3,167.9 235.4,188.6 235.5,175.2 235.7,179 235.8,163.9 235.9,169.4 236,186.6 236.2,171.7 236.3,172.2 236.4,183.3 236.5,180.9 236.7,174.7 236.8,186.7 236.9,161.2 237,172 237.2,166 237.3,183.7 237.4,190.8 237.5,167.1 237.7,174.1 237.8,180.1 237.9,177.1 238,176.2 238.2,180.8 238.3,188 238.4,174.5 238.5,165.5 238.7,172.4 238.8,173.7 238.9,171.2 239,179.4 239.2,179.7 239.3,184.6 239.4,178 239.5,176.6 239.7,167.2 239.8,170.8 239.9,168.6 240,177.4 240.2,174.3 240.3,175 240.4,179.3 240.5,173.4 240.7,183.5 240.8,187.5 240.9,169 241,190.7 241.2,173.7 241.3,171 241.4,174.1 241.5,162.1 241.7,179.1 241.8,185.6 241.9,165.9 242,181.7 242.2,181.4 242.3,184.5 242.4,182.1 242.5,182.3 242.7,172.3 242.8,184.3 242.9,180.3 243,183.8 243.2,181.5 243.3,175.3 243.4,178.1 243.5,185.2 243.7,190.1 243.8,165.1 243.9,169.8 244.1,160.9 244.2,173.2 244.3,174.6 244.4,180.9 244.6,177.4 244.7,189.3 244.8,175.5 244.9,174.9 245.1,174.3 245.2,178.1 245.3,181.5 245.4,177.1 245.6,174.1 245.7,165.6 245.8,182.2 245.9,174.8 246.1,174.2 246.2,179.3 246.3,183.7 246.4,196 246.6,193.1 246.7,171.9 246.8,178.7 246.9,168.2 247.1,160.6 247.2,169.2 247.3,188.7 247.4,181.4 247.6,172.2 247.7,177.9 247.8,179.3 247.9,178.3 248.1,193.3 248.2,162 248.3,178.1 248.4,185.1 248.6,186.8 248.7,168.3 248.8,185.5 248.9,170 249.1,179.8 249.2,172.9 249.3,189.5 249.4,205.9 249.6,191.3 249.7,181 249.8,165.5 249.9,190.6 250.1,193 250.2,172.8 250.3,191.4 250.4,165.6 250.6,171.2 250.7,186.2 250.8,175.6 250.9,190.6 251.1,195.4 251.2,186.1 251.3,190.8 251.4,202.7 251.6,191.3 251.7,195 251.8,196 251.9,179 252.1,209.5 252.2,198.9 252.3,187.6 252.4,195.4 252.6,189 252.7,189.3 252.8,180.2 252.9,184.4 253.1,183.7 253.2,194.8 253.3,190.7 253.4,190.3 253.6,186.9 253.7,196.4 253.8,171.1 253.9,181.8 254.1,194.6 254.2,183.8 254.3,192.6 254.5,199.2 254.6,193.9 254.7,178.5 254.8,187.1 255,180.9 255.1,192.1 255.2,196 255.3,186.5 255.5,194.5 255.6,187.9 255.7,209.4 255.8,190.4 256,191.1 256.1,193.5 256.2,200.8 256.3,194.6 256.5,189.6 256.6,190.4 256.7,193.6 256.8,196.4 257,186.5 257.1,186.6 257.2,189 257.3,195.5 257.5,186.1 257.6,183.6 257.7,188.7 257.8,186 258,195.2 258.1,185.9 258.2,187.1 258.3,204 258.5,194.5 258.6,182.1 258.7,204.1 258.8,188.1 259,183.6 259.1,198.7 259.2,182.8 259.3,191.6 259.5,196.1 259.6,200.1 259.7,189 259.8,189.3 260,192.2 260.1,205.2 260.2,181 260.3,198.4 260.5,195.1 260.6,202.3 260.7,185.9 260.8,205.2 261,187.8 261.1,195.6 261.2,189.7 261.3,177.6 261.5,193.5 261.6,198 261.7,202.9 261.8,190 262,186.6 262.1,201.6 262.2,192.1 262.3,201.4 262.5,204 262.6,192.4 262.7,193.7 262.8,190.2 263,174.6 263.1,195.1 263.2,200 263.3,206.1 263.5,195.3 263.6,207.6 263.7,192.2 263.8,195.5 264,192.3 264.1,193 264.2,194.2 264.3,189.2 264.5,193.5 264.6,198.1 264.7,197.1 264.8,189.7 265,201.7 265.1,191.4 265.2,201.4 265.4,197.3 265.5,177.8 265.6,186.7 265.7,206.7 265.9,190.8 266,193.1 266.1,194.6 266.2,198.2 266.4,201.3 266.5,195.8 266.6,208.6 266.7,192.2 266.9,194.9 267,196.8 267.1,199.2 267.2,207.6 267.4,221.7 267.5,196.2 267.6,196.9 267.7,202.6 267.9,197.9 268,204.3 268.1,188.4 268.2,204.4 268.4,185 268.5,202.5 268.6,203.5 268.7,215.2 268.9,190.4 269,206.4 269.1,203.7 269.2,193.6 269.4,202.3 269.5,194.3 269.6,188.4 269.7,185.1 269.9,198.6 270,193.3 270.1,179.7 270.2,202.1 270.4,189.4 270.5,204.8 270.6,202 270.7,195.3 270.9,185 271,194.9 271.1,192.2 271.2,198.4 271.4,197.3 271.5,225.4 271.6,187.7 271.7,195.4 271.9,204.8 272,211.5 272.1,210 272.2,191.8 272.4,209.5 272.5,183.3 272.6,200.3 272.7,207.3 272.9,208.9 273,193 273.1,193.9 273.2,188.4 273.4,197.5 273.5,193.5 273.6,204.1 273.7,197.6 273.9,206.3 274,201.9 274.1,200.6 274.2,214 274.4,210.3 274.5,194.5 274.6,216.6 274.7,207.9 274.9,211.6 275,206.1 275.1,191.9 275.2,201 275.4,179.6 275.5,194.7 275.6,196.8 275.8,211.8 275.9,204.2 276,205.3 276.1,211.2 276.3,198.3 276.4,211.1 276.5,205.6 276.6,198.2 276.8,200.7 276.9,202 277,210.4 277.1,218.5 277.3,202.7 277.4,203.3 277.5,222.4 277.6,225.1 277.8,216.4 277.9,206.3 278,201.6 278.1,209.5 278.3,207.2 278.4,200.4 278.5,218.6 278.6,221.5 278.8,200.3 278.9,200.7 279,202.5 279.1,193.5 279.3,211 279.4,196.9 279.5,210.2 279.6,208.6 279.8,210.9 279.9,197 280,207.3 280.1,209.1 280.3,212.1 280.4,208.9 280.5,201 280.6,213.9 280.8,220.2 280.9,220 281,202.3 281.1,210.3 281.3,198.2 281.4,206.1 281.5,212 281.6,193.4 281.8,234.3 281.9,215.2 282,200.1 282.1,202.1 282.3,207 282.4,206.4 282.5,196.1 282.6,207.1 282.8,198.3 282.9,204.2 283,219.3 283.1,207.6 283.3,205.9 283.4,218.2 283.5,210.4 283.6,212.4 283.8,205 283.9,215.5 284,205.5 284.1,214.2 284.3,212.9 284.4,219.7 284.5,218.6 284.6,209 284.8,202.6 284.9,207.3 285,205 285.1,218.9 285.3,205.1 285.4,195.3 285.5,211.9 285.6,214.7 285.8,200.9 285.9,214.2 286,197.2 286.2,212.2 286.3,209 286.4,213 286.5,212.7 286.7,206 286.8,218 286.9,207.2 287,211.1 287.2,219.3 287.3,204.8 287.4,211.3 287.5,220.6 287.7,218.5 287.8,206.6 287.9,207 288,214.3 288.2,207 288.3,211.5 288.4,202.7 288.5,217.2 288.7,195.9 288.8,212.2 288.9,215.7 289,207.3 289.2,196.5 289.3,203.8 289.4,199.8 289.5,222.8 289.7,199.9 289.8,203.9 289.9,215 290,212.3 290.2,221.8 290.3,220.2 290.4,216.4 290.5,211.6 290.7,208.8 290.8,211.2 290.9,221.4 291,218.3 291.2,218.5 291.3,202.3 291.4,208 291.5,208.6 291.7,209.5 291.8,206.4 291.9,219.4 292,219.5 292.2,230.3 292.3,210 292.4,212.3 292.5,213.9 292.7,213.3 292.8,205.5 292.9,221.1 293,194.5 293.2,209.1 293.3,202.1 293.4,217.6 293.5,205.4 293.7,206.9 293.8,213.9 293.9,207.7 294,215.7 294.2,211.9 294.3,226.2 294.4,206.9 294.5,206.7 294.7,218 294.8,215.3 294.9,217.4 295,212.9 295.2,223.7 295.3,217 295.4,227.3 295.5,206.8 295.7,216.6 295.8,213.8 295.9,218.9 296,209.6 296.2,222.9 296.3,207.3 296.4,220.9 296.5,218.9 296.7,204.7 296.8,218.1 296.9,197.6 297.1,219.2 297.2,206.2 297.3,215.5 297.4,214.4 297.6,206.3 297.7,198.9 297.8,219.3 297.9,213.4 298.1,222.9 298.2,216.2 298.3,233.1 298.4,218.2 298.6,233.1 298.7,218.8 298.8,217.3 298.9,220.1 299.1,212.4 299.2,213.1 299.3,227 299.4,216 299.6,206.6 299.7,220.4 299.8,212.3 299.9,217.9 300.1,224.3 300.2,229.6 300.3,234.5 300.4,224.7 300.6,221.7 300.7,221.1 300.8,219.7 300.9,217.7 301.1,231.7 301.2,217.5 301.3,233.7 301.4,217.6 301.6,229.6 301.7,201.5 301.8,219.4 301.9,212.9 302.1,233.2 302.2,232.6 302.3,215 302.4,218.4 302.6,227.6 302.7,220.8 302.8,219.6 302.9,224.9 303.1,207.4 303.2,228.8 303.3,222 303.4,202.3 303.6,214.1 303.7,219 303.8,240.6 303.9,219.8 304.1,210.8 304.2,232.5 304.3,223.8 304.4,219.9 304.6,226.2 304.7,216.8 304.8,219.5 304.9,226.1 305.1,222.9 305.2,226 305.3,218.2 305.4,236.1 305.6,207.9 305.7,212.4 305.8,225.5 305.9,218.8 306.1,222.9 306.2,221 306.3,219.7 306.4,214.6 306.6,222.7 306.7,228.6 306.8,213.7 306.9,238.5 307.1,230.3 307.2,216.1 307.3,225.9 307.5,214.7 307.6,220.5 307.7,211.7 307.8,216.8 308,204.9 308.1,220.4 308.2,215.2 308.3,216.2 308.5,209.9 308.6,222.2 308.7,232.6 308.8,219.4 309,220.7 309.1,211.7 309.2,218.8 309.3,216.6 309.5,208 309.6,214 309.7,218.6 309.8,223.5 310,219.7 310.1,223.3 310.2,229.3 310.3,230.4 310.5,219.3 310.6,211.4 310.7,220.7 310.8,222.2 311,231.1 311.1,222.6 311.2,247.2 311.3,219.2 311.5,225.7 311.6,214 311.7,216 311.8,220.1 312,223.1 312.1,225.9 312.2,193.9 312.3,228.5 312.5,235.7 312.6,234.4 312.7,229.9 312.8,221.2 313,227.3 313.1,229.5 313.2,216.3 313.3,228.3 313.5,225 313.6,221.1 313.7,238.4 313.8,218 314,216.4 314.1,221.8 314.2,218.4 314.3,229.9 314.5,212.5 314.6,214.5 314.7,223.9 314.8,226.5 315,215.3 315.1,229.7 315.2,211 315.3,231.6 315.5,217 315.6,219.4 315.7,232.6 315.8,221.8 316,218.5 316.1,223.6 316.2,233.2 316.3,223.1 316.5,217.8 316.6,224.3 316.7,215.1 316.8,216.3 317,219 317.1,226 317.2,219.5 317.3,225.1 317.5,229 317.6,231.5 317.7,207.4 317.8,222.1 318,215.7 318.1,228.3 318.2,223.8 318.4,222.3 318.5,219.3 318.6,216.8 318.7,207.5 318.9,228 319,221.3 319.1,222.7 319.2,224.3 319.4,229.7 319.5,233.4 319.6,221.1 319.7,226.3 319.9,213.1 320,220.3 320.1,216.4 320.2,217.2 320.4,229.3 320.5,223.2 320.6,223 320.7,223.1 320.9,221.4 321,221.4 321.1,219 321.2,219.6 321.4,220.2 321.5,221.2 321.6,211.9 321.7,223.1 321.9,222.5 322,225.1 322.1,216.3 322.2,214.6 322.4,227.4 322.5,218.7 322.6,225.5 322.7,218.9 322.9,215.9 323,214.5 323.1,219.3 323.2,220.1 323.4,215.8 323.5,231 323.6,223.2 323.7,215.2 323.9,231.4 324,230.4 324.1,216.4 324.2,217.1 324.4,221.5 324.5,229.5 324.6,215 324.7,229.6 324.9,220.8 325,227.8 325.1,222.2 325.2,225.8 325.4,226.7 325.5,230.4 325.6,217 325.7,233.9 325.9,215.9 326,224.9 326.1,227 326.2,223.6 326.4,231.1 326.5,209.1 326.6,223 326.7,232.2 326.9,223.3 327,216.9 327.1,224.1 327.2,225.1 327.4,217.6 327.5,230.8 327.6,218.8 327.7,217.5 327.9,223.9 328,219.6 328.1,222.3 328.2,224.7 328.4,221 328.5,226.7 328.6,226.2 328.8,234.2 328.9,217.7 329,223.8 329.1,224.9 329.3,225.1 329.4,211.5 329.5,217.4 329.6,226.5 329.8,226.7 329.9,224 330,224.5 330.1,230.5 330.3,221.5 330.4,219.2 330.5,232 330.6,227 330.8,222.6 330.9,217.6 331,232.7 331.1,221.4 331.3,216.7 331.4,234.9 331.5,211 331.6,222.8 331.8,229.3 331.9,221.4 332,219.4 332.1,226.1 332.3,213.3 332.4,222.5 332.5,227.8 332.6,217.5 332.8,231.5 332.9,222.1 333,223.3 333.1,221.1 333.3,227 333.4,221.1 333.5,226 333.6,230.9 333.8,230.8 333.9,210.8 334,231.4 334.1,219.7 334.3,225.5 334.4,224.4 334.5,225.4 334.6,220.4 334.8,227.1 334.9,229.6 335,220.6 335.1,223.8 335.3,231.2 335.4,229.9 335.5,225.8 335.6,225.4 335.8,228.3 335.9,221.2 336,225.8 336.1,222.4 336.3,222 336.4,203.7 336.5,208.5 336.6,227.4 336.8,228.1 336.9,226.5 337,224.5 337.1,222.3 337.3,229.1 337.4,220.7 337.5,224.1 337.6,232.4 337.8,216.2 337.9,220.6 338,222 338.1,213.2 338.3,217.3 338.4,230 338.5,226.9 338.6,223 338.8,235.5 338.9,215.6 339,240.8 339.2,223.6 339.3,219 339.4,230.1 339.5,228.7 339.7,225.9 339.8,223.2 339.9,213.9 340,212.3 340.2,224 340.3,229.5 340.4,219.6 340.5,224.6 340.7,215.3 340.8,215.6 340.9,223.7 341,228 341.2,228.2 341.3,230.8 341.4,219.6 341.5,222.8 341.7,228.5 341.8,218.3 341.9,222.4 342,224.1 342.2,224 342.3,229 342.4,226.5 342.5,221.6 342.7,211 342.8,228.6 342.9,229.7 343,227 343.2,226.1 343.3,226.6 343.4,230.9 343.5,219.8 343.7,223.8 343.8,218.6 343.9,222.9 344,217.1 344.2,219.6 344.3,207 344.4,223.6 344.5,233 344.7,207.3 344.8,231.3 344.9,224 345,218.3 345.2,226.9 345.3,222.8 345.4,223.6 345.5,232.1 345.7,225.1 345.8,227.4 345.9,222.7 346,223.2 346.2,216.3 346.3,223.5 346.4,217.5 346.5,230.6 346.7,222.9 346.8,230.6 346.9,235.4 347,229.9 347.2,218.3 347.3,233.6 347.4,207.8 347.5,232.2 347.7,202.4 347.8,216.4 347.9,223.8 348,220.3 348.2,212.4 348.3,215.9 348.4,226.5 348.5,214.7 348.7,227.8 348.8,234.2 348.9,231.8 349,226.5 349.2,224 349.3,220.9 349.4,239.7 349.5,231.1 349.7,227.9 349.8,226.2 349.9,230.5 350.1,213.6 350.2,231.8 350.3,221.2 350.4,211.4 350.6,230.6 350.7,217.8 350.8,226.8 350.9,220.3 351.1,221 351.2,233.4 351.3,227.3 351.4,226.6 351.6,210.9 351.7,229.5 351.8,220.8 351.9,227.1 352.1,218.8 352.2,226.5 352.3,229.3 352.4,216.3 352.6,226.3 352.7,219.5 352.8,235.3 352.9,227.7 353.1,224.8 353.2,241.6 353.3,231.8 353.4,222.4 353.6,229.5 353.7,226.2 353.8,232.2 353.9,219 354.1,241.6 354.2,220.3 354.3,222.5 354.4,218.4 354.6,222.1 354.7,235.4 354.8,225.7 354.9,218.7 355.1,223.9 355.2,226.9 355.3,230.1 355.4,222.9 355.6,226.5 355.7,241.2 355.8,223.7 355.9,225.4 356.1,218.1 356.2,230.1 356.3,222.2 356.4,240.8 356.6,231.6 356.7,229.4 356.8,220.5 356.9,222 357.1,221.6 357.2,225.7 357.3,221.9 357.4,221.9 357.6,225.8 357.7,224.7 357.8,221.7 357.9,232.9 358.1,230.8 358.2,221.8 358.3,237 358.4,228.3 358.6,231.8 358.7,235.5 358.8,212.8 358.9,229.4 359.1,230.2 359.2,231.8 359.3,229.5 359.4,230.7 359.6,216.6 359.7,219.7 359.8,228.3 359.9,207.5 360.1,222 360.2,224.1 360.3,227.2 360.5,230.2 360.6,226.5 360.7,218 360.8,219.8 361,227.5 361.1,228.5 361.2,228.5 361.3,226.5 361.5,225.8 361.6,217.4 361.7,225.1 361.8,229.5 362,218.9 362.1,227.7 362.2,229.2 362.3,245.5 362.5,224.9 362.6,223.9 362.7,218.6 362.8,219.2 363,216.3 363.1,215.3 363.2,231.5 363.3,225.3 363.5,228.1 363.6,211.7 363.7,214.1 363.8,215.5 364,234.5 364.1,231.7 364.2,217.9 364.3,226 364.5,226.4 364.6,217.1 364.7,221.9 364.8,230.8 365,229.5 365.1,230.6 365.2,228.4 365.3,226.2 365.5,228.4 365.6,224.3 365.7,235.1 365.8,226.9 366,228.7 366.1,225.2 366.2,221.9 366.3,225.4 366.5,223.9 366.6,221.2 366.7,230.3 366.8,236.9 367,227.4 367.1,225.2 367.2,219.7 367.3,217.6 367.5,229.2 367.6,229 367.7,221.4 367.8,226.3 368,221.1 368.1,233.8 368.2,226.5 368.3,229.8 368.5,235.4 368.6,206.9 368.7,228.2 368.8,227.5 369,224.4 369.1,226.1 369.2,233 369.3,222.4 369.5,222.4 369.6,235.7 369.7,231.8 369.8,230.5 370,230.6 370.1,226.7 370.2,224.5 370.3,225.4 370.5,229.1 370.6,222.5 370.7,217.4 370.9,225.4 371,228.9 371.1,225.5 371.2,230 371.4,227.9 371.5,231.7 371.6,227 371.7,225.1 371.9,231.5 372,231.3 372.1,224 372.2,221.7 372.4,233.8 372.5,222.2 372.6,229.8 372.7,222.7 372.9,227.7 373,234.2 373.1,235.8 373.2,219.3 373.4,214.4 373.5,208 373.6,229.8 373.7,240.1 373.9,229 374,224.9 374.1,231.1 374.2,218.8 374.4,230.2 374.5,234 374.6,233.4 374.7,230.5 374.9,223.8 375,224.8 375.1,221.6 375.2,236.9 375.4,233.5 375.5,226.4 375.6,226.3 375.7,228.9 375.9,223.1 376,231.3 376.1,229.5 376.2,229.1 376.4,227 376.5,212.9 376.6,225.7 376.7,215 376.9,212.6 377,239.1 377.1,222.7 377.2,225.7 377.4,225.1 377.5,222.1 377.6,235.7 377.7,211.3 377.9,229.4 378,223.6 378.1,237.7 378.2,234.1 378.4,227.2 378.5,218.6 378.6,231.1 378.7,232.2 378.9,230.5 379,225.2 379.1,230.3 379.2,222.6 379.4,229.1 379.5,228.9 379.6,225.6 379.7,221.4 379.9,225.7 380,222.1 380.1,220.3 380.2,232.7 380.4,225.7 380.5,224.1 380.6,222.7 380.7,229.3 380.9,224.3 381,223.1 381.1,228.4 381.2,228.3 381.4,222 381.5,221.1 381.6,238.2 381.8,225.5 381.9,237.4 382,232.2 382.1,226.5 382.3,225.7 382.4,236 382.5,221.7 382.6,224.9 382.8,220.2 382.9,226.2 383,221.9 383.1,227.7 383.3,216.5 383.4,230 383.5,229 383.6,229 383.8,223.8 383.9,234.2 384,238.2 384.1,226.4 384.3,220.7 384.4,232.7 384.5,226 384.6,228 384.8,230.8 384.9,219.7 385,231.2 385.1,221.5 385.3,220.4 385.4,225.1 385.5,235.3 385.6,223.8 385.8,229.8 385.9,222.2 386,230.7 386.1,229.1 386.3,237.2 386.4,228.3 386.5,227.5 386.6,217 386.8,229.1 386.9,234.1 387,228.4 387.1,228.4 387.3,232.2 387.4,232.2 387.5,219.9 387.6,227 387.8,229.8 387.9,228.8 388,222.2 388.1,216.5 388.3,229.2 388.4,231.4 388.5,236.6 388.6,229.8 388.8,222.7 388.9,229.9 389,226.9 389.1,223.8 389.3,219.6 389.4,212.1 389.5,223.7 389.6,224 389.8,228.1 389.9,227.6 390,229.5 390.1,243.8 390.3,227.2 390.4,235.1 390.5,223.3 390.6,221.5 390.8,224.7 390.9,217.7 391,241.7 391.1,229 391.3,231.6 391.4,237.1 391.5,230.1 391.6,236.6 391.8,214.7 391.9,234.6 392,229.3 392.2,223 392.3,233.6 392.4,228 392.5,223.8 392.7,211.3 392.8,237.5 392.9,205.6 393,228.4 393.2,241.3 393.3,231.3 393.4,222.5 393.5,225.5 393.7,222.6 393.8,229.9 393.9,227.2 394,216.9 394.2,219.7 394.3,234.1 394.4,220.8 394.5,221.5 394.7,240.6 394.8,223.2 394.9,220.5 395,219.5 395.2,232 395.3,221.4 395.4,227 395.5,215 395.7,224.4 395.8,228 395.9,228 396,240.3 396.2,232.1 396.3,211.8 396.4,218.8 396.5,220.2 396.7,226.1 396.8,228.1 396.9,233.1 397,213.3 397.2,215.5 397.3,232.1 397.4,222.2 397.5,214.7 397.7,222.5 397.8,225.3 397.9,221.1 398,221.3 398.2,233.4 398.3,218.2 398.4,229.5 398.5,229.5 398.7,225.8 398.8,240.8 398.9,220.3 399,249.8 399.2,222.5 399.3,226.3 399.4,229.5 399.5,237.2 399.7,231.7 399.8,225.9 399.9,224.8 400,234.4 400.2,240.9 400.3,223.2 400.4,238.3 400.5,231 400.7,230 400.8,221.8 400.9,217.1 401,230.3 401.2,212.6 401.3,225.2 401.4,230.3 401.5,213.7 401.7,241.9 401.8,237.2 401.9,222.1 402,227.4 402.2,227.3 402.3,225 402.4,225.3 402.6,230.7 402.7,237.3 402.8,228.5 402.9,228.7 403.1,229.2 403.2,224.3 403.3,233.4 403.4,223.9 403.6,222.7 403.7,233.7 403.8,212.2 403.9,225.3 404.1,226 404.2,227 404.3,219.6 404.4,222.9 404.6,226.9 404.7,231.5 404.8,227.2 404.9,227 405.1,223.6 405.2,228.3 405.3,204.4 405.4,233.7 405.6,233.6 405.7,228.1 405.8,222.9 405.9,235.6 406.1,222.5 406.2,235.7 406.3,226.8 406.4,224.1 406.6,226.4 406.7,222.5 406.8,227.4 406.9,231 407.1,226.9 407.2,225.8 407.3,228.2 407.4,230.5 407.6,228.4 407.7,232.9 407.8,231.5 407.9,229.9 408.1,232.3 408.2,228.5 408.3,234.6 408.4,231.8 408.6,233 408.7,226.8 408.8,216.4 408.9,224.6 409.1,228.6 409.2,230.4 409.3,228.2 409.4,236.5 409.6,221.3 409.7,213.5 409.8,227.5 409.9,224.7 410.1,228.6 410.2,232.1 410.3,251.3 410.4,221.3 410.6,222.6 410.7,228.2 410.8,220.5 410.9,224.4 411.1,239.3 411.2,228.2 411.3,228.3 411.4,234.5 411.6,219.2 411.7,229.2 411.8,228.3 411.9,230 412.1,220.2 412.2,224.9 412.3,228 412.4,232.6 412.6,224.6 412.7,231.9 412.8,210.8 412.9,232.1 413.1,232.8 413.2,223.7 413.3,227 413.5,228.6 413.6,231 413.7,235.1 413.8,230.2 414,226.7 414.1,227 414.2,230.9 414.3,232.9 414.5,230.8 414.6,225.7 414.7,226.8 414.8,224.4 415,224 415.1,224.6 415.2,223.9 415.3,232.8 415.5,222.3 415.6,229.3 415.7,219 415.8,235.3 416,230.3 416.1,235.5 416.2,231.6 416.3,220.2 416.5,228.9 416.6,225.4 416.7,224.4 416.8,220.3 417,227.1 417.1,229.2 417.2,230.5 417.3,242 417.5,227.9 417.6,229.2 417.7,228.3 417.8,227.4 418,227.2 418.1,229.2 418.2,227.7 418.3,232.7 418.5,231.1 418.6,224.1 418.7,228.8 418.8,231.4 419,227.4 419.1,227.6 419.2,228.3 419.3,232.1 419.5,229.8 419.6,224.4 419.7,228.6 419.8,235.4 420,223.8 420.1,232.3 420.2,226.9 420.3,259.3 420.5,232.2 420.6,229.2 420.7,228 420.8,220.8 421,226.2 421.1,245.3 421.2,230.8 421.3,227.4 421.5,228.9 421.6,229.1 421.7,221.2 421.8,229.8 422,231.6 422.1,216.9 422.2,227.7 422.3,214.5 422.5,220 422.6,233.3 422.7,238.9 422.8,238.7 423,218.4 423.1,228.5 423.2,227.2 423.3,234.6 423.5,230.7 423.6,229.4 423.7,232.1 423.9,226.6 424,236.9 424.1,227.2 424.2,234.8 424.4,230 424.5,230.9 424.6,223 424.7,216.5 424.9,220.7 425,231.6 425.1,217.7 425.2,236.2 425.4,226.4 425.5,221.9 425.6,230.8 425.7,222.5 425.9,229.2 426,226.9 426.1,238.7 426.2,236.3 426.4,233.9 426.5,225.3 426.6,239.1 426.7,228.6 426.9,229.6 427,232.6 427.1,230.4 427.2,222 427.4,232.4 427.5,220.7 427.6,231.5 427.7,228.5 427.9,229.4 428,223.3 428.1,234.2 428.2,228.2 428.4,233.5 428.5,225.2 428.6,223.2 428.7,229.6 428.9,234.4 429,222.1 429.1,226 429.2,226.4 429.4,226.8 429.5,225.3 429.6,234.6 429.7,232.7 429.9,229.1 430,233.4 430.1,234.4 430.2,224.1 430.4,225.2 430.5,232.6 430.6,240.1 430.7,216.6 430.9,224 431,235.4 431.1,224.8 431.2,233.6 431.4,230.2 431.5,222.5 431.6,225.3 431.7,231 431.9,224.3 432,232.1 432.1,230.7 432.2,226.6 432.4,231.1 432.5,226.1 432.6,230.8 432.7,221 432.9,240.5 433,227.6 433.1,235.1 433.2,240.2 433.4,237.3 433.5,228.9 433.6,229.8 433.7,228.8 433.9,230.7 434,224.7 434.1,219.5 434.3,230.7 434.4,229.3 434.5,241.5 434.6,238.5 434.8,221.8 434.9,224.1 435,235.3 435.1,238.6 435.3,229.7 435.4,229.3 435.5,219.3 435.6,247.6 435.8,225.4 435.9,232 436,231.8 436.1,224.3 436.3,236 436.4,236.7 436.5,228.8 436.6,229.8 436.8,232.5 436.9,237 437,233.6 437.1,221.8 437.3,224.1 437.4,226.1 437.5,214.8 437.6,218.3 437.8,228 437.9,225.5 438,224.6 438.1,233.7 438.3,230.8 438.4,235.7 438.5,228.1 438.6,226.8 438.8,224.5 438.9,230.3 439,219.5 439.1,221.9 439.3,232.1 439.4,235.9 439.5,228.7 439.6,222.9 439.8,232 439.9,225.1 440,228 440.1,223.9 440.3,243.8 440.4,236.8 440.5,222.1 440.6,222.9 440.8,228.7 440.9,234.1 441,235.6 441.1,228.7 441.3,222.5 441.4,231.4 441.5,231.1 441.6,220.6 441.8,227.6 441.9,226.6 442,223.8 442.1,230.1 442.3,237.5 442.4,237.2 442.5,224.3 442.6,225.9 442.8,234.6 442.9,227.2 443,226.1 443.1,240.5 443.3,208.2 443.4,225.5 443.5,224.6 443.6,228.7 443.8,237.9 443.9,228.2 444,226.6 444.1,229.8 444.3,226.5 444.4,230.9 444.5,242.3 444.6,223.4 444.8,227.9 444.9,228.6 445,217.9 445.2,232.1 445.3,228.6 445.4,218.6 445.5,226.7 445.7,229.8 445.8,224.2 445.9,234.6 446,225.8 446.2,216.8 446.3,233.1 446.4,228.2 446.5,229.7 446.7,220.4 446.8,221.7 446.9,223.6 447,228.1 447.2,228.2 447.3,236.2 447.4,237 447.5,229.6 447.7,228.4 447.8,244.3 447.9,229.2 448,234.2 448.2,226.4 448.3,228.1 448.4,227.5 448.5,223.3 448.7,230.9 448.8,224.6 448.9,228.3 449,232.2 449.2,240 449.3,218.9 449.4,229.3 449.5,234.2 449.7,227.1 449.8,233.5 449.9,231.7 450,231.5 450.2,226.7 450.3,227.8 450.4,227.7 450.5,223.7 450.7,229.8 450.8,223.3 450.9,221.3 451,221.6 451.2,234.7 451.3,225.9 451.4,224.2 451.5,233 451.7,226.7 451.8,230.6 451.9,227.9 452,230.8 452.2,229.9 452.3,217.5 452.4,240.8 452.5,234.1 452.7,217 452.8,236.1 452.9,227.7 453,229.8 453.2,235.6 453.3,236.9 453.4,234 453.5,239.4 453.7,237.7 453.8,225.7 453.9,222.1 454,233.2 454.2,215 454.3,227 454.4,227 454.5,223.1 454.7,236 454.8,230.5 454.9,227.7 455,236.1 455.2,226.7 455.3,235.1 455.4,239.6 455.6,228.2 455.7,228 455.8,234.9 455.9,218.6 456.1,222.3 456.2,223.4 456.3,220.4 456.4,228.8 456.6,230.4 456.7,228.7 456.8,228.7 456.9,233.6 457.1,237.5 457.2,235.3 457.3,228.1 457.4,228.9 457.6,236.5 457.7,232.1 457.8,235.7 457.9,226.3 458.1,228.6 458.2,225.4 458.3,228.7 458.4,231 458.6,225.2 458.7,239.1 458.8,221 458.9,233.3 459.1,223.1 459.2,230.4 459.3,224.8 459.4,229.2 459.6,229.2 459.7,222.3 459.8,218.9 459.9,225.1 460.1,228.9 460.2,233 460.3,237.2 460.4,219.8 460.6,232.5 460.7,225 460.8,228.8 460.9,231.3 461.1,232.9 461.2,230.9 461.3,228.6 461.4,237 461.6,230.2 461.7,228.7 461.8,238 461.9,222.8 462.1,221.1 462.2,240.5 462.3,227.7 462.4,219.4 462.6,232.9 462.7,235.1 462.8,224.7 462.9,221.9 463.1,228.3 463.2,230.6 463.3,223.9 463.4,221.3 463.6,231.5 463.7,233 463.8,215.9 463.9,222.9 464.1,227 464.2,225.4 464.3,229.8 464.4,231.4 464.6,238.4 464.7,231.6 464.8,236.1 464.9,216.1 465.1,225.1 465.2,234.2 465.3,216.9 465.4,235.7 465.6,233 465.7,229.4 465.8,228 465.9,222.6 466.1,219.9 466.2,224.3 466.3,226.4 466.5,235.1 466.6,223.3 466.7,223.5 466.8,219.6 467,229.9 467.1,228.6 467.2,234.3 467.3,238.6 467.5,232.9 467.6,221.7 467.7,229.8 467.8,230.1 468,228.1 468.1,219.9 468.2,231.3 468.3,222.3 468.5,227.9 468.6,227 468.7,215.1 468.8,233.5 469,239.7 469.1,225.6 469.2,225.4 469.3,233.5 469.5,221.8 469.6,228.7 469.7,229.9 469.8,225.7 470,228 470.1,224.2 470.2,225.6 470.3,232.1 470.5,224.1 470.6,225.6 470.7,225 470.8,231.3 471,226.7 471.1,224.2 471.2,230.3 471.3,218.1 471.5,218.7 471.6,230.9 471.7,238.3 471.8,226 472,231.3 472.1,221.4 472.2,229.5 472.3,229.6 472.5,231.6 472.6,222.6 472.7,238.7 472.8,220.8 473,240.8 473.1,223 473.2,232.7 473.3,235.6 473.5,239.9 473.6,228 473.7,220 473.8,235.4 474,224.9 474.1,223 474.2,223.8 474.3,221.2 474.5,232.6 474.6,230.1 474.7,232.2 474.8,233.1 475,226.6 475.1,232.3 475.2,238.4 475.3,238.3 475.5,229.5 475.6,227.3 475.7,221.1 475.8,226.6 476,228.7 476.1,230 476.2,217.8 476.3,226.5 476.5,227.6 476.6,225.6 476.7,225.5 476.9,230.5 477,223.6 477.1,231.1 477.2,223 477.4,229.8 477.5,219.7 477.6,234.8 477.7,232.5 477.9,235.7 478,221.9 478.1,221.8 478.2,218 478.4,227.5 478.5,234.2 478.6,232.3 478.7,232.2 478.9,222.2 479,234.3 479.1,234.5 479.2,225.8 479.4,215.3 479.5,224.5 479.6,227.5 479.7,236.9 479.9,229.8 480,228.3 480.1,237 480.2,236.8 480.4,230.6 480.5,231.9 480.6,235.2 480.7,224.9 480.9,230.8 481,226.4 481.1,223.6 481.2,231.3 481.4,237.6 481.5,238.5 481.6,232.8 481.7,234.7 481.9,227.3 482,220.8 482.1,225.4 482.2,230.8 482.4,225.7 482.5,244.3 482.6,235.2 482.7,227.2 482.9,237.9 483,232.2 483.1,237.5 483.2,227.9 483.4,233 483.5,227.7 483.6,229 483.7,238.2 483.9,244.4 484,229.6 484.1,230.5 484.2,221.9 484.4,227.3 484.5,233.1 484.6,222.5 484.7,226.8 484.9,223.2 485,230.7 485.1,233.8 485.2,230.9 485.4,227.7 485.5,223.9 485.6,220.7 485.7,229.4 485.9,241.6 486,227.8 486.1,228.7 486.2,227 486.4,223.4 486.5,234.9 486.6,235.1 486.7,221.6 486.9,219.4 487,236.5 487.1,224.8 487.3,229.2 487.4,224.1 487.5,231.2 487.6,225.4 487.8,226.4 487.9,220.6 488,245 488.1,250.7 488.3,231.5 488.4,233.2 488.5,234.4 488.6,229.8 488.8,229.1 488.9,227.9 489,234 489.1,223.5 489.3,225.5 489.4,233.6 489.5,222.6 489.6,238.5 489.8,228.6 489.9,231 490,237 490.1,229.9 490.3,230.8 490.4,227.1 490.5,234.4 490.6,233.9 490.8,223.2 490.9,235.6 491,235.4 491.1,232.8 491.3,224.4 491.4,238 491.5,237.6 491.6,227.9 491.8,221 491.9,224.9 492,230.7 492.1,237.4 492.3,240.3 492.4,236.3 492.5,227.4 492.6,234.7 492.8,230.8 492.9,225.5 493,221.6 493.1,236.1 493.3,217.9 493.4,241.1 493.5,249.2 493.6,231.2 493.8,224.3 493.9,227.8 494,225.7 494.1,234.3 494.3,236.4 494.4,227.3 494.5,229.6 494.6,228 494.8,237.3 494.9,236.5 495,224.7 495.1,229.1 495.3,232.4 495.4,222.3 495.5,228.8 495.6,232.4 495.8,220.5 495.9,233.4 496,232 496.1,227.4 496.3,240.1 496.4,227 496.5,234.1 496.6,230.6 496.8,240.8 496.9,225.8 497,236.9 497.1,235.3 497.3,238 497.4,240.5 497.5,220.1 497.6,231.7 497.8,226.7 497.9,237.4 498,243.3 498.2,230.9 498.3,233.7 498.4,239.3 498.5,234.2 498.7,231.6 498.8,224.2 498.9,229 499,237.9 499.2,225.2 499.3,234.3 499.4,234 499.5,232.8 499.7,239.3 499.8,229.1 499.9,244 500,230.8 500.2,241.2 500.3,228.5 500.4,234.5 500.5,230.6 500.7,241.9 500.8,227.9 500.9,228.3 501,240.9 501.2,237.6 501.3,233.2 501.4,232.2 501.5,226.9 501.7,232.2 501.8,235.4 501.9,243.2 502,238.5 502.2,245.2 502.3,236.8 502.4,230.2 502.5,231.1 502.7,241.7 502.8,234.8 502.9,241.2 503,221.5 503.2,231.6 503.3,230 503.4,235.5 503.5,228 503.7,223.8 503.8,233.9 503.9,216.3 504,231.3 504.2,236.5 504.3,228.5 504.4,234 504.5,230 504.7,232.8 504.8,235.8 504.9,237 505,236.9 505.2,228.8 505.3,242.5 505.4,236.4 505.5,231.5 505.7,241.7 505.8,231.8 505.9,244.9 506,239.3 506.2,234.5 506.3,232.6 506.4,230.8 506.5,229 506.7,233.8 506.8,242.1 506.9,236.2 507,234.9 507.2,237.5 507.3,233 507.4,229 507.5,227.9 507.7,242.8 507.8,234.1 507.9,243.8 508,245.3 508.2,237.1 508.3,239.6 508.4,233.9 508.6,235.1 508.7,236.2 508.8,235.8 508.9,243.6 509.1,235.2 509.2,243.1 509.3,236.6 509.4,239.2 509.6,250.6 509.7,223.9 509.8,245.4 509.9,232.9 510.1,237.8 510.2,233.6 510.3,233.8 510.4,225.6 510.6,215.3 510.7,247.3 510.8,240.8 510.9,235.2 511.1,226.9 511.2,241.9 511.3,244.6 511.4,238.8 511.6,227.8 511.7,233.9 511.8,238 511.9,236.2 512.1,242.4 512.2,229.1 512.3,231.7 512.4,224 512.6,242.6 512.7,240.1 512.8,234.6 512.9,227.6 513.1,243.9 513.2,229.6 513.3,230.4 513.4,227.1 513.6,229.7 513.7,229.6 513.8,231.4 513.9,245.9 514.1,240.8 514.2,237.8 514.3,234.2 514.4,236.9 514.6,230.4 514.7,240.4 514.8,232.4 514.9,234.7 515.1,239.1 515.2,232.8 515.3,230.2 515.4,242.7 515.6,223.7 515.7,230.9 515.8,231.5 515.9,233.8 516.1,236.8 516.2,211.9 516.3,235 516.4,244.9 516.6,243.8 516.7,242.3 516.8,237.1 516.9,239.5 517.1,234.9 517.2,229.2 517.3,239.7 517.4,243.5 517.6,240.3 517.7,237.7 517.8,242.5 517.9,239.7 518.1,243.9 518.2,235.9 518.3,228.8 518.4,240.7 518.6,242.8 518.7,234.2 518.8,240.1 519,244 519.1,224.2 519.2,251 519.3,242.4 519.5,237.4 519.6,229.2 519.7,230.3 519.8,255.8 520,236.9 520.1,242.2 520.2,233.3 520.3,237 520.5,243.9 520.6,233.8 520.7,238.3 520.8,237.7 521,242.6 521.1,243.3 521.2,237.4 521.3,246.1 521.5,236.5 521.6,237 521.7,239.4 521.8,237.7 522,243.1 522.1,224.4 522.2,230 522.3,221.8 522.5,246.5 522.6,243.5 522.7,235.7 522.8,241.3 523,230.2 523.1,237.8 523.2,247 523.3,242.8 523.5,250.5 523.6,235.6 523.7,245.5 523.8,240.1 524,241.2 524.1,241.7 524.2,245.8 524.3,250.3 524.5,240.3 524.6,242.8 524.7,239.3 524.8,241.3 525,235.7 525.1,247.9 525.2,243.6 525.3,241.7 525.5,240 525.6,234.8 525.7,232.6 525.8,231.4 526,236.1 526.1,244.9 526.2,242.5 526.3,233 526.5,235.4 526.6,247.2 526.7,249 526.8,244.8 527,257.3 527.1,237 527.2,242.8 527.3,237.4 527.5,258.3 527.6,244.2 527.7,242.9 527.8,243.9 528,237.3 528.1,240.6 528.2,229.3 528.3,238.7 528.5,233.2 528.6,245.1 528.7,247.9 528.8,242.5 529,236 529.1,235.6 529.2,245.1 529.3,240 529.5,239.5 529.6,235.9 529.7,242.7 529.9,242.5 530,245.6 530.1,236.8 530.2,241.4 530.4,230.7 530.5,243.6 530.6,241.7 530.7,239 530.9,246.3 531,232 531.1,249.8 531.2,244 531.4,244.9 531.5,243.4 531.6,238.4 531.7,239.2 531.9,246.9 532,242.2 532.1,243.8 532.2,240.4 532.4,246.5 532.5,247.6 532.6,235.7 532.7,252.2 532.9,247.6 533,249.1 533.1,244.1 533.2,242.2 533.4,249.4 533.5,255.6 533.6,242.1 533.7,237.1 533.9,242.6 534,243 534.1,250.4 534.2,233.4 534.4,240.5 534.5,240.6 534.6,250.6 534.7,248.4 534.9,243.9 535,248.3 535.1,244 535.2,243.5 535.4,231.5 535.5,236.3 535.6,234.5 535.7,246.7 535.9,243.5 536,237.7 536.1,243.3 536.2,242.5 536.4,245.1 536.5,240.4 536.6,237.8 536.7,252.8 536.9,242 537,251.3 537.1,238.9 537.2,242.2 537.4,241.8 537.5,238.6 537.6,249 537.7,236.8 537.9,244.7 538,227.3 538.1,249 538.2,244 538.4,249.2 538.5,259.2 538.6,240.3 538.7,243.9 538.9,234 539,241.5 539.1,244.1 539.2,244 539.4,247.7 539.5,246.3 539.6,251.5 539.7,240.6 539.9,245.2 540,238.9" fill="none" stroke="#1a1aff" stroke-width="1.2" stroke-linejoin="round" stroke-linecap="round" />
<polyline points="64,141.5 64.1,134.8 64.3,132.1 64.4,134.1 64.5,143.1 64.6,129.2 64.8,135.2 64.9,133.4 65,118.2 65.1,130 65.3,134.5 65.4,133.6 65.5,131.7 65.6,126.9 65.8,133.2 65.9,132.9 66,135.8 66.1,139.6 66.3,132.3 66.4,136.7 66.5,134.2 66.6,150.1 66.8,134.3 66.9,143.2 67,128 67.1,124.5 67.3,135.4 67.4,131.6 67.5,137.6 67.6,135.6 67.8,137.7 67.9,127.3 68,132.1 68.1,135.7 68.3,129.8 68.4,132.2 68.5,140.2 68.6,132 68.8,133.2 68.9,140.3 69,134.1 69.1,122.9 69.3,133.2 69.4,132.6 69.5,133.6 69.6,141.8 69.8,139.8 69.9,132.8 70,129.4 70.1,135.7 70.3,132.9 70.4,137.6 70.5,134.4 70.6,136.3 70.8,128.7 70.9,131.3 71,132.3 71.1,126.9 71.3,133.7 71.4,130.4 71.5,130.5 71.6,129 71.8,131.6 71.9,125.1 72,135.7 72.1,133.6 72.3,134.3 72.4,137.2 72.5,133.9 72.6,130.1 72.8,140.7 72.9,129.5 73,133 73.1,122.7 73.3,129.5 73.4,131.6 73.5,134.5 73.6,133.9 73.8,138.1 73.9,129.3 74,129.3 74.1,132.5 74.3,128.2 74.4,129.9 74.5,131.8 74.7,118.7 74.8,121.3 74.9,133.2 75,126.9 75.2,134.5 75.3,129.3 75.4,127 75.5,133.9 75.7,130.2 75.8,133.7 75.9,128.4 76,127.8 76.2,129.1 76.3,126.1 76.4,130.4 76.5,126.9 76.7,133.4 76.8,136.2 76.9,133 77,125.7 77.2,136.2 77.3,123.6 77.4,132.4 77.5,131.4 77.7,134.1 77.8,128.1 77.9,127.7 78,135.7 78.2,135.6 78.3,126.6 78.4,129.6 78.5,127.5 78.7,119.8 78.8,138.2 78.9,128 79,131 79.2,131.7 79.3,125.2 79.4,136.6 79.5,127.8 79.7,124.5 79.8,132.8 79.9,131.3 80,128.3 80.2,130.2 80.3,137.6 80.4,135.1 80.5,130.5 80.7,128.9 80.8,138.2 80.9,128.5 81,122.1 81.2,135.5 81.3,128.2 81.4,121.1 81.5,124.3 81.7,124.4 81.8,120.9 81.9,126.9 82,126.2 82.2,137 82.3,129.6 82.4,127.5 82.5,129.2 82.7,131.2 82.8,134 82.9,135.3 83,121.4 83.2,120.1 83.3,129.5 83.4,137.8 83.5,126.3 83.7,134.1 83.8,127.1 83.9,125.7 84,127.7 84.2,135.2 84.3,127.2 84.4,129.5 84.5,130.5 84.7,135.2 84.8,129.5 84.9,132.8 85,136.2 85.2,134.1 85.3,127.2 85.4,128.2 85.6,130.6 85.7,127.5 85.8,123.8 85.9,122.4 86.1,126 86.2,119.9 86.3,140.8 86.4,131.9 86.6,124.5 86.7,124.9 86.8,133.3 86.9,118.6 87.1,121.1 87.2,132.3 87.3,127.4 87.4,131 87.6,128 87.7,127.5 87.8,124.6 87.9,129.4 88.1,128.3 88.2,128.2 88.3,124.3 88.4,135.1 88.6,127.2 88.7,129.5 88.8,119 88.9,115.6 89.1,129.8 89.2,123.7 89.3,122.8 89.4,127.9 89.6,135.3 89.7,124.9 89.8,124.8 89.9,129 90.1,128.3 90.2,126.1 90.3,117.8 90.4,129 90.6,122.1 90.7,134.6 90.8,122.3 90.9,126.2 91.1,124.9 91.2,126.5 91.3,142 91.4,123.7 91.6,131.8 91.7,124.7 91.8,122.2 91.9,127.8 92.1,125.9 92.2,123.1 92.3,117.6 92.4,125.9 92.6,139 92.7,123.3 92.8,126.6 92.9,121.1 93.1,139 93.2,113.7 93.3,119.4 93.4,110.4 93.6,128 93.7,124.2 93.8,124.8 93.9,122.8 94.1,129.7 94.2,128.7 94.3,130.7 94.4,110.3 94.6,118.2 94.7,122.6 94.8,126 94.9,109.6 95.1,133 95.2,123.2 95.3,132.8 95.4,116.2 95.6,116.1 95.7,116.5 95.8,118.3 96,117.5 96.1,113 96.2,126.7 96.3,123.1 96.5,116.8 96.6,111.1 96.7,125.6 96.8,109.8 97,115 97.1,111.1 97.2,114.7 97.3,123 97.5,123.5 97.6,120.9 97.7,114 97.8,125.2 98,124.5 98.1,122.5 98.2,129.7 98.3,113.8 98.5,113.2 98.6,114.9 98.7,115.5 98.8,121.2 99,119 99.1,116.1 99.2,123.2 99.3,117.3 99.5,113.6 99.6,113 99.7,111.3 99.8,116.1 100,113 100.1,116.2 100.2,118.6 100.3,118.8 100.5,114.4 100.6,125.3 100.7,110.9 100.8,119.4 101,116.1 101.1,117.1 101.2,112.5 101.3,111.9 101.5,118.3 101.6,107.1 101.7,115.7 101.8,108 102,106 102.1,114.9 102.2,111.7 102.3,128.3 102.5,105.7 102.6,114.9 102.7,114.4 102.8,114.2 103,111 103.1,105.4 103.2,116.4 103.3,118.2 103.5,115.3 103.6,113.6 103.7,117.8 103.8,116.6 104,115 104.1,106.8 104.2,116.2 104.3,106.9 104.5,112.8 104.6,103.2 104.7,109.7 104.8,114.1 105,107.7 105.1,116.9 105.2,107.3 105.3,121.9 105.5,108.4 105.6,121.6 105.7,114.1 105.8,108.3 106,102.8 106.1,106 106.2,122.8 106.4,101.4 106.5,95.4 106.6,108.6 106.7,113.1 106.9,104.8 107,99.8 107.1,104.5 107.2,104.9 107.4,111.3 107.5,114.9 107.6,104.1 107.7,98.6 107.9,98.8 108,95.8 108.1,103.9 108.2,96.2 108.4,109.3 108.5,101.7 108.6,99.8 108.7,110.4 108.9,94 109,107.2 109.1,102.9 109.2,104.1 109.4,101.8 109.5,95.8 109.6,106.2 109.7,107.3 109.9,84.9 110,101.2 110.1,99.8 110.2,97.8 110.4,102.1 110.5,98.7 110.6,97.4 110.7,105.4 110.9,91.2 111,96.7 111.1,95.1 111.2,91.8 111.4,95.3 111.5,109.1 111.6,90.8 111.7,117.5 111.9,84.3 112,84.2 112.1,93 112.2,89.7 112.4,106.2 112.5,98.4 112.6,90.1 112.7,94.4 112.9,92.6 113,109 113.1,96 113.2,96.1 113.4,97.3 113.5,96 113.6,93.9 113.7,86.6 113.9,94.3 114,94.5 114.1,86 114.2,93.4 114.4,86 114.5,83.6 114.6,92 114.7,96.4 114.9,99.7 115,88.8 115.1,83.7 115.2,86.6 115.4,89 115.5,90 115.6,93.4 115.7,89.7 115.9,96.2 116,86.8 116.1,92.6 116.2,93.4 116.4,92.8 116.5,93.9 116.6,79.9 116.7,93.9 116.9,86 117,87.6 117.1,82.8 117.3,91.3 117.4,84.1 117.5,84 117.6,91.4 117.8,83.1 117.9,89.2 118,88.4 118.1,89.7 118.3,86.8 118.4,79.5 118.5,86.9 118.6,87.9 118.8,101.7 118.9,95.8 119,90.1 119.1,90.5 119.3,70.4 119.4,81.6 119.5,74.8 119.6,89.3 119.8,86.9 119.9,86.8 120,86.8 120.1,85.3 120.3,82.4 120.4,79.5 120.5,88.8 120.6,82.4 120.8,91.5 120.9,79.4 121,79.3 121.1,77 121.3,85 121.4,73.7 121.5,67.3 121.6,73.4 121.8,76.4 121.9,80.1 122,77.9 122.1,91 122.3,81.4 122.4,84.9 122.5,91.6 122.6,85 122.8,84.1 122.9,75.8 123,80.9 123.1,77.2 123.3,82.4 123.4,74.3 123.5,81.4 123.6,74.4 123.8,83.9 123.9,84.1 124,87.9 124.1,74.2 124.3,84.2 124.4,66.1 124.5,77.6 124.6,62.9 124.8,75.8 124.9,68.5 125,75 125.1,70.9 125.3,82.5 125.4,87.6 125.5,79.7 125.6,80.6 125.8,77.1 125.9,73.6 126,72.7 126.1,66.9 126.3,69 126.4,80.9 126.5,70.9 126.6,75.5 126.8,64.9 126.9,86.7 127,81 127.1,72.2 127.3,83.8 127.4,75.5 127.5,82.6 127.7,71.3 127.8,69.4 127.9,85.3 128,76.3 128.2,79.6 128.3,77.7 128.4,72.4 128.5,67.4 128.7,73.7 128.8,60.7 128.9,71.8 129,77.9 129.2,69.7 129.3,82.2 129.4,68.8 129.5,64.6 129.7,74.3 129.8,69.7 129.9,76.6 130,66.7 130.2,73.9 130.3,71.2 130.4,73 130.5,76.2 130.7,65.8 130.8,69.3 130.9,80.8 131,77.7 131.2,77.1 131.3,63.6 131.4,71.5 131.5,66.7 131.7,67.5 131.8,61 131.9,57.7 132,79.6 132.2,75.2 132.3,61.6 132.4,67.2 132.5,71.1 132.7,66.9 132.8,73.5 132.9,67 133,62.2 133.2,68.1 133.3,73.3 133.4,62.3 133.5,75.3 133.7,77.1 133.8,74.6 133.9,74.4 134,70.5 134.2,74.4 134.3,66.9 134.4,49.8 134.5,67.2 134.7,85 134.8,77.8 134.9,62 135,70.5 135.2,67.6 135.3,64.9 135.4,70.1 135.5,76.9 135.7,72.7 135.8,70.2 135.9,52.8 136,92.8 136.2,65.9 136.3,73.2 136.4,77.9 136.5,74.9 136.7,78.3 136.8,52.3 136.9,68.5 137,69.8 137.2,66 137.3,64.8 137.4,79.4 137.5,66.9 137.7,84.5 137.8,80 137.9,72.8 138.1,66.9 138.2,69.8 138.3,71.1 138.4,71.7 138.6,71.1 138.7,76.1 138.8,74.3 138.9,75.7 139.1,76.2 139.2,83.6 139.3,88.4 139.4,77 139.6,76.4 139.7,76.3 139.8,83 139.9,81.6 140.1,78.5 140.2,76.7 140.3,83.3 140.4,84.4 140.6,76.1 140.7,82.5 140.8,68.6 140.9,75.3 141.1,82 141.2,70.5 141.3,71.1 141.4,81.3 141.6,68.8 141.7,78.4 141.8,92.2 141.9,82.6 142.1,96.2 142.2,89.8 142.3,74.6 142.4,79.6 142.6,84.8 142.7,88 142.8,94.4 142.9,86.5 143.1,85.2 143.2,76.6 143.3,91.8 143.4,79.6 143.6,88.6 143.7,90.7 143.8,75.3 143.9,101 144.1,82.1 144.2,93.3 144.3,89.4 144.4,100.3 144.6,94.7 144.7,93.7 144.8,89.5 144.9,80.6 145.1,83.6 145.2,91.3 145.3,93.7 145.4,87 145.6,81.9 145.7,79.1 145.8,86.7 145.9,103 146.1,85.6 146.2,82.6 146.3,90.3 146.4,91.2 146.6,88.5 146.7,76.5 146.8,82 146.9,82.6 147.1,93.4 147.2,84.9 147.3,86.6 147.4,82.7 147.6,85.9 147.7,101.2 147.8,93.9 147.9,93.2 148.1,85.2 148.2,83.4 148.3,98.8 148.4,90.4 148.6,93.9 148.7,92.5 148.8,91.8 149,70.8 149.1,99.1 149.2,101.2 149.3,92.4 149.5,91.3 149.6,93.6 149.7,90.7 149.8,83.1 150,91.2 150.1,93.3 150.2,99.2 150.3,88.6 150.5,92.4 150.6,94.4 150.7,97 150.8,110.7 151,100.3 151.1,98.7 151.2,89.2 151.3,104.1 151.5,86.9 151.6,103.3 151.7,101 151.8,97.2 152,91.4 152.1,99.9 152.2,94.9 152.3,104.7 152.5,82.6 152.6,98.5 152.7,77.5 152.8,99.2 153,96.4 153.1,105.8 153.2,90.2 153.3,94.4 153.5,88.6 153.6,96.4 153.7,101 153.8,99.1 154,95.6 154.1,99.6 154.2,105.5 154.3,102.8 154.5,91.4 154.6,99.1 154.7,97.4 154.8,88 155,105.4 155.1,105.1 155.2,97.5 155.3,107.1 155.5,105.1 155.6,100.9 155.7,105.1 155.8,102.2 156,100.5 156.1,112.2 156.2,96.6 156.3,114.1 156.5,106.8 156.6,101.8 156.7,108.5 156.8,100.7 157,103.6 157.1,115.7 157.2,109.6 157.3,105.4 157.5,105.2 157.6,113.6 157.7,113.8 157.8,104.4 158,116.1 158.1,107.1 158.2,107.2 158.3,111.3 158.5,104.1 158.6,100.3 158.7,107.3 158.8,112.5 159,106.9 159.1,112.8 159.2,117.9 159.4,107.1 159.5,109 159.6,108.5 159.7,112.4 159.9,113.2 160,111 160.1,120 160.2,112.8 160.4,112.1 160.5,106.5 160.6,110.5 160.7,120.4 160.9,113.8 161,111.1 161.1,110 161.2,106.3 161.4,105.5 161.5,115.9 161.6,111.2 161.7,111.9 161.9,117.4 162,108.4 162.1,109.2 162.2,118.4 162.4,114.7 162.5,104.3 162.6,111.9 162.7,108.3 162.9,108.5 163,111.1 163.1,104.5 163.2,109 163.4,121.2 163.5,111.6 163.6,110.4 163.7,117.4 163.9,106.4 164,111.9 164.1,119.2 164.2,113.2 164.4,114.9 164.5,112.3 164.6,115.1 164.7,116.9 164.9,112.9 165,114.2 165.1,115 165.2,100.3 165.4,118.3 165.5,122.6 165.6,118 165.7,115.4 165.9,111.9 166,116.2 166.1,123.7 166.2,121.6 166.4,111.5 166.5,121.9 166.6,111.6 166.7,110.5 166.9,114.4 167,118.1 167.1,114.2 167.2,122.7 167.4,116.8 167.5,122.8 167.6,105.8 167.7,116.2 167.9,118.8 168,122.9 168.1,106.2 168.2,114.5 168.4,106.9 168.5,119.4 168.6,113.6 168.7,117.8 168.9,123.7 169,120.4 169.1,115.2 169.2,119.4 169.4,130.9 169.5,114.5 169.6,119.4 169.7,113.6 169.9,123.1 170,111.5 170.1,119.8 170.3,110.3 170.4,118.1 170.5,128.8 170.6,112.1 170.8,114.7 170.9,121.7 171,112.5 171.1,106.9 171.3,110.1 171.4,118.6 171.5,125.8 171.6,118.3 171.8,118.2 171.9,122.9 172,117.9 172.1,127.8 172.3,125 172.4,116.8 172.5,124.1 172.6,121.6 172.8,117.9 172.9,118.4 173,123.5 173.1,113 173.3,111.4 173.4,124 173.5,127.7 173.6,120.1 173.8,126.4 173.9,107.7 174,113 174.1,116.5 174.3,117.5 174.4,119.9 174.5,117 174.6,118.9 174.8,118.2 174.9,122.1 175,124.3 175.1,125.8 175.3,125.9 175.4,118.7 175.5,117.5 175.6,111.1 175.8,108.1 175.9,125.6 176,123.4 176.1,120 176.3,118.5 176.4,111.5 176.5,110 176.6,116.1 176.8,118.5 176.9,108.5 177,129.6 177.1,117.2 177.3,122.3 177.4,129.7 177.5,131.1 177.6,119.1 177.8,127.5 177.9,124.7 178,120.9 178.1,122.2 178.3,116.8 178.4,122 178.5,117.9 178.6,119.9 178.8,121.9 178.9,127.8 179,120 179.1,119.4 179.3,119.3 179.4,133.6 179.5,119.4 179.6,123.5 179.8,114.6 179.9,121.7 180,113.3 180.1,119.1 180.3,127 180.4,133.9 180.5,123.1 180.7,124.6 180.8,122.7 180.9,119 181,122.4 181.2,126.4 181.3,123 181.4,120.4 181.5,120.1 181.7,124.4 181.8,120.8 181.9,126.5 182,112.8 182.2,125.9 182.3,118.8 182.4,122.2 182.5,132.1 182.7,127.3 182.8,120.4 182.9,121 183,129.2 183.2,127.1 183.3,122.8 183.4,126.3 183.5,121.1 183.7,110.7 183.8,128 183.9,120.9 184,125.8 184.2,122.4 184.3,121.4 184.4,117.3 184.5,128.8 184.7,127.1 184.8,132.3 184.9,128.5 185,125.4 185.2,121.2 185.3,123.8 185.4,125.5 185.5,106.6 185.7,118.5 185.8,122.6 185.9,129.5 186,130 186.2,131.4 186.3,120.4 186.4,124.5 186.5,120.5 186.7,120.3 186.8,122.3 186.9,124.4 187,127.6 187.2,117.4 187.3,123.2 187.4,117.3 187.5,130.3 187.7,136 187.8,122 187.9,119.3 188,128.5 188.2,128.4 188.3,119.7 188.4,122.2 188.5,125.4 188.7,119.5 188.8,134.6 188.9,124.4 189,124.5 189.2,119 189.3,129.6 189.4,118.2 189.5,121 189.7,121.5 189.8,123.6 189.9,117.8 190,118.9 190.2,128.3 190.3,124 190.4,125.1 190.5,131 190.7,127.4 190.8,128.7 190.9,124.3 191.1,118.1 191.2,131.5 191.3,116.6 191.4,114.8 191.6,116.3 191.7,134.7 191.8,124.5 191.9,131.6 192.1,113.5 192.2,119.2 192.3,125.5 192.4,121 192.6,125 192.7,128.3 192.8,124.8 192.9,124.4 193.1,125 193.2,123.1 193.3,126.3 193.4,130.8 193.6,119.9 193.7,125.2 193.8,127.9 193.9,123.1 194.1,123.4 194.2,136.8 194.3,128.9 194.4,134.1 194.6,136.9 194.7,121.7 194.8,120.8 194.9,122.6 195.1,130 195.2,108.6 195.3,124.1 195.4,129.2 195.6,124.3 195.7,125.3 195.8,122.8 195.9,116.3 196.1,130.4 196.2,122.5 196.3,125.9 196.4,123.8 196.6,132.4 196.7,125.8 196.8,125.6 196.9,123.2 197.1,120 197.2,126.6 197.3,128.5 197.4,123.6 197.6,114 197.7,120.1 197.8,132.2 197.9,121 198.1,124.3 198.2,115 198.3,120.9 198.4,117.7 198.6,127 198.7,126.2 198.8,127.3 198.9,127.9 199.1,121.2 199.2,131 199.3,122.3 199.4,127.4 199.6,132.7 199.7,121 199.8,125 199.9,122.6 200.1,123.8 200.2,124.6 200.3,122.9 200.4,123.3 200.6,126.3 200.7,114.2 200.8,119.9 200.9,120.9 201.1,117 201.2,124.6 201.3,121 201.4,119.2 201.6,113.8 201.7,117.1 201.8,126.2 202,114.4 202.1,129.4 202.2,125.8 202.3,125.1 202.5,111.4 202.6,117.8 202.7,127.6 202.8,121.2 203,119.4 203.1,119.6 203.2,124.5 203.3,114.6 203.5,127.4 203.6,123.8 203.7,115.7 203.8,125.5 204,104.1 204.1,117.2 204.2,124.9 204.3,133.1 204.5,114.5 204.6,112.9 204.7,122.3 204.8,123 205,119.1 205.1,119 205.2,133.4 205.3,118.3 205.5,115.2 205.6,120.6 205.7,128.3 205.8,127.3 206,122.2 206.1,116.6 206.2,121.9 206.3,135.2 206.5,125 206.6,127 206.7,115.1 206.8,119.5 207,119.7 207.1,134.3 207.2,120.9 207.3,121.9 207.5,119.9 207.6,109.3 207.7,127.2 207.8,113.5 208,119.4 208.1,114.9 208.2,119.3 208.3,119.9 208.5,119.6 208.6,132 208.7,116.5 208.8,120.4 209,124.2 209.1,119.9 209.2,119.4 209.3,130.5 209.5,125.2 209.6,117.9 209.7,122.8 209.8,117.6 210,123.6 210.1,115.1 210.2,127.2 210.3,123.2 210.5,123 210.6,121.4 210.7,123 210.8,117.5 211,121.6 211.1,125.5 211.2,123.3 211.3,114.8 211.5,123.8 211.6,115.8 211.7,116.1 211.8,117.2 212,118.3 212.1,120.2 212.2,124.1 212.4,125.8 212.5,124.1 212.6,117.5 212.7,126.1 212.9,125.3 213,117.3 213.1,115.3 213.2,120 213.4,129.4 213.5,118.5 213.6,119.8 213.7,123.7 213.9,115.1 214,115.5 214.1,119.8 214.2,124.2 214.4,118.1 214.5,117.3 214.6,112.6 214.7,131.3 214.9,114.4 215,126 215.1,115 215.2,125.2 215.4,127.7 215.5,113.6 215.6,122.4 215.7,123 215.9,125.3 216,117.3 216.1,125 216.2,120 216.4,114.6 216.5,123.7 216.6,124.7 216.7,118.8 216.9,117.8 217,124.1 217.1,126.2 217.2,109.5 217.4,125.7 217.5,127.4 217.6,113.8 217.7,121.8 217.9,118 218,119.9 218.1,123 218.2,109.6 218.4,113.2 218.5,110.3 218.6,114.3 218.7,125.1 218.9,108.6 219,113.8 219.1,112.9 219.2,118.5 219.4,113.1 219.5,111.5 219.6,111.4 219.7,113.7 219.9,108.8 220,96.9 220.1,122.7 220.2,114.6 220.4,110.9 220.5,112.4 220.6,116.8 220.7,108.9 220.9,112.9 221,108.6 221.1,118.1 221.2,93.9 221.4,104.9 221.5,118.1 221.6,105.2 221.7,104.8 221.9,101.2 222,98.7 222.1,109.2 222.2,112.6 222.4,110.4 222.5,102.5 222.6,104.1 222.8,120.3 222.9,105.9 223,102.4 223.1,111 223.3,103.9 223.4,91.4 223.5,101.1 223.6,112 223.8,103.7 223.9,103.6 224,106.9 224.1,99.3 224.3,95.1 224.4,102.2 224.5,96.9 224.6,101.4 224.8,97.2 224.9,96.6 225,92.7 225.1,101.8 225.3,109.2 225.4,88.7 225.5,104.2 225.6,101.3 225.8,92 225.9,91.4 226,99.1 226.1,92.9 226.3,93.8 226.4,92.4 226.5,104.6 226.6,80.6 226.8,97 226.9,103.1 227,93.4 227.1,103.6 227.3,91.6 227.4,92 227.5,94.9 227.6,86.2 227.8,90 227.9,92.4 228,85.1 228.1,90.9 228.3,93.9 228.4,80.9 228.5,86.2 228.6,89.9 228.8,79.7 228.9,94.2 229,91.8 229.1,81.2 229.3,85.3 229.4,79.8 229.5,82.1 229.6,84.9 229.8,80.9 229.9,82.2 230,78.1 230.1,86.9 230.3,84.9 230.4,75.4 230.5,81.6 230.6,93.2 230.8,74.6 230.9,84.8 231,100.4 231.1,74.3 231.3,79.7 231.4,54.5 231.5,86.6 231.6,77.1 231.8,77.7 231.9,73.2 232,77.3 232.1,77.6 232.3,74.6 232.4,67.3 232.5,68.2 232.6,68.8 232.8,66.1 232.9,62.3 233,59 233.1,65.6 233.3,59.9 233.4,62.8 233.5,56.5 233.7,50.9 233.8,59.4 233.9,60.6 234,83.4 234.2,61 234.3,67.7 234.4,63.7 234.5,61.9 234.7,57.5 234.8,63 234.9,63.7 235,48.9 235.2,61.6 235.3,55.5 235.4,46 235.5,50.8 235.7,59.9 235.8,60.9 235.9,53.3 236,61.8 236.2,58.6 236.3,42.8 236.4,45.3 236.5,54.3 236.7,45.6 236.8,46.9 236.9,53.7 237,48.1 237.2,42.5 237.3,39.6 237.4,62.1 237.5,38.5 237.7,43 237.8,58.3 237.9,45.4 238,39.3 238.2,37.5 238.3,52.7 238.4,49.6 238.5,23.3 238.7,28.9 238.8,47.4 238.9,53.8 239,38.5 239.2,48.5 239.3,30.5 239.4,23.4 239.5,32.3 239.7,44.2 239.8,42 239.9,45.4 240,28 240.2,58.3 240.3,37.3 240.4,58.8 240.5,42.1 240.7,27.7 240.8,40.2 240.9,34.7 241,51.6 241.2,43.5 241.3,54.8 241.4,33.1 241.5,33.7 241.7,43.8 241.8,43.4 241.9,33.1 242,46.9 242.2,56.3 242.3,40.5 242.4,41.2 242.5,41.7 242.7,49.3 242.8,45.3 242.9,49.6 243,58.9 243.2,45.7 243.3,46.4 243.4,46.8 243.5,59.4 243.7,48.9 243.8,51.3 243.9,49.2 244.1,57.8 244.2,55.1 244.3,41.3 244.4,59.9 244.6,56.9 244.7,67.1 244.8,58.9 244.9,55.5 245.1,50.1 245.2,67.2 245.3,70.3 245.4,52.7 245.6,58.5 245.7,62.4 245.8,59.1 245.9,64.3 246.1,57.3 246.2,57.4 246.3,69.7 246.4,51.7 246.6,67.1 246.7,55.9 246.8,64.3 246.9,60.5 247.1,66.2 247.2,61.9 247.3,68.1 247.4,58.1 247.6,60.9 247.7,66.8 247.8,72.6 247.9,61.4 248.1,81.8 248.2,66.9 248.3,75.9 248.4,60.7 248.6,66.3 248.7,66.9 248.8,62.7 248.9,59.5 249.1,72.1 249.2,67.5 249.3,85.6 249.4,76.1 249.6,78.8 249.7,58.7 249.8,87.1 249.9,88 250.1,69.5 250.2,73.9 250.3,76.2 250.4,93.9 250.6,74.2 250.7,76.5 250.8,73.8 250.9,85.1 251.1,91.5 251.2,79.1 251.3,95.1 251.4,86.5 251.6,81.4 251.7,91.5 251.8,94.3 251.9,94.8 252.1,91 252.2,95.9 252.3,89.1 252.4,91.2 252.6,105.2 252.7,89.4 252.8,83.9 252.9,80.9 253.1,87.2 253.2,76.2 253.3,87.3 253.4,86.6 253.6,92.3 253.7,86.3 253.8,93.5 253.9,94.5 254.1,101.6 254.2,101 254.3,104.3 254.5,94.3 254.6,85.4 254.7,101.3 254.8,99.8 255,94.5 255.1,102.8 255.2,114.9 255.3,101.3 255.5,97.6 255.6,101.9 255.7,93.3 255.8,111.3 256,95.1 256.1,96.5 256.2,110.3 256.3,101.6 256.5,96.6 256.6,108.1 256.7,112.9 256.8,91.3 257,109.6 257.1,109.8 257.2,114.5 257.3,109.3 257.5,109.6 257.6,107 257.7,112.1 257.8,115.4 258,112.7 258.1,104.3 258.2,107.3 258.3,117.7 258.5,102 258.6,103.9 258.7,105.4 258.8,115.5 259,102.5 259.1,107.3 259.2,109.3 259.3,112.5 259.5,114.7 259.6,104.5 259.7,104.7 259.8,99.7 260,116.2 260.1,109.5 260.2,111.7 260.3,110.9 260.5,103.7 260.6,103 260.7,105.6 260.8,120.7 261,109.3 261.1,113.7 261.2,106.4 261.3,124 261.5,112.1 261.6,99.7 261.7,109.1 261.8,113.1 262,116.5 262.1,109.9 262.2,116.7 262.3,113.1 262.5,112.8 262.6,109.8 262.7,113.7 262.8,120.2 263,111.9 263.1,110.3 263.2,125.5 263.3,117.2 263.5,115.2 263.6,105.1 263.7,117.4 263.8,100.3 264,118 264.1,113.8 264.2,108.7 264.3,107.2 264.5,113.1 264.6,110.5 264.7,104.1 264.8,117.6 265,105.1 265.1,111.6 265.2,110.2 265.4,120 265.5,105.2 265.6,120 265.7,114.8 265.9,98.6 266,105.8 266.1,109.3 266.2,107.6 266.4,114.3 266.5,116.9 266.6,117.7 266.7,107.3 266.9,116.6 267,111 267.1,116.5 267.2,112.3 267.4,112.7 267.5,110.3 267.6,115.2 267.7,113.6 267.9,105.6 268,97.3 268.1,117.6 268.2,118.5 268.4,112.4 268.5,121.6 268.6,112.6 268.7,112.3 268.9,110.8 269,119 269.1,126.2 269.2,111.8 269.4,109.6 269.5,117.7 269.6,116.8 269.7,115.4 269.9,101.6 270,113.5 270.1,112.8 270.2,109.6 270.4,113.7 270.5,110.5 270.6,114.1 270.7,110.8 270.9,108.5 271,118.6 271.1,109.9 271.2,114.5 271.4,114.1 271.5,104.6 271.6,108 271.7,104.3 271.9,107.4 272,99.1 272.1,114.4 272.2,107.3 272.4,100.9 272.5,109 272.6,98.7 272.7,98.8 272.9,107.7 273,105.7 273.1,99.4 273.2,108.2 273.4,106.6 273.5,104.8 273.6,108.8 273.7,105.7 273.9,112.8 274,104.4 274.1,104.1 274.2,87.7 274.4,100 274.5,111.2 274.6,98.3 274.7,100.2 274.9,97.2 275,91.1 275.1,105 275.2,109.7 275.4,108.3 275.5,98.3 275.6,94.7 275.8,96.3 275.9,101.6 276,96.7 276.1,102.7 276.3,100.9 276.4,92 276.5,92.4 276.6,102.6 276.8,105.1 276.9,98.4 277,110.1 277.1,97.8 277.3,95.9 277.4,98 277.5,102.7 277.6,79.9 277.8,99.5 277.9,99.6 278,93.9 278.1,93.9 278.3,104.8 278.4,96 278.5,96.9 278.6,103.3 278.8,92.2 278.9,111.5 279,94.9 279.1,95.5 279.3,91.4 279.4,95.7 279.5,94 279.6,95.4 279.8,93.4 279.9,86.8 280,108.8 280.1,103.3 280.3,102.9 280.4,102.4 280.5,104.5 280.6,96.2 280.8,114.7 280.9,96.9 281,93.9 281.1,110.7 281.3,98.3 281.4,100.7 281.5,95.4 281.6,98.7 281.8,103.3 281.9,102.6 282,94.8 282.1,107.2 282.3,97.4 282.4,93.5 282.5,108.8 282.6,103.4 282.8,100.1 282.9,96 283,108.2 283.1,100.3 283.3,98.9 283.4,105.4 283.5,104.2 283.6,96.8 283.8,112.9 283.9,94.8 284,99.3 284.1,105.3 284.3,103.2 284.4,107.8 284.5,108.5 284.6,92.2 284.8,110.9 284.9,101.9 285,104.6 285.1,98.9 285.3,99.5 285.4,108.3 285.5,107.7 285.6,106.8 285.8,102.5 285.9,113.8 286,108.1 286.2,111 286.3,107.2 286.4,109.3 286.5,116.2 286.7,112.7 286.8,113.4 286.9,109.2 287,109.6 287.2,103.2 287.3,108.3 287.4,105.4 287.5,105.9 287.7,110.3 287.8,111 287.9,107.6 288,98.8 288.2,109.9 288.3,112.1 288.4,114 288.5,108.6 288.7,107 288.8,100.2 288.9,113.9 289,110.1 289.2,117.5 289.3,108.5 289.4,125.1 289.5,115.1 289.7,114.8 289.8,117.4 289.9,122.2 290,121.2 290.2,104.8 290.3,115.7 290.4,120.7 290.5,121.7 290.7,121 290.8,115.8 290.9,122.1 291,119.3 291.2,121 291.3,126.8 291.4,121 291.5,124.1 291.7,128.9 291.8,127.2 291.9,117.5 292,118.6 292.2,110 292.3,128.6 292.4,123.5 292.5,120.9 292.7,124.2 292.8,119.9 292.9,127.8 293,119.6 293.2,129.7 293.3,127.1 293.4,125.8 293.5,130.2 293.7,125.6 293.8,126.7 293.9,132.3 294,134.5 294.2,129.9 294.3,133.8 294.4,121.2 294.5,129.1 294.7,128.3 294.8,126.6 294.9,131.1 295,137.2 295.2,131.4 295.3,134.2 295.4,135.5 295.5,135.5 295.7,130.7 295.8,127.8 295.9,135.3 296,136.5 296.2,129 296.3,141.7 296.4,127.9 296.5,123.8 296.7,131.5 296.8,126.5 296.9,131.5 297.1,132 297.2,130.1 297.3,133 297.4,124.9 297.6,123.7 297.7,138.5 297.8,137.2 297.9,139.1 298.1,131.3 298.2,135.8 298.3,132.1 298.4,139.1 298.6,127.1 298.7,136.5 298.8,132 298.9,137.8 299.1,135.4 299.2,128.1 299.3,133.6 299.4,129.6 299.6,137.6 299.7,141.3 299.8,128.8 299.9,137.9 300.1,132.3 300.2,134.5 300.3,137.3 300.4,144.4 300.6,138.8 300.7,141.2 300.8,134.4 300.9,136.6 301.1,141.4 301.2,138.8 301.3,138.5 301.4,139.5 301.6,144.6 301.7,143.6 301.8,144 301.9,140 302.1,135.6 302.2,134.1 302.3,139.4 302.4,133.1 302.6,131.5 302.7,138 302.8,152.9 302.9,139.5 303.1,140.1 303.2,139.4 303.3,140.4 303.4,134.7 303.6,141 303.7,143.1 303.8,141.2 303.9,141.4 304.1,140.5 304.2,143.2 304.3,133.8 304.4,132.9 304.6,138.8 304.7,140.6 304.8,143.2 304.9,138 305.1,141.6 305.2,140.9 305.3,145.5 305.4,138.5 305.6,143.6 305.7,144.2 305.8,140.3 305.9,140.8 306.1,139.7 306.2,138.8 306.3,139.2 306.4,137.5 306.6,146.1 306.7,143.4 306.8,141.4 306.9,142.3 307.1,142.1 307.2,151 307.3,145.5 307.5,140.9 307.6,144.8 307.7,136 307.8,140.4 308,138 308.1,143.6 308.2,140.4 308.3,139.5 308.5,139.8 308.6,137.2 308.7,137.6 308.8,139 309,145 309.1,143.8 309.2,145.7 309.3,149.2 309.5,146.4 309.6,132.4 309.7,140.6 309.8,152 310,143.7 310.1,144.5 310.2,144.5 310.3,138 310.5,144.8 310.6,142.7 310.7,139.6 310.8,144.7 311,149.8 311.1,142.7 311.2,138.6 311.3,143 311.5,140.1 311.6,134.4 311.7,141.7 311.8,145.8 312,138.1 312.1,143.1 312.2,143.1 312.3,141.9 312.5,142.2 312.6,141.9 312.7,142.7 312.8,143.2 313,146.7 313.1,141.9 313.2,140.7 313.3,145.7 313.5,141.3 313.6,156.2 313.7,143 313.8,155.4 314,144.9 314.1,145.1 314.2,147.4 314.3,145.6 314.5,143.6 314.6,142.8 314.7,140.7 314.8,140.6 315,147.3 315.1,135.2 315.2,150.6 315.3,147.7 315.5,143.1 315.6,150.7 315.7,151.3 315.8,148.5 316,135.3 316.1,136.9 316.2,146.8 316.3,137.5 316.5,145.9 316.6,142.9 316.7,146.6 316.8,143.2 317,144.4 317.1,134.7 317.2,144.3 317.3,141.2 317.5,148.4 317.6,140.5 317.7,146.2 317.8,146.7 318,144 318.1,141.5 318.2,145.1 318.4,144.1 318.5,147.5 318.6,139.2 318.7,140.3 318.9,148.5 319,145.9 319.1,149 319.2,152.3 319.4,137.8 319.5,146 319.6,145.3 319.7,145 319.9,150 320,155.7 320.1,144.1 320.2,143.9 320.4,147.2 320.5,147.6 320.6,144 320.7,148 320.9,152.5 321,142.9 321.1,149.6 321.2,142 321.4,149.7 321.5,141.6 321.6,141.8 321.7,136.9 321.9,143.8 322,144.5 322.1,143.9 322.2,143.6 322.4,144 322.5,143.1 322.6,142.6 322.7,145.6 322.9,142.9 323,145.7 323.1,138.6 323.2,137.2 323.4,147.9 323.5,142.1 323.6,145.4 323.7,141.3 323.9,136.3 324,137.1 324.1,141.8 324.2,149.9 324.4,140.8 324.5,146 324.6,143.7 324.7,145.5 324.9,140.6 325,151.1 325.1,145.9 325.2,143.5 325.4,148.1 325.5,139.5 325.6,142.5 325.7,146.5 325.9,151 326,143.4 326.1,152 326.2,149.6 326.4,142 326.5,147.2 326.6,149.5 326.7,141.8 326.9,150.9 327,136.3 327.1,150.5 327.2,149.6 327.4,154.7 327.5,150.1 327.6,146.5 327.7,139.6 327.9,152 328,147.9 328.1,150.2 328.2,143.4 328.4,137.3 328.5,147.4 328.6,142.3 328.8,145.5 328.9,147.7 329,138 329.1,147.3 329.3,142.8 329.4,142.2 329.5,148.4 329.6,140.2 329.8,143.5 329.9,144.1 330,149.4 330.1,145.3 330.3,149.3 330.4,139.2 330.5,140.1 330.6,145.1 330.8,154.4 330.9,147.6 331,144.1 331.1,141.9 331.3,150.7 331.4,148 331.5,137.3 331.6,134.3 331.8,152.9 331.9,146.3 332,145.8 332.1,147.6 332.3,145.1 332.4,145.2 332.5,145.5 332.6,138.4 332.8,144.5 332.9,144 333,149.7 333.1,149.4 333.3,144.4 333.4,145.3 333.5,146.1 333.6,153.1 333.8,149.8 333.9,143.4 334,151.2 334.1,140.3 334.3,152.1 334.4,146.2 334.5,141.5 334.6,144.3 334.8,145.2 334.9,151.8 335,150.7 335.1,135.7 335.3,142.9 335.4,151.9 335.5,148.6 335.6,147.8 335.8,148.4 335.9,148.8 336,150.8 336.1,144.5 336.3,137.7 336.4,148.5 336.5,143.6 336.6,139.8 336.8,146.2 336.9,143.2 337,145.7 337.1,138.4 337.3,147.9 337.4,145.8 337.5,146.7 337.6,143.3 337.8,143 337.9,149.5 338,149.4 338.1,145.1 338.3,141.6 338.4,148.7 338.5,144.2 338.6,149.1 338.8,143.5 338.9,146.7 339,147.9 339.2,144 339.3,148 339.4,138.1 339.5,150.9 339.7,143.5 339.8,144.5 339.9,145.4 340,144.8 340.2,143.5 340.3,146.9 340.4,142.3 340.5,145 340.7,146.8 340.8,145.4 340.9,143.2 341,150.4 341.2,153.3 341.3,143.9 341.4,149.3 341.5,141.9 341.7,145.2 341.8,142.2 341.9,144 342,141.7 342.2,145.8 342.3,145 342.4,154.1 342.5,143 342.7,148.5 342.8,150.7 342.9,139.8 343,140 343.2,149.4 343.3,142 343.4,144.3 343.5,136.6 343.7,140 343.8,145.4 343.9,152.4 344,153.7 344.2,144.1 344.3,154.4 344.4,146.4 344.5,145.5 344.7,145.6 344.8,145.5 344.9,140.9 345,146.1 345.2,142.3 345.3,147.7 345.4,156.3 345.5,138.9 345.7,152.5 345.8,142.4 345.9,145.2 346,150.2 346.2,149.2 346.3,150.8 346.4,151.4 346.5,145.5 346.7,144.6 346.8,148.8 346.9,149.2 347,152.8 347.2,138.7 347.3,150.3 347.4,148.4 347.5,144.8 347.7,141.8 347.8,143.7 347.9,143.7 348,152.5 348.2,146.7 348.3,145.6 348.4,146.8 348.5,148.7 348.7,149.4 348.8,146.6 348.9,145.9 349,142.1 349.2,146.5 349.3,145.7 349.4,144.4 349.5,145.5 349.7,153.6 349.8,151 349.9,148.1 350.1,151 350.2,147.2 350.3,153.1 350.4,146.6 350.6,152 350.7,148.7 350.8,144.9 350.9,139.9 351.1,147.4 351.2,147.2 351.3,142.7 351.4,145.9 351.6,144.5 351.7,147.7 351.8,139.4 351.9,146.7 352.1,153.7 352.2,150.3 352.3,146.6 352.4,152.3 352.6,145.4 352.7,149.8 352.8,147.9 352.9,145.2 353.1,148.6 353.2,160 353.3,143.6 353.4,141.7 353.6,153 353.7,143 353.8,146 353.9,145.1 354.1,144.1 354.2,149.4 354.3,143.1 354.4,140.8 354.6,145.3 354.7,149.8 354.8,152 354.9,146.5 355.1,151.9 355.2,151.8 355.3,149.4 355.4,149.9 355.6,146.1 355.7,140.9 355.8,151.1 355.9,142.7 356.1,148.9 356.2,142.1 356.3,142.5 356.4,146.4 356.6,142.2 356.7,147.1 356.8,145.6 356.9,145.5 357.1,152.4 357.2,149.8 357.3,145.9 357.4,151.3 357.6,149 357.7,145.6 357.8,139.1 357.9,142.6 358.1,154 358.2,147 358.3,148.9 358.4,153.1 358.6,144.2 358.7,150.8 358.8,137.5 358.9,140.9 359.1,138.8 359.2,146.7 359.3,146.9 359.4,142.6 359.6,144.4 359.7,157.6 359.8,148.3 359.9,148.8 360.1,141.7 360.2,143.9 360.3,147.6 360.5,144.9 360.6,146.2 360.7,145.8 360.8,136.9 361,148.8 361.1,148 361.2,148.9 361.3,149.4 361.5,153.5 361.6,145.4 361.7,147.9 361.8,151.8 362,144.6 362.1,151 362.2,144 362.3,145.2 362.5,140.6 362.6,145.9 362.7,158.5 362.8,153.6 363,147.1 363.1,148.7 363.2,153.3 363.3,142.9 363.5,145.3 363.6,146.1 363.7,139.9 363.8,143.9 364,144.5 364.1,145.5 364.2,145.9 364.3,133.7 364.5,149.1 364.6,144.8 364.7,148.4 364.8,149.9 365,146 365.1,153.2 365.2,140.3 365.3,146.4 365.5,146.9 365.6,151.9 365.7,146.2 365.8,149.5 366,147.2 366.1,154.1 366.2,145.3 366.3,141.3 366.5,144.7 366.6,148 366.7,151.8 366.8,137.8 367,141.7 367.1,151.7 367.2,144.9 367.3,143.7 367.5,144.7 367.6,143.1 367.7,140.1 367.8,146.7 368,141.8 368.1,156.1 368.2,137.1 368.3,148.3 368.5,143.7 368.6,152.6 368.7,142.6 368.8,148.2 369,152.4 369.1,148.4 369.2,143.9 369.3,145.1 369.5,147.2 369.6,151.7 369.7,146.8 369.8,148.5 370,142.1 370.1,146.4 370.2,150.8 370.3,145.1 370.5,143.2 370.6,143.8 370.7,150.4 370.9,148 371,147.6 371.1,143.4 371.2,135.8 371.4,152 371.5,144.4 371.6,149.2 371.7,148.8 371.9,143.8 372,139.5 372.1,149.4 372.2,138 372.4,137.2 372.5,151.7 372.6,142.8 372.7,146.7 372.9,149.8 373,153.6 373.1,139.8 373.2,145.1 373.4,150.8 373.5,145.7 373.6,141 373.7,149.2 373.9,139.3 374,149.3 374.1,145.5 374.2,145.6 374.4,143 374.5,144 374.6,149.5 374.7,146.5 374.9,149.7 375,147.7 375.1,144 375.2,143.7 375.4,145.6 375.5,143.7 375.6,150.6 375.7,141 375.9,155.1 376,141.1 376.1,142 376.2,145.2 376.4,140.4 376.5,151.5 376.6,154.6 376.7,153.3 376.9,151.8 377,149.9 377.1,138.3 377.2,147.7 377.4,142.4 377.5,149.9 377.6,144 377.7,143.4 377.9,141.6 378,147.2 378.1,151.2 378.2,138.5 378.4,146.4 378.5,147.4 378.6,144.5 378.7,143.6 378.9,149.3 379,149.8 379.1,147.6 379.2,147.5 379.4,147.7 379.5,142.6 379.6,144.2 379.7,144.9 379.9,141.2 380,147.7 380.1,151.8 380.2,152.3 380.4,143.1 380.5,141.7 380.6,141.5 380.7,148.3 380.9,144.2 381,148.8 381.1,137.9 381.2,145 381.4,142.1 381.5,145.3 381.6,143.4 381.8,137.2 381.9,148.8 382,144.3 382.1,144.9 382.3,143.3 382.4,140.4 382.5,144 382.6,148.2 382.8,150.1 382.9,144.5 383,141.6 383.1,150.3 383.3,142.8 383.4,142.6 383.5,143.4 383.6,145.7 383.8,136 383.9,143.6 384,142.7 384.1,141.4 384.3,152.7 384.4,136.9 384.5,142.7 384.6,143.8 384.8,143.8 384.9,148.3 385,134.6 385.1,140.3 385.3,139 385.4,133.8 385.5,138.5 385.6,144.4 385.8,141 385.9,149.4 386,132.7 386.1,143.6 386.3,142.9 386.4,142.1 386.5,144 386.6,140.5 386.8,143.3 386.9,139.7 387,139.4 387.1,135.6 387.3,139.4 387.4,143.7 387.5,139 387.6,145 387.8,140 387.9,140.6 388,145.5 388.1,136 388.3,140 388.4,143.8 388.5,142.4 388.6,141.6 388.8,145.4 388.9,138.2 389,140.3 389.1,146.6 389.3,135.2 389.4,142.9 389.5,141.8 389.6,140.7 389.8,141 389.9,136 390,139.7 390.1,138.6 390.3,140.4 390.4,139.5 390.5,149.9 390.6,142.6 390.8,146.9 390.9,142.4 391,140.1 391.1,142.9 391.3,143.4 391.4,135 391.5,132.2 391.6,129.4 391.8,140.8 391.9,135.8 392,136 392.2,138 392.3,140.6 392.4,135.8 392.5,134.1 392.7,134.2 392.8,141.7 392.9,135.9 393,140.6 393.2,140.8 393.3,135.6 393.4,133.3 393.5,129 393.7,134.3 393.8,132.2 393.9,136.9 394,128.1 394.2,136.6 394.3,134.2 394.4,138.8 394.5,131.3 394.7,136.1 394.8,139.8 394.9,128.9 395,136.5 395.2,132.8 395.3,131.2 395.4,125.5 395.5,134.9 395.7,132.1 395.8,132.9 395.9,138.8 396,122 396.2,137.5 396.3,147.9 396.4,133.2 396.5,132 396.7,133 396.8,136.9 396.9,148.4 397,129.7 397.2,120.6 397.3,134 397.4,132 397.5,131.8 397.7,131.4 397.8,123.3 397.9,133.3 398,129 398.2,132.9 398.3,129.6 398.4,127.8 398.5,123.9 398.7,136.9 398.8,130.4 398.9,133 399,140.5 399.2,133.7 399.3,131.5 399.4,120.8 399.5,137.4 399.7,133.7 399.8,122.7 399.9,123.4 400,131.2 400.2,128.8 400.3,135.3 400.4,120.6 400.5,128.8 400.7,132.9 400.8,130.7 400.9,120.6 401,122.5 401.2,126.4 401.3,141.9 401.4,124.7 401.5,126.1 401.7,131.5 401.8,129.7 401.9,136.4 402,123 402.2,124.6 402.3,130.7 402.4,126.2 402.6,127 402.7,122.6 402.8,121.6 402.9,123.4 403.1,123.9 403.2,123.5 403.3,125 403.4,124.8 403.6,133.1 403.7,133.6 403.8,124.6 403.9,132.6 404.1,127.9 404.2,116.2 404.3,126.8 404.4,119.5 404.6,132.6 404.7,121.9 404.8,132.1 404.9,131.4 405.1,123.2 405.2,121.1 405.3,129.7 405.4,121.4 405.6,124.4 405.7,129.2 405.8,124.5 405.9,128 406.1,133.2 406.2,126.4 406.3,129.4 406.4,122.4 406.6,113.4 406.7,125.8 406.8,124.9 406.9,128.3 407.1,125 407.2,122.2 407.3,122.3 407.4,125.3 407.6,121.1 407.7,115.8 407.8,126.5 407.9,124.8 408.1,127.4 408.2,121.4 408.3,124 408.4,121.1 408.6,123.4 408.7,128.7 408.8,132.5 408.9,124.1 409.1,127.2 409.2,122.3 409.3,115.8 409.4,121.7 409.6,124.6 409.7,124.3 409.8,122.3 409.9,126.5 410.1,130.7 410.2,123.7 410.3,127.7 410.4,128.5 410.6,130.4 410.7,130.5 410.8,130.6 410.9,126.8 411.1,118.2 411.2,122.1 411.3,124.9 411.4,122.8 411.6,122 411.7,126.3 411.8,127.1 411.9,125.6 412.1,129.6 412.2,135.6 412.3,123.5 412.4,125.5 412.6,123 412.7,132.7 412.8,133.6 412.9,119.7 413.1,130.3 413.2,122.7 413.3,130.2 413.5,128.8 413.6,129.1 413.7,121.7 413.8,130.3 414,130 414.1,134.8 414.2,130 414.3,129.3 414.5,126.9 414.6,132.1 414.7,133.4 414.8,133.2 415,134 415.1,129.7 415.2,124.8 415.3,131.2 415.5,136.7 415.6,138.8 415.7,126.8 415.8,139.6 416,140 416.1,136.7 416.2,127.6 416.3,134.5 416.5,137.8 416.6,140.9 416.7,130.4 416.8,131.2 417,139.9 417.1,139.7 417.2,136.2 417.3,129.7 417.5,130.3 417.6,134.1 417.7,136.1 417.8,139 418,130.5 418.1,127.2 418.2,138 418.3,133.4 418.5,133.3 418.6,137.8 418.7,125.3 418.8,134.1 419,132.9 419.1,136.2 419.2,134.3 419.3,137.3 419.5,129.6 419.6,133.1 419.7,129.6 419.8,139.2 420,140.1 420.1,135.5 420.2,139.6 420.3,134.5 420.5,132.9 420.6,140.9 420.7,135.2 420.8,141.1 421,145.3 421.1,128.9 421.2,139.6 421.3,134.8 421.5,137.8 421.6,122.3 421.7,140.1 421.8,131.3 422,137.7 422.1,138.4 422.2,140 422.3,136.9 422.5,138.2 422.6,135.9 422.7,131.2 422.8,134.8 423,135.4 423.1,136.1 423.2,138.1 423.3,138.5 423.5,144.1 423.6,149.7 423.7,133.8 423.9,138.5 424,139.7 424.1,137.1 424.2,140.8 424.4,129.5 424.5,141 424.6,137.3 424.7,127.4 424.9,137.6 425,146.2 425.1,138.2 425.2,146.9 425.4,147.5 425.5,140.2 425.6,138 425.7,142 425.9,148.1 426,146.4 426.1,140.9 426.2,134.6 426.4,148.9 426.5,132.8 426.6,139.1 426.7,140.3 426.9,142 427,136.7 427.1,140.8 427.2,143.8 427.4,140.6 427.5,137.3 427.6,143.6 427.7,141.3 427.9,137 428,138.1 428.1,152.2 428.2,140.3 428.4,143.2 428.5,139.3 428.6,140.7 428.7,141.2 428.9,139.5 429,144.4 429.1,145.6 429.2,144.8 429.4,140.2 429.5,139.4 429.6,134.3 429.7,146.1 429.9,140.3 430,137.5 430.1,135.6 430.2,145.3 430.4,140.8 430.5,145.3 430.6,143.2 430.7,148.2 430.9,143.6 431,131.9 431.1,147.9 431.2,135.4 431.4,148.6 431.5,143.5 431.6,140.1 431.7,141.2 431.9,140.1 432,144.6 432.1,146.4 432.2,138.4 432.4,136.5 432.5,148.4 432.6,145 432.7,138.7 432.9,147.5 433,148.3 433.1,145.7 433.2,147.1 433.4,141 433.5,133 433.6,146.9 433.7,141.2 433.9,151.8 434,142.1 434.1,147.9 434.3,141.6 434.4,139.1 434.5,142.7 434.6,152.7 434.8,144.9 434.9,137.4 435,151.1 435.1,149.5 435.3,142 435.4,145.6 435.5,145.2 435.6,140.9 435.8,145.7 435.9,136.4 436,146.9 436.1,151.5 436.3,142.5 436.4,148.2 436.5,148.7 436.6,148 436.8,151.4 436.9,146 437,141.8 437.1,149.1 437.3,148.2 437.4,138.3 437.5,146.6 437.6,143.6 437.8,145.1 437.9,146.9 438,155.6 438.1,149.2 438.3,144.3 438.4,143.7 438.5,148.2 438.6,148.5 438.8,162.8 438.9,143.6 439,145.1 439.1,150.9 439.3,146.1 439.4,148.1 439.5,141.5 439.6,141.5 439.8,150.2 439.9,142 440,150.6 440.1,145.2 440.3,149.1 440.4,154.9 440.5,145.1 440.6,145.2 440.8,152.4 440.9,148.3 441,147.8 441.1,151.7 441.3,144.9 441.4,148.4 441.5,141.5 441.6,143.8 441.8,152.5 441.9,155.7 442,150 442.1,143.6 442.3,148.3 442.4,150.2 442.5,149 442.6,153.4 442.8,146.2 442.9,151.1 443,148 443.1,149.1 443.3,148.2 443.4,151.3 443.5,145.1 443.6,148.5 443.8,151.6 443.9,154.6 444,153.7 444.1,150.5 444.3,156.3 444.4,154.5 444.5,149.5 444.6,157.1 444.8,155.6 444.9,148.5 445,149.5 445.2,148.5 445.3,149.8 445.4,151.5 445.5,151.3 445.7,148.9 445.8,153.2 445.9,157.2 446,153.7 446.2,154.2 446.3,148.7 446.4,149.5 446.5,156.6 446.7,150.8 446.8,147.9 446.9,154 447,156.7 447.2,145.4 447.3,160 447.4,145.4 447.5,153.9 447.7,151.1 447.8,148.7 447.9,145.7 448,145.3 448.2,144.1 448.3,148.9 448.4,156.6 448.5,149.6 448.7,161.8 448.8,150.1 448.9,148.5 449,151 449.2,160.2 449.3,148.4 449.4,151 449.5,154.7 449.7,149.3 449.8,153.9 449.9,150.5 450,150 450.2,150.6 450.3,150.2 450.4,153.7 450.5,142.4 450.7,146.5 450.8,148.4 450.9,145.5 451,145.7 451.2,146.6 451.3,150.2 451.4,141.5 451.5,149.8 451.7,147.2 451.8,154.5 451.9,145.1 452,144.8 452.2,142 452.3,146.6 452.4,147.4 452.5,152.7 452.7,145.9 452.8,149.2 452.9,149.9 453,153.3 453.2,145.3 453.3,147.4 453.4,150.2 453.5,157.6 453.7,147.8 453.8,145.9 453.9,152.7 454,150.3 454.2,150 454.3,156.5 454.4,145.7 454.5,152.6 454.7,156.7 454.8,147.2 454.9,162.3 455,152.3 455.2,150.9 455.3,154.9 455.4,150.4 455.6,140.6 455.7,150.5 455.8,148.9 455.9,141.3 456.1,151.9 456.2,147.4 456.3,146.1 456.4,157.1 456.6,155.5 456.7,157.7 456.8,155.5 456.9,144.3 457.1,159.3 457.2,145.2 457.3,145.1 457.4,150.7 457.6,146.7 457.7,154.8 457.8,147.3 457.9,152.1 458.1,148.4 458.2,145.6 458.3,147.3 458.4,145.8 458.6,148.7 458.7,147.5 458.8,151.1 458.9,146.9 459.1,148.9 459.2,153.7 459.3,149.5 459.4,157.8 459.6,148 459.7,149.3 459.8,149.6 459.9,151.6 460.1,151.7 460.2,147.1 460.3,146.4 460.4,145.6 460.6,147 460.7,141.2 460.8,139.8 460.9,142.4 461.1,151.8 461.2,147.4 461.3,150.2 461.4,145.5 461.6,148.1 461.7,141.5 461.8,138.9 461.9,145 462.1,144 462.2,142.2 462.3,137.7 462.4,147.8 462.6,148.4 462.7,147.4 462.8,149.3 462.9,142.1 463.1,148.5 463.2,144.8 463.3,143.1 463.4,145 463.6,141.2 463.7,143.4 463.8,144.5 463.9,137.9 464.1,153 464.2,147.9 464.3,148.8 464.4,154 464.6,147.9 464.7,146.2 464.8,150 464.9,141.9 465.1,138.6 465.2,149 465.3,142.6 465.4,147.2 465.6,145.7 465.7,140.6 465.8,142.8 465.9,138.8 466.1,143.2 466.2,142.2 466.3,145.8 466.5,149.8 466.6,143.6 466.7,141.4 466.8,142.8 467,141.9 467.1,140.4 467.2,143.5 467.3,137.7 467.5,137 467.6,142.7 467.7,147.3 467.8,143.6 468,140.5 468.1,145.7 468.2,142.6 468.3,147.9 468.5,143.1 468.6,141 468.7,136.4 468.8,145.8 469,144.6 469.1,146 469.2,138.5 469.3,134.2 469.5,145.7 469.6,140.3 469.7,125.8 469.8,142.7 470,135.2 470.1,148.4 470.2,144.1 470.3,132.2 470.5,141 470.6,139.6 470.7,143.2 470.8,134.7 471,133.8 471.1,142.7 471.2,131.4 471.3,138.4 471.5,140.6 471.6,141.6 471.7,140.7 471.8,147.5 472,143.1 472.1,137.7 472.2,137.6 472.3,133.6 472.5,138.7 472.6,150.7 472.7,140.4 472.8,137.1 473,132.7 473.1,127.4 473.2,136.8 473.3,132.3 473.5,139.1 473.6,129.9 473.7,139.5 473.8,135 474,133.8 474.1,137.3 474.2,134.1 474.3,135.7 474.5,132.7 474.6,137.4 474.7,128.6 474.8,134.6 475,137.3 475.1,140.3 475.2,138.2 475.3,142.7 475.5,135.5 475.6,144.7 475.7,130.9 475.8,121.3 476,120.1 476.1,126 476.2,133.4 476.3,122.6 476.5,127.2 476.6,135.8 476.7,125.5 476.9,132.9 477,136.1 477.1,137.2 477.2,133.1 477.4,126.3 477.5,127.8 477.6,140.8 477.7,138.1 477.9,129.6 478,134.8 478.1,135.9 478.2,129.5 478.4,137.4 478.5,124.8 478.6,134.2 478.7,132.8 478.9,129.5 479,127.6 479.1,139.8 479.2,126.3 479.4,125.7 479.5,123.4 479.6,128.2 479.7,127.8 479.9,125.4 480,133.4 480.1,129.4 480.2,130.9 480.4,122.4 480.5,126.8 480.6,134.6 480.7,132.3 480.9,129.7 481,132.5 481.1,132.3 481.2,128.6 481.4,129.9 481.5,129.1 481.6,125.2 481.7,138.5 481.9,137.1 482,127.8 482.1,126.3 482.2,136.5 482.4,128.2 482.5,130.1 482.6,128 482.7,126.6 482.9,124.3 483,129.1 483.1,115.9 483.2,132.7 483.4,135.6 483.5,124.2 483.6,123.4 483.7,138.4 483.9,124.1 484,122.3 484.1,131.2 484.2,117.3 484.4,110.6 484.5,124.6 484.6,120.9 484.7,120.7 484.9,119.2 485,121.2 485.1,122.5 485.2,108.4 485.4,127.1 485.5,122.1 485.6,121.8 485.7,122 485.9,126.9 486,125.5 486.1,138.5 486.2,113.5 486.4,126.7 486.5,127.3 486.6,110 486.7,125.3 486.9,122.2 487,122.1 487.1,122.6 487.3,124.3 487.4,120.8 487.5,119.3 487.6,126.7 487.8,122.4 487.9,128.3 488,140.8 488.1,116.2 488.3,116.2 488.4,119.1 488.5,121.8 488.6,129.7 488.8,125.4 488.9,127.1 489,130.7 489.1,113.3 489.3,120.6 489.4,119.1 489.5,125.2 489.6,117.6 489.8,129.5 489.9,120 490,118.8 490.1,117.6 490.3,113.3 490.4,122.1 490.5,119.7 490.6,123.7 490.8,119.1 490.9,124.4 491,123.4 491.1,127.3 491.3,127.6 491.4,120.1 491.5,128.1 491.6,120.1 491.8,118.7 491.9,126.6 492,117.2 492.1,118.2 492.3,116.1 492.4,116.3 492.5,124.3 492.6,118.9 492.8,134.6 492.9,129.6 493,124.7 493.1,118.7 493.3,123.2 493.4,121.7 493.5,131.2 493.6,115.1 493.8,122.5 493.9,124.2 494,125.5 494.1,128.6 494.3,122.2 494.4,126.7 494.5,118.9 494.6,129.1 494.8,126.8 494.9,123.8 495,132 495.1,119.7 495.3,113.2 495.4,126.9 495.5,125.2 495.6,122.6 495.8,120.4 495.9,128.2 496,129 496.1,119.1 496.3,119.3 496.4,128.5 496.5,118.3 496.6,131.2 496.8,132 496.9,122.1 497,136.1 497.1,125 497.3,125.7 497.4,125.7 497.5,128.4 497.6,130.2 497.8,128.2 497.9,123.8 498,125.6 498.2,120.4 498.3,122.8 498.4,128 498.5,127.4 498.7,125.1 498.8,129.2 498.9,124.6 499,127.7 499.2,128.4 499.3,132.4 499.4,132.6 499.5,124.1 499.7,126.8 499.8,121.1 499.9,137.2 500,114.9 500.2,128.7 500.3,122.5 500.4,129.4 500.5,130.3 500.7,132 500.8,127 500.9,132.7 501,126.9 501.2,126 501.3,126.7 501.4,127 501.5,137.4 501.7,136.2 501.8,133.3 501.9,122.3 502,130.5 502.2,133.7 502.3,119.7 502.4,137.5 502.5,124.3 502.7,131.4 502.8,132.7 502.9,131.3 503,131.8 503.2,134 503.3,137 503.4,138.6 503.5,138.1 503.7,133.1 503.8,119.8 503.9,125.6 504,130.9 504.2,137.1 504.3,138 504.4,130.8 504.5,130.6 504.7,133.9 504.8,134.9 504.9,136.6 505,137 505.2,133.2 505.3,118.4 505.4,132.5 505.5,122.2 505.7,133.8 505.8,145.6 505.9,142.5 506,137.1 506.2,144.1 506.3,130.8 506.4,136.9 506.5,137.5 506.7,132.6 506.8,131.9 506.9,138.5 507,136.8 507.2,132.3 507.3,135.5 507.4,140.3 507.5,134.9 507.7,133.3 507.8,138 507.9,136 508,137.1 508.2,129.4 508.3,136.5 508.4,134.6 508.6,131.2 508.7,143.3 508.8,137.8 508.9,138.3 509.1,140.9 509.2,143.1 509.3,143.9 509.4,134.9 509.6,138.6 509.7,135.4 509.8,137 509.9,140.4 510.1,142.8 510.2,133.9 510.3,141.3 510.4,139.8 510.6,134.3 510.7,150.1 510.8,138.1 510.9,143.4 511.1,138.5 511.2,140.3 511.3,142.4 511.4,139.2 511.6,139.1 511.7,146.8 511.8,146 511.9,154.5 512.1,141.3 512.2,132.4 512.3,130.8 512.4,142.9 512.6,135.7 512.7,134.1 512.8,144.4 512.9,133.5 513.1,133.5 513.2,140.7 513.3,144.9 513.4,143.4 513.6,135.8 513.7,143.4 513.8,136.4 513.9,142.4 514.1,128.5 514.2,135.6 514.3,142.2 514.4,140.2 514.6,142.4 514.7,125.7 514.8,146.5 514.9,144.5 515.1,153.9 515.2,139.1 515.3,145 515.4,143.8 515.6,140.7 515.7,143.6 515.8,142.3 515.9,144.4 516.1,141.1 516.2,142.4 516.3,139 516.4,140.4 516.6,142.9 516.7,143.4 516.8,143.8 516.9,147.8 517.1,139.5 517.2,139.5 517.3,136.1 517.4,147.7 517.6,150.3 517.7,144.2 517.8,145.3 517.9,140 518.1,143.5 518.2,148.6 518.3,145.1 518.4,137.7 518.6,144.5 518.7,143.5 518.8,146.9 519,150 519.1,144 519.2,145.7 519.3,147.6 519.5,138.8 519.6,143.1 519.7,137.6 519.8,145.1 520,148.6 520.1,145.6 520.2,146.1 520.3,141.5 520.5,141.3 520.6,149.5 520.7,147.2 520.8,143.3 521,147.1 521.1,141.9 521.2,141.1 521.3,147.1 521.5,144.7 521.6,146.3 521.7,154.3 521.8,147.8 522,146 522.1,157.6 522.2,142.5 522.3,144.8 522.5,143.8 522.6,145.3 522.7,154.5 522.8,134.5 523,153.5 523.1,138.3 523.2,140 523.3,145.5 523.5,145.7 523.6,145.1 523.7,139.9 523.8,148.9 524,141.5 524.1,148.9 524.2,157.3 524.3,141.7 524.5,147.7 524.6,147.6 524.7,138 524.8,147 525,150.7 525.1,152.7 525.2,149.8 525.3,144 525.5,146.8 525.6,144 525.7,154.4 525.8,143.3 526,143.5 526.1,145.4 526.2,154.1 526.3,141.7 526.5,151.2 526.6,152.5 526.7,145.9 526.8,149.4 527,142.5 527.1,149.6 527.2,150 527.3,144.1 527.5,149.1 527.6,148.6 527.7,150.7 527.8,151.2 528,152.7 528.1,148.3 528.2,151 528.3,154.2 528.5,158.7 528.6,149.4 528.7,147.3 528.8,146.7 529,148.8 529.1,139.5 529.2,145.3 529.3,151.9 529.5,161.3 529.6,154.6 529.7,147.3 529.9,154.2 530,151 530.1,147.9 530.2,157.7 530.4,155.4 530.5,153.3 530.6,152.2 530.7,155.9 530.9,148.7 531,148.8 531.1,148.1 531.2,153.7 531.4,153.4 531.5,154.1 531.6,148.9 531.7,149.6 531.9,150.8 532,150.8 532.1,150 532.2,159.2 532.4,151.6 532.5,141.4 532.6,148.8 532.7,152 532.9,151.7 533,151.8 533.1,150.5 533.2,156.9 533.4,148.5 533.5,154.3 533.6,155 533.7,157.4 533.9,159.7 534,148.5 534.1,149.5 534.2,153.3 534.4,153.9 534.5,154.1 534.6,149.6 534.7,150.7 534.9,157.9 535,156.3 535.1,154.7 535.2,155.4 535.4,162.8 535.5,151.9 535.6,153.7 535.7,144 535.9,151 536,154.7 536.1,156.6 536.2,150.2 536.4,147.9 536.5,149.8 536.6,145.3 536.7,149.1 536.9,152.5 537,154.7 537.1,158.4 537.2,154.3 537.4,150.4 537.5,154 537.6,151.9 537.7,159.4 537.9,157.2 538,147.5 538.1,152.5 538.2,161 538.4,160.5 538.5,152.9 538.6,136.8 538.7,156.2 538.9,155.1 539,153.3 539.1,156.8 539.2,154.9 539.4,157.3 539.5,153.1 539.6,153.3 539.7,155.4 539.9,152.9 540,147.8" fill="none" stroke="#1e8c64" stroke-width="1.15" stroke-linejoin="round" stroke-linecap="round" />
<rect x="63.5" y="3.0" width="477.0" height="386.0" fill="none" stroke="#333" stroke-width="1.5"/>
<line x1="59" y1="16.8" x2="63.5" y2="16.8" stroke="#333" stroke-width="1.2"/>
<line x1="535.5" y1="16.8" x2="540.5" y2="16.8" stroke="#333" stroke-width="1.2"/>
<line x1="59" y1="30.6" x2="63.5" y2="30.6" stroke="#333" stroke-width="1.2"/>
<line x1="535.5" y1="30.6" x2="540.5" y2="30.6" stroke="#333" stroke-width="1.2"/>
<line x1="59" y1="44.4" x2="63.5" y2="44.4" stroke="#333" stroke-width="1.2"/>
<line x1="535.5" y1="44.4" x2="540.5" y2="44.4" stroke="#333" stroke-width="1.2"/>
<line x1="59" y1="58.1" x2="63.5" y2="58.1" stroke="#333" stroke-width="1.2"/>
<line x1="535.5" y1="58.1" x2="540.5" y2="58.1" stroke="#333" stroke-width="1.2"/>
<line x1="59" y1="71.9" x2="63.5" y2="71.9" stroke="#333" stroke-width="1.2"/>
<line x1="535.5" y1="71.9" x2="540.5" y2="71.9" stroke="#333" stroke-width="1.2"/>
<line x1="59" y1="85.7" x2="63.5" y2="85.7" stroke="#333" stroke-width="1.2"/>
<line x1="535.5" y1="85.7" x2="540.5" y2="85.7" stroke="#333" stroke-width="1.2"/>
<line x1="59" y1="99.5" x2="63.5" y2="99.5" stroke="#333" stroke-width="1.2"/>
<line x1="535.5" y1="99.5" x2="540.5" y2="99.5" stroke="#333" stroke-width="1.2"/>
<line x1="59" y1="113.3" x2="63.5" y2="113.3" stroke="#333" stroke-width="1.2"/>
<line x1="535.5" y1="113.3" x2="540.5" y2="113.3" stroke="#333" stroke-width="1.2"/>
<line x1="59" y1="127.1" x2="63.5" y2="127.1" stroke="#333" stroke-width="1.2"/>
<line x1="535.5" y1="127.1" x2="540.5" y2="127.1" stroke="#333" stroke-width="1.2"/>
<line x1="59" y1="140.9" x2="63.5" y2="140.9" stroke="#333" stroke-width="1.2"/>
<line x1="535.5" y1="140.9" x2="540.5" y2="140.9" stroke="#333" stroke-width="1.2"/>
<line x1="59" y1="154.6" x2="63.5" y2="154.6" stroke="#333" stroke-width="1.2"/>
<line x1="535.5" y1="154.6" x2="540.5" y2="154.6" stroke="#333" stroke-width="1.2"/>
<line x1="59" y1="168.4" x2="63.5" y2="168.4" stroke="#333" stroke-width="1.2"/>
<line x1="535.5" y1="168.4" x2="540.5" y2="168.4" stroke="#333" stroke-width="1.2"/>
<line x1="59" y1="182.2" x2="63.5" y2="182.2" stroke="#333" stroke-width="1.2"/>
<line x1="535.5" y1="182.2" x2="540.5" y2="182.2" stroke="#333" stroke-width="1.2"/>
<line x1="59" y1="196" x2="63.5" y2="196" stroke="#333" stroke-width="1.2"/>
<line x1="535.5" y1="196" x2="540.5" y2="196" stroke="#333" stroke-width="1.2"/>
<line x1="59" y1="209.8" x2="63.5" y2="209.8" stroke="#333" stroke-width="1.2"/>
<line x1="535.5" y1="209.8" x2="540.5" y2="209.8" stroke="#333" stroke-width="1.2"/>
<line x1="59" y1="223.6" x2="63.5" y2="223.6" stroke="#333" stroke-width="1.2"/>
<line x1="535.5" y1="223.6" x2="540.5" y2="223.6" stroke="#333" stroke-width="1.2"/>
<line x1="59" y1="237.4" x2="63.5" y2="237.4" stroke="#333" stroke-width="1.2"/>
<line x1="535.5" y1="237.4" x2="540.5" y2="237.4" stroke="#333" stroke-width="1.2"/>
<line x1="59" y1="251.1" x2="63.5" y2="251.1" stroke="#333" stroke-width="1.2"/>
<line x1="535.5" y1="251.1" x2="540.5" y2="251.1" stroke="#333" stroke-width="1.2"/>
<line x1="59" y1="264.9" x2="63.5" y2="264.9" stroke="#333" stroke-width="1.2"/>
<line x1="535.5" y1="264.9" x2="540.5" y2="264.9" stroke="#333" stroke-width="1.2"/>
<line x1="59" y1="278.7" x2="63.5" y2="278.7" stroke="#333" stroke-width="1.2"/>
<line x1="535.5" y1="278.7" x2="540.5" y2="278.7" stroke="#333" stroke-width="1.2"/>
<line x1="59" y1="292.5" x2="63.5" y2="292.5" stroke="#333" stroke-width="1.2"/>
<line x1="535.5" y1="292.5" x2="540.5" y2="292.5" stroke="#333" stroke-width="1.2"/>
<line x1="59" y1="306.3" x2="63.5" y2="306.3" stroke="#333" stroke-width="1.2"/>
<line x1="535.5" y1="306.3" x2="540.5" y2="306.3" stroke="#333" stroke-width="1.2"/>
<line x1="59" y1="320.1" x2="63.5" y2="320.1" stroke="#333" stroke-width="1.2"/>
<line x1="535.5" y1="320.1" x2="540.5" y2="320.1" stroke="#333" stroke-width="1.2"/>
<line x1="59" y1="333.9" x2="63.5" y2="333.9" stroke="#333" stroke-width="1.2"/>
<line x1="535.5" y1="333.9" x2="540.5" y2="333.9" stroke="#333" stroke-width="1.2"/>
<line x1="59" y1="347.6" x2="63.5" y2="347.6" stroke="#333" stroke-width="1.2"/>
<line x1="535.5" y1="347.6" x2="540.5" y2="347.6" stroke="#333" stroke-width="1.2"/>
<line x1="59" y1="361.4" x2="63.5" y2="361.4" stroke="#333" stroke-width="1.2"/>
<line x1="535.5" y1="361.4" x2="540.5" y2="361.4" stroke="#333" stroke-width="1.2"/>
<line x1="59" y1="375.2" x2="63.5" y2="375.2" stroke="#333" stroke-width="1.2"/>
<line x1="535.5" y1="375.2" x2="540.5" y2="375.2" stroke="#333" stroke-width="1.2"/>
<line x1="123.1" y1="389" x2="123.1" y2="395" stroke="#333" stroke-width="1.2"/>
<line x1="123.1" y1="3" x2="123.1" y2="9" stroke="#333" stroke-width="1.2"/>
<line x1="182.8" y1="389" x2="182.8" y2="392" stroke="#333" stroke-width="1.2"/>
<line x1="182.8" y1="3" x2="182.8" y2="6" stroke="#333" stroke-width="1.2"/>
<line x1="242.4" y1="389" x2="242.4" y2="395" stroke="#333" stroke-width="1.2"/>
<line x1="242.4" y1="3" x2="242.4" y2="9" stroke="#333" stroke-width="1.2"/>
<line x1="302" y1="389" x2="302" y2="392" stroke="#333" stroke-width="1.2"/>
<line x1="302" y1="3" x2="302" y2="6" stroke="#333" stroke-width="1.2"/>
<line x1="361.6" y1="389" x2="361.6" y2="395" stroke="#333" stroke-width="1.2"/>
<line x1="361.6" y1="3" x2="361.6" y2="9" stroke="#333" stroke-width="1.2"/>
<line x1="421.2" y1="389" x2="421.2" y2="392" stroke="#333" stroke-width="1.2"/>
<line x1="421.2" y1="3" x2="421.2" y2="6" stroke="#333" stroke-width="1.2"/>
<line x1="480.9" y1="389" x2="480.9" y2="395" stroke="#333" stroke-width="1.2"/>
<line x1="480.9" y1="3" x2="480.9" y2="9" stroke="#333" stroke-width="1.2"/>
<text x="123.1" y="410" font-size="15" text-anchor="middle" font-weight="normal" fill="#000" >20</text>
<text x="242.4" y="410" font-size="15" text-anchor="middle" font-weight="normal" fill="#000" >40</text>
<text x="361.6" y="410" font-size="15" text-anchor="middle" font-weight="normal" fill="#000" >60</text>
<text x="480.9" y="410" font-size="15" text-anchor="middle" font-weight="normal" fill="#000" >80</text>
<text x="283.5" y="445" font-size="22" text-anchor="middle" font-weight="normal" fill="#000" >2&#952; (degrees)</text>
<text x="31" y="187.5" font-size="22" text-anchor="middle" transform="rotate(-90 31 187.5)">Intensity (arbitrary units)</text>
<text x="145.8" y="37.6" font-size="22.5" text-anchor="middle" font-weight="normal" fill="#000" >(a)</text>
<line x1="302.2" y1="23.8" x2="347.9" y2="23.8" stroke="#000" stroke-width="1.0"/>
<text x="354.2" y="30.6" font-size="20" text-anchor="start" font-weight="normal" fill="#000" >Pt/CB</text>
<line x1="302.2" y1="48.4" x2="347.9" y2="48.4" stroke="#ff0000" stroke-width="1.0"/>
<text x="354.2" y="55.2" font-size="20" text-anchor="start" font-weight="normal" fill="#000" >Pt/CG</text>
<line x1="302.2" y1="73" x2="347.9" y2="73" stroke="#1a1aff" stroke-width="1.0"/>
<text x="354.2" y="79.8" font-size="20" text-anchor="start" font-weight="normal" fill="#000" >Pt/GF</text>
<line x1="302.2" y1="97.6" x2="347.9" y2="97.6" stroke="#1e8c64" stroke-width="1.0"/>
<text x="354.2" y="104.4" font-size="20" text-anchor="start" font-weight="normal" fill="#000" >Pt/GFII</text>
<line x1="87" y1="608.3" x2="250" y2="608.3" stroke="#000" stroke-width="1.0"/>
<line x1="87" y1="596.6" x2="221" y2="596.6" stroke="#ff0000" stroke-width="1.0"/>
<line x1="87" y1="574.5" x2="199" y2="574.5" stroke="#1a1aff" stroke-width="1.0"/>
<line x1="87" y1="571.7" x2="182" y2="571.7" stroke="#1e8c64" stroke-width="1.0"/>
<polyline points="83.5,690 83.5,688.5 83.5,687 83.4,685.5 83.4,684 83.4,682.5 83.4,681 83.4,679.5 83.4,678 83.4,676.5 83.4,675 83.4,673.5 83.4,672 83.4,670.5 83.4,669 83.4,667.5 83.4,666 83.4,664.5 83.4,663 83.4,661.5 83.4,660 83.3,658.5 83.4,657 83.4,655.5 83.4,654 83.4,652.5 83.4,651 83.4,649.5 83.4,648 83.4,646.5 83.4,645 83.4,643.5 83.4,642 83.4,640.5 83.4,639 83.4,637.5 83.4,636 83.4,634.5 83.4,633 83.4,631.5 83.4,630 83.4,628.5 83.5,627 83.5,625.5 83.5,624 83.5,622.5 83.5,621 83.5,619.5 83.5,618 83.5,616.5 83.5,615 83.6,613.5 83.6,612 83.6,610.5 83.7,609 83.7,607.5 83.7,606 83.8,604.5 83.9,603 83.9,601.5 84,600 84.1,598.5 84.2,597 84.3,595.5 84.4,594 84.5,592.5 84.6,591 84.7,589.5 84.8,588 85,586.5 85.1,585.1 85.4,583.6 85.6,582.1 85.9,580.6 86.2,579.2 86.6,577.7 87,576.3 87.5,574.9 88.2,573.5 88.9,572.2 89.8,571 90.8,569.9 91.8,568.8 92.9,567.8 94,566.8 95.2,565.8 96.4,564.9 97.5,564 98.7,563 99.9,562.1 101,561.1 102.2,560.1 103.3,559.1 104.4,558.1 105.5,557.2 106.7,556.3 108,555.4 109.3,554.7 110.7,554.3 112.1,554.3 113.5,554.7 114.7,555.4 115.9,556.3 117.1,557.3 118.2,558.3 119.3,559.3 120.2,560.5 121.2,561.6 122.1,562.8 123.1,563.9 124.2,564.9 125.5,565.7 126.8,566.2 128.3,566.4 129.8,566.4 131.3,566.3 132.8,566.2 134.3,566 135.7,566 137.2,566.2 138.7,566.4 140.1,566.8 141.6,567.3 143,567.8 144.3,568.4 145.7,569.1 147,569.8 148.3,570.5 149.6,571.3 150.8,572.2 152,573.1 153.1,574.1 154.2,575.1 155.2,576.2 156.2,577.4 157.1,578.6 157.9,579.8 158.8,581 159.7,582.2 160.6,583.4 161.5,584.6 162.4,585.8 163.3,587 164.2,588.2 165,589.5 165.9,590.7 166.8,591.9 167.7,593.1 168.6,594.3 169.7,595.4 170.7,596.4 171.9,597.3 173.1,598.2 174.4,599 175.7,599.8 177,600.5 178.3,601.1 179.7,601.7 181.1,602.3 182.5,602.8 183.9,603.3 185.4,603.7 186.8,604.1 188.3,604.5 189.7,604.9 191.2,605.3 192.6,605.6 194.1,605.9 195.6,606.2 197,606.4 198.5,606.6 200,606.9 201.5,607 203,607.2 204.5,607.4 206,607.6 207.5,607.7 209,607.8 210.5,608 212,608.1 213.4,608.2 214.9,608.3 216.4,608.4 217.9,608.5 219.4,608.6 220.9,608.6 222.4,608.7 223.9,608.8 225.4,608.8 226.9,608.9 228.4,608.9 229.9,609 231.4,609 232.9,609.1 234.4,609.1 235.9,609.1 237.4,609.1 238.9,609.2 240.4,609.1 241.9,609.1 243.4,609.1 244.9,609.1 246.4,609.1 247.9,609 249.4,609 250.9,609 252.4,608.9 253.9,608.9 255.4,608.8 256.9,608.7 258.4,608.7 259.9,608.6 261.4,608.5 262.9,608.4 264.4,608.3 265.9,608.2 267.4,608.2 268.9,608.1 270.4,607.9 271.9,607.8 273.4,607.7 274.9,607.6 276.4,607.5 277.9,607.4 279.4,607.3 280.9,607.2 282.4,607 283.9,606.9 285.4,606.8 286.8,606.7 288.3,606.6 289.8,606.4 291.3,606.3 292.8,606.2 294.3,606 295.8,605.9 297.3,605.7 298.8,605.6 300.3,605.4 301.8,605.3 303.3,605.1 304.8,604.9 306.2,604.8 307.7,604.6 309.2,604.4 310.7,604.2 312.2,604 313.7,603.7 315.2,603.5 316.6,603.3 318.1,603 319.6,602.7 321.1,602.4 322.5,602.1 324,601.8 325.5,601.4 326.9,601.1 328.3,600.7 329.8,600.2 331.2,599.7 332.6,599.2 334,598.7 335.4,598.2 336.8,597.6 338.2,597 339.6,596.4 340.9,595.8 342.3,595.2 343.7,594.6 345.1,594 346.4,593.4 347.8,592.9 349.2,592.3 350.6,591.8 352,591.2 353.4,590.7 354.8,590.1 356.2,589.5 357.6,589 359,588.4 360.4,587.9 361.8,587.3 363.2,586.8 364.6,586.2 366,585.7 367.4,585.2 368.8,584.7 370.2,584.3 371.7,583.9 373.1,583.5 374.6,583.1 376,582.8 377.5,582.5 379,582.2 380.5,582 382,581.8 383.4,581.6 384.9,581.4 386.4,581.2 387.9,581.1 389.4,581 390.9,580.8 392.4,580.7 393.9,580.6 395.4,580.5 396.9,580.4 398.4,580.3 399.9,580.2 401.4,580.1 402.9,580 404.4,579.9 405.9,579.8 407.4,579.6 408.9,579.5 410.3,579.4 411.8,579.2 413.3,579.1 414.8,579 416.3,578.9 417.8,578.8 419.3,578.6 420.8,578.5 422.3,578.4 423.8,578.3 425.3,578.2 426.8,578.1 428.3,578 429.8,577.9 431.3,577.8 432.8,577.7 434.3,577.5 435.8,577.4 437.3,577.3 438.8,577.2 440.3,577.1 441.8,576.9 443.2,576.8 444.7,576.7 446.2,576.5 447.7,576.4 449.2,576.2 450.7,576 452.2,575.9 453.7,575.7 455.2,575.5 456.7,575.3 458.1,575.1 459.6,574.9 461.1,574.7 462.6,574.5 464.1,574.2 465.6,574 467.1,573.8 468.5,573.6 470,573.3 471.5,573.1 473,572.9 474.5,572.6 475.9,572.4 477.4,572.1 478.9,571.9 480.4,571.7 481.9,571.4 483.3,571.2 484.8,571 486.3,570.7 487.8,570.5 489.3,570.2 490.7,570 492.2,569.7 493.7,569.5 495.2,569.3 496.7,569 498.2,568.8 499.6,568.6 500.9,568.8 501.8,569.5 502.2,570.7 502.3,572.2 502.3,573.7 502.3,575.2 502.3,576.7 502.3,578.2 502.3,579.7 502.3,581.2 502.3,582.7 502.2,584.2 502.2,585.7 502.1,587.2 501.9,588.7 501.8,590.2 501.6,591.7 501.5,593.1 501.3,594.6 501,596.1 500.7,597.6 500.3,599 499.8,600.4 499.1,601.8 498.4,603.1 497.5,604.3 496.6,605.5 495.6,606.6 494.6,607.7 493.5,608.8 492.5,609.8 491.3,610.8 490.2,611.8 489.1,612.7 487.9,613.6 486.7,614.5 485.4,615.4 484.2,616.2 482.9,617 481.6,617.8 480.3,618.5 478.9,619.1 477.6,619.7 476.2,620.3 474.8,620.8 473.3,621.2 471.9,621.7 470.5,622.1 469,622.5 467.6,622.8 466.1,623.2 464.6,623.5 463.2,623.8 461.7,624.1 460.2,624.4 458.8,624.7 457.3,625 455.8,625.3 454.3,625.5 452.8,625.7 451.3,625.9 449.9,626 448.4,626.2 446.9,626.4 445.4,626.5 443.9,626.7 442.4,626.8 440.9,627 439.4,627.2 437.9,627.3 436.4,627.5 435,627.7 433.5,627.9 432,628.2 430.5,628.4 429,628.6 427.5,628.9 426.1,629.1 424.6,629.4 423.1,629.7 421.6,630 420.2,630.3 418.7,630.6 417.3,631 415.8,631.4 414.4,631.8 412.9,632.2 411.5,632.7 410.1,633.2 408.7,633.7 407.3,634.2 405.9,634.7 404.5,635.3 403.1,635.9 401.7,636.5 400.4,637.1 399,637.7 397.6,638.3 396.3,639 394.9,639.6 393.6,640.3 392.2,641 390.9,641.7 389.6,642.4 388.3,643.1 386.9,643.8 385.6,644.5 384.3,645.3 383,646 381.7,646.8 380.4,647.5 379.2,648.3 377.9,649.1 376.6,649.9 375.4,650.7 374.1,651.6 372.9,652.4 371.7,653.3 370.5,654.2 369.2,655 368,655.9 366.8,656.8 365.5,657.6 364.3,658.4 363,659.2 361.6,659.9 360.3,660.5 358.9,661.2 357.6,661.8 356.2,662.4 354.8,662.9 353.4,663.5 352,664 350.6,664.5 349.2,664.9 347.7,665.3 346.3,665.7 344.8,666 343.3,666.2 341.8,666.4 340.3,666.4 338.8,666.4 337.3,666.4 335.8,666.2 334.4,666 332.9,665.6 331.4,665.3 330,664.9 328.6,664.4 327.1,664 325.7,663.5 324.3,662.9 322.9,662.4 321.5,661.9 320.1,661.3 318.7,660.8 317.3,660.2 315.9,659.7 314.5,659.2 313.1,658.6 311.7,658.1 310.3,657.7 308.9,657.2 307.4,656.7 306,656.2 304.6,655.7 303.2,655.2 301.8,654.7 300.4,654.2 299,653.6 297.6,653.1 296.2,652.6 294.7,652.1 293.3,651.6 291.9,651.1 290.5,650.5 289.1,650 287.7,649.5 286.3,649 284.9,648.4 283.5,647.9 282.1,647.4 280.7,646.9 279.3,646.3 277.9,645.8 276.5,645.3 275.1,644.7 273.7,644.2 272.3,643.7 270.9,643.1 269.5,642.6 268.1,642.1 266.6,641.6 265.2,641.1 263.8,640.7 262.4,640.2 261,639.7 259.5,639.2 258.1,638.8 256.7,638.3 255.3,637.8 253.8,637.4 252.4,636.9 250.9,636.5 249.5,636.1 248.1,635.7 246.6,635.3 245.2,634.9 243.7,634.6 242.2,634.2 240.8,633.9 239.3,633.6 237.8,633.3 236.4,633 234.9,632.8 233.4,632.5 231.9,632.3 230.4,632.1 229,631.9 227.5,631.7 226,631.5 224.5,631.4 223,631.2 221.5,631.1 220,631 218.5,630.9 217,630.8 215.5,630.7 214,630.6 212.5,630.6 211,630.5 209.5,630.5 208,630.5 206.5,630.5 205,630.5 203.5,630.6 202,630.6 200.5,630.7 199,630.8 197.5,630.9 196,631 194.5,631.1 193,631.2 191.6,631.4 190.1,631.6 188.6,631.8 187.1,632 185.6,632.3 184.2,632.6 182.7,632.9 181.3,633.3 179.8,633.8 178.4,634.4 177.1,635 175.7,635.7 174.4,636.4 173.2,637.2 171.9,638.1 170.7,638.9 169.5,639.8 168.3,640.7 167.1,641.6 165.9,642.5 164.7,643.5 163.6,644.4 162.4,645.4 161.3,646.4 160.2,647.4 159.1,648.4 158,649.4 156.8,650.3 155.6,651.2 154.3,652 153,652.8 151.7,653.5 150.4,654.2 149.1,654.9 147.7,655.6 146.4,656.2 145,656.9 143.7,657.5 142.3,658.2 141,658.9 139.7,659.7 138.4,660.4 137.1,661.2 135.8,661.9 134.5,662.7 133.3,663.5 132,664.3 130.8,665.2 129.7,666.2 128.6,667.2 127.6,668.3 126.6,669.5 125.7,670.6 124.8,671.8 123.9,673.1 123.1,674.3 122.2,675.6 121.4,676.8 120.7,678.1 119.9,679.4 119.2,680.7 118.4,682 117.7,683.3 117,684.7 116.4,686 115.8,687.4 115.2,688.8 114.6,690.2 114.1,691.5 113.5,692.9 112.9,694.3 112.3,695.7 111.7,697.1 111.1,698.4 110.5,699.8 109.9,701.2 109.3,702.5 108.6,703.9 107.9,705.2 107.1,706.5 106.3,707.8 105.5,709 104.5,710.2 103.6,711.3 102.5,712.4 101.5,713.4 100.4,714.5 99.4,715.6 98.5,716.8 97.8,718.1 97.2,719.5 96.7,720.9 96.1,722.3 95.5,723.6 94.8,724.9 93.9,726.1 92.9,727.2 91.7,727.7 90.5,727.7 89.3,727 88.4,725.9 87.6,724.6 87.1,723.2 86.7,721.7 86.4,720.3 86.2,718.8 86,717.3 85.8,715.8 85.6,714.3 85.3,712.9 85.1,711.4 84.9,709.9 84.8,708.4 84.6,706.9 84.4,705.4 84.3,703.9 84.1,702.4 84,700.9 83.9,699.4 83.8,697.9 83.7,696.4 83.6,694.9 83.6,693.5 83.5,692 83.5,690.5" fill="none" stroke="#000" stroke-width="2.8" stroke-linejoin="round" stroke-linecap="round" />
<polyline points="83.4,699.8 83.3,698.5 83.3,697 83.3,695.5 83.2,694 83.2,692.5 83.2,691 83.2,689.5 83.2,688 83.2,686.5 83.2,685 83.2,683.5 83.2,682 83.2,680.5 83.2,679 83.2,677.5 83.2,676 83.2,674.5 83.2,673 83.2,671.5 83.2,670 83.2,668.5 83.3,667 83.3,665.5 83.3,664 83.3,662.5 83.3,661 83.3,659.5 83.3,658 83.4,656.5 83.4,655 83.4,653.5 83.4,652 83.4,650.5 83.4,649 83.4,647.5 83.4,646 83.4,644.5 83.4,643 83.4,641.5 83.4,640 83.4,638.5 83.4,637 83.4,635.5 83.4,634 83.4,632.5 83.4,631 83.4,629.5 83.4,628 83.4,626.5 83.4,625 83.5,623.5 83.5,622 83.5,620.5 83.5,619 83.5,617.5 83.5,616 83.5,614.5 83.6,613 83.6,611.5 83.6,610 83.7,608.5 83.7,607 83.7,605.5 83.8,604 83.9,602.5 83.9,601 84,599.5 84.1,598 84.2,596.5 84.3,595 84.5,593.5 84.6,592 84.7,590.5 84.9,589.1 85.1,587.6 85.3,586.1 85.5,584.6 85.8,583.1 86.1,581.6 86.4,580.2 86.8,578.7 87.1,577.3 87.6,575.8 88.1,574.4 88.6,573 89.2,571.6 89.8,570.3 90.4,568.9 91,567.5 91.7,566.2 92.4,564.9 93,563.5 93.8,562.2 94.5,560.9 95.2,559.6 96,558.3 96.7,557 97.5,555.7 98.3,554.5 99.2,553.2 100,552 100.9,550.7 101.7,549.5 102.6,548.3 103.4,547 104.2,545.8 105.1,544.5 105.9,543.3 106.8,542.1 107.7,540.9 108.6,539.7 109.5,538.5 110.5,537.4 111.5,536.3 112.6,535.2 113.7,534.2 115,533.4 116.3,532.9 117.7,532.7 119.1,533 120.3,533.8 121.4,534.8 122.4,535.9 123.4,537 124.3,538.2 125.3,539.3 126.3,540.4 127.5,541.3 128.8,542 130.2,542.3 131.7,542.3 133.1,542.1 134.6,541.8 136.1,541.6 137.6,541.5 139,541.6 140.5,542 141.8,542.6 143.1,543.4 144.4,544.2 145.6,545.1 146.8,546 147.9,547 149,548 150,549.1 151,550.2 151.9,551.4 152.8,552.6 153.6,553.9 154.3,555.2 155,556.5 155.6,557.9 156.2,559.3 156.8,560.7 157.3,562.1 157.8,563.5 158.4,564.9 158.9,566.3 159.5,567.7 160.1,569 160.7,570.4 161.3,571.7 162.1,573.1 162.8,574.4 163.5,575.7 164.3,577 165.1,578.3 165.9,579.5 166.7,580.8 167.6,582 168.5,583.2 169.4,584.3 170.5,585.4 171.6,586.4 172.8,587.3 174,588.2 175.3,589 176.6,589.7 177.9,590.4 179.3,591 180.6,591.6 182.1,592.1 183.5,592.6 184.9,593.1 186.3,593.5 187.8,593.9 189.2,594.3 190.7,594.6 192.2,595 193.6,595.3 195.1,595.5 196.6,595.7 198.1,596 199.6,596.1 201,596.3 202.5,596.5 204,596.6 205.5,596.7 207,596.8 208.5,596.9 210,596.9 211.5,597 213,597 214.5,597.1 216,597.1 217.5,597.1 219,597.1 220.5,597.1 222,597.1 223.5,597 225,597 226.5,596.9 228,596.9 229.5,596.8 231,596.7 232.5,596.6 234,596.5 235.5,596.4 237,596.3 238.5,596.1 240,596 241.5,595.8 243,595.7 244.5,595.5 245.9,595.3 247.4,595.1 248.9,594.9 250.4,594.7 251.9,594.5 253.4,594.3 254.9,594.1 256.4,593.9 257.8,593.7 259.3,593.4 260.8,593.2 262.3,593 263.8,592.7 265.2,592.5 266.7,592.2 268.2,592 269.7,591.7 271.2,591.5 272.6,591.2 274.1,590.9 275.6,590.7 277.1,590.4 278.5,590.1 280,589.8 281.5,589.6 282.9,589.3 284.4,589 285.9,588.7 287.4,588.4 288.8,588.1 290.3,587.8 291.8,587.5 293.2,587.2 294.7,586.8 296.2,586.5 297.6,586.2 299.1,585.9 300.6,585.5 302,585.2 303.5,584.8 304.9,584.5 306.4,584.1 307.8,583.7 309.3,583.4 310.7,583 312.2,582.6 313.6,582.2 315.1,581.8 316.5,581.4 318,581 319.4,580.5 320.8,580.1 322.3,579.6 323.7,579.1 325.1,578.6 326.5,578.1 327.9,577.6 329.3,577 330.7,576.5 332.1,575.9 333.4,575.3 334.8,574.6 336.1,574 337.5,573.3 338.8,572.6 340.1,571.8 341.3,571 342.6,570.1 343.8,569.2 344.9,568.3 346,567.2 347,566.1 348,565 348.9,563.8 349.8,562.6 350.7,561.4 351.6,560.2 352.5,559 353.5,557.9 354.6,556.8 355.7,555.9 356.9,555 358.3,554.3 359.6,553.7 361,553.2 362.5,552.8 363.9,552.5 365.4,552.3 366.9,552.3 368.4,552.3 369.9,552.5 371.4,552.8 372.8,553.1 374.2,553.6 375.7,554 377.1,554.5 378.5,555 379.9,555.4 381.4,555.9 382.8,556.3 384.3,556.7 385.7,557.1 387.2,557.4 388.6,557.7 390.1,558 391.6,558.3 393,558.6 394.5,558.9 396,559.1 397.5,559.4 399,559.5 400.5,559.7 402,559.8 403.5,559.8 405,559.9 406.5,559.9 408,559.9 409.5,559.9 411,559.8 412.5,559.8 414,559.7 415.5,559.6 417,559.6 418.5,559.5 420,559.4 421.5,559.3 422.9,559.2 424.4,559.1 425.9,558.9 427.4,558.8 428.9,558.7 430.4,558.6 431.9,558.4 433.4,558.3 434.9,558.2 436.4,558 437.9,557.9 439.4,557.7 440.9,557.6 442.4,557.4 443.9,557.3 445.4,557.1 446.8,556.9 448.3,556.8 449.8,556.6 451.3,556.5 452.8,556.3 454.3,556.1 455.8,556 457.3,555.8 458.8,555.6 460.3,555.4 461.7,555.2 463.2,555 464.7,554.8 466.2,554.6 467.7,554.4 469.2,554.1 470.6,553.9 472.1,553.7 473.6,553.4 475.1,553.2 476.6,552.9 478,552.7 479.5,552.4 481,552.2 482.5,551.9 483.9,551.6 485.4,551.3 486.9,551 488.3,550.6 489.8,550.3 491.3,549.9 492.7,549.5 494.2,549.2 495.6,548.8 497.1,548.4 498.5,548.1 499.9,547.9 501.2,548.1 502,549 502.3,550.3 502.4,551.7 502.3,553.2 502.3,554.7 502.3,556.2 502.3,557.7 502.4,559.2 502.4,560.7 502.4,562.2 502.4,563.7 502.4,565.2 502.4,566.7 502.4,568.2 502.4,569.7 502.4,571.2 502.4,572.7 502.4,574.2 502.3,575.7 502.3,577.2 502.2,578.7 502.2,580.2 502.1,581.7 502.1,583.2 502,584.7 502,586.2 501.9,587.7 501.9,589.2 501.8,590.7 501.7,592.2 501.7,593.7 501.5,595.2 501.4,596.7 501.3,598.2 501.1,599.7 500.8,601.2 500.6,602.6 500.2,604.1 499.9,605.5 499.4,607 499,608.4 498.4,609.8 497.9,611.2 497.2,612.6 496.6,613.9 495.9,615.2 495.1,616.5 494.4,617.8 493.6,619.1 492.7,620.3 491.8,621.5 490.8,622.6 489.8,623.7 488.7,624.7 487.5,625.6 486.2,626.4 484.9,627.2 483.6,627.9 482.2,628.5 480.9,629.1 479.5,629.7 478.1,630.2 476.7,630.7 475.2,631.2 473.8,631.6 472.4,632.1 470.9,632.5 469.5,632.9 468,633.3 466.6,633.7 465.1,634.1 463.7,634.4 462.2,634.8 460.8,635.2 459.3,635.6 457.9,635.9 456.4,636.2 454.9,636.5 453.5,636.7 452,637 450.5,637.2 449,637.4 447.5,637.6 446,637.8 444.5,638 443.1,638.2 441.6,638.4 440.1,638.6 438.6,638.8 437.1,639 435.6,639.2 434.2,639.5 432.7,639.8 431.2,640.2 429.8,640.5 428.3,640.9 426.9,641.3 425.4,641.6 424,642.1 422.5,642.5 421.1,642.9 419.7,643.4 418.3,643.9 416.8,644.3 415.4,644.9 414,645.4 412.6,645.9 411.2,646.5 409.9,647.1 408.5,647.7 407.1,648.3 405.8,648.9 404.4,649.6 403,650.2 401.7,650.9 400.3,651.5 399,652.2 397.6,652.8 396.3,653.5 394.9,654.1 393.5,654.7 392.1,655.3 390.8,655.8 389.4,656.4 388,657 386.6,657.6 385.2,658.2 383.9,658.8 382.5,659.4 381.2,660.1 379.9,660.8 378.6,661.6 377.3,662.4 376.1,663.3 374.9,664.2 373.7,665.1 372.6,666.1 371.5,667.1 370.4,668.1 369.3,669.1 368.2,670.2 367.1,671.2 366,672.2 364.9,673.3 363.8,674.3 362.7,675.2 361.6,676.3 360.5,677.3 359.4,678.3 358.3,679.3 357.2,680.4 356.1,681.4 355,682.4 353.8,683.3 352.7,684.3 351.5,685.2 350.2,686 349,686.8 347.7,687.6 346.4,688.3 345,689.1 343.7,689.7 342.3,690.4 341,691 339.6,691.5 338.2,692 336.7,692.4 335.3,692.8 333.8,693 332.3,693.1 330.8,693.1 329.3,693 327.8,692.7 326.4,692.4 324.9,692 323.5,691.5 322.1,691 320.7,690.4 319.3,689.8 318,689.3 316.6,688.7 315.2,688.1 313.8,687.5 312.4,686.9 311,686.4 309.6,685.8 308.2,685.4 306.8,685 305.3,684.6 303.9,684.3 302.4,684 300.9,683.7 299.4,683.5 297.9,683.2 296.5,683 295,682.8 293.5,682.5 292,682.3 290.5,682 289.1,681.7 287.6,681.4 286.2,681 284.7,680.6 283.3,680.2 281.8,679.8 280.4,679.3 279,678.9 277.6,678.4 276.2,677.8 274.8,677.2 273.4,676.6 272.1,676 270.7,675.3 269.4,674.6 268.1,673.8 266.9,673 265.6,672.1 264.4,671.3 263.2,670.4 262,669.6 260.7,668.7 259.5,667.8 258.3,667 257,666.2 255.7,665.4 254.4,664.7 253.1,663.9 251.8,663.2 250.5,662.5 249.1,661.8 247.8,661.1 246.5,660.4 245.1,659.8 243.8,659.1 242.4,658.5 241.1,657.8 239.7,657.2 238.3,656.6 236.9,656 235.6,655.4 234.2,654.9 232.8,654.4 231.3,653.9 229.9,653.4 228.5,653 227,652.6 225.6,652.2 224.1,651.9 222.6,651.6 221.2,651.3 219.7,651 218.2,650.8 216.7,650.6 215.2,650.4 213.8,650.2 212.3,650 210.8,649.8 209.3,649.7 207.8,649.6 206.3,649.4 204.8,649.3 203.3,649.2 201.8,649.1 200.3,649 198.8,649 197.3,648.9 195.8,648.9 194.3,649 192.8,649 191.3,649.1 189.8,649.3 188.3,649.4 186.9,649.6 185.4,649.9 183.9,650.1 182.4,650.4 181,650.8 179.5,651.2 178.1,651.7 176.7,652.3 175.4,652.9 174,653.5 172.7,654.2 171.4,655 170.1,655.8 168.9,656.6 167.7,657.5 166.5,658.4 165.3,659.3 164.2,660.3 163.1,661.3 162,662.4 161,663.5 159.9,664.6 158.9,665.7 158,666.8 157,668 156,669.1 155.1,670.3 154.1,671.4 153.1,672.5 152.1,673.7 151.1,674.8 150.2,676 149.2,677.1 148.3,678.3 147.3,679.4 146.4,680.6 145.4,681.7 144.5,682.9 143.5,684.1 142.5,685.2 141.5,686.3 140.5,687.4 139.5,688.5 138.4,689.5 137.2,690.5 136.1,691.5 135,692.5 133.9,693.5 132.8,694.6 131.7,695.6 130.7,696.7 129.7,697.8 128.7,698.9 127.8,700.1 126.9,701.3 126.1,702.6 125.3,703.8 124.5,705.1 123.8,706.4 123,707.7 122.3,709.1 121.7,710.4 121,711.7 120.3,713.1 119.7,714.5 119.2,715.9 118.6,717.2 118.1,718.7 117.6,720.1 117.1,721.5 116.6,722.9 116.1,724.3 115.6,725.7 115,727.1 114.5,728.5 113.9,729.9 113.3,731.3 112.7,732.6 112.1,734 111.5,735.4 110.8,736.7 110.2,738.1 109.5,739.4 108.7,740.7 107.8,741.7 106.7,742.3 105.6,742 104.6,741.1 103.8,739.9 103.1,738.5 102.4,737.2 101.8,735.8 101.2,734.4 100.7,733 100.2,731.6 99.8,730.2 99.4,728.7 99,727.3 98.6,725.8 98.1,724.4 97.6,723 97,721.6 96.4,720.3 95.8,718.9 95.1,717.6 94.3,716.3 93.5,715.1 92.5,713.9 91.4,712.9 90.2,712.1 88.9,711.4 87.6,710.7 86.3,709.9 85.2,709 84.3,707.9 83.7,706.5 83.5,705.1 83.4,703.6 83.4,702.1 83.4,700.7" fill="none" stroke="#dd1515" stroke-width="2.8" stroke-linejoin="round" stroke-linecap="round" />
<polyline points="83.1,752.7 82.7,752.1 82.4,750.8 82.3,749.3 82.2,747.8 82.1,746.3 82.1,744.8 82.1,743.3 82,741.8 82,740.3 82,738.8 82,737.3 82,735.8 82,734.3 82,732.8 82,731.3 82,729.8 82,728.3 82,726.8 82,725.3 82,723.8 82,722.3 82.1,720.8 82.1,719.3 82.1,717.8 82.1,716.3 82.1,714.8 82.1,713.3 82.2,711.8 82.2,710.3 82.2,708.8 82.2,707.3 82.2,705.8 82.3,704.3 82.3,702.8 82.3,701.3 82.3,699.8 82.4,698.3 82.4,696.8 82.4,695.3 82.4,693.8 82.5,692.3 82.5,690.8 82.5,689.3 82.5,687.8 82.6,686.3 82.6,684.8 82.6,683.3 82.6,681.8 82.7,680.3 82.7,678.8 82.7,677.3 82.7,675.8 82.7,674.3 82.8,672.8 82.8,671.3 82.8,669.8 82.8,668.3 82.9,666.8 82.9,665.3 82.9,663.8 82.9,662.3 82.9,660.8 82.9,659.3 83,657.8 83,656.3 83,654.8 83,653.3 83,651.8 83,650.3 83,648.8 83,647.3 83,645.8 83,644.3 83,642.8 83,641.3 83,639.8 83,638.3 83,636.8 83,635.3 83,633.8 83,632.3 83,630.8 83,629.3 83,627.8 83,626.3 83,624.8 83,623.3 83,621.8 83,620.3 83,618.8 83,617.3 83,615.8 83,614.3 83.1,612.8 83.1,611.3 83.1,609.8 83.1,608.3 83.1,606.8 83.1,605.3 83.1,603.8 83.1,602.3 83.1,600.8 83.1,599.3 83.1,597.8 83.1,596.3 83.1,594.8 83.1,593.3 83.1,591.8 83.1,590.3 83.1,588.8 83.1,587.3 83.1,585.8 83.1,584.3 83.1,582.8 83.1,581.3 83.1,579.8 83.2,578.3 83.2,576.8 83.2,575.3 83.2,573.8 83.2,572.3 83.2,570.8 83.2,569.3 83.2,567.8 83.2,566.3 83.2,564.8 83.2,563.3 83.2,561.8 83.1,560.3 83.1,558.8 83.1,557.3 83.1,555.8 83.1,554.3 83,552.8 83,551.3 83,549.8 83.1,548.3 83.1,546.8 83.2,545.3 83.3,543.8 83.5,542.4 83.7,540.9 84.2,539.5 84.9,538.4 86,537.7 87.4,537.5 88.7,537.2 89.9,536.5 91,535.5 92,534.4 92.9,533.2 93.9,532 94.8,530.8 95.7,529.6 96.6,528.4 97.4,527.2 98.3,526 99.2,524.8 100,523.5 100.8,522.3 101.6,521 102.3,519.7 103,518.3 103.6,517 104.3,515.6 104.9,514.2 105.5,512.9 106,511.5 106.6,510.1 107.2,508.7 107.8,507.3 108.4,505.9 109,504.6 109.5,503.2 110.2,501.8 110.8,500.5 111.4,499.1 112.1,497.7 112.8,496.4 113.5,495.1 114.3,493.9 115.2,492.7 116.3,491.7 117.5,491.1 118.8,491.2 120,491.8 121,492.9 121.8,494.1 122.6,495.4 123.3,496.7 124,498 124.7,499.4 125.4,500.7 126.2,502 127,503.2 128,504.3 129.1,505.3 130.4,506 131.8,506.5 133.2,506.9 134.7,507.2 136.1,507.6 137.5,508.2 138.7,509 139.9,509.9 141.1,510.8 142.2,511.9 143.3,512.9 144.3,514 145.3,515.1 146.3,516.2 147.2,517.4 148.2,518.6 149.1,519.7 150,520.9 150.9,522.2 151.7,523.4 152.5,524.7 153.3,526 154,527.3 154.7,528.6 155.3,530 155.9,531.3 156.5,532.7 157.1,534.1 157.6,535.5 158.2,536.9 158.8,538.3 159.3,539.7 159.9,541 160.6,542.4 161.2,543.8 161.9,545.1 162.6,546.4 163.3,547.7 164,549 164.8,550.4 165.5,551.7 166.2,553 167,554.3 167.8,555.5 168.7,556.7 169.6,557.9 170.6,559.1 171.6,560.2 172.6,561.3 173.7,562.3 174.8,563.3 176,564.3 177.1,565.2 178.3,566.1 179.6,567 180.8,567.8 182.1,568.6 183.4,569.3 184.7,570 186,570.7 187.4,571.3 188.8,571.8 190.2,572.3 191.7,572.8 193.1,573.2 194.6,573.5 196,573.8 197.5,574 199,574.2 200.5,574.4 202,574.5 203.5,574.6 205,574.7 206.5,574.7 208,574.7 209.5,574.7 211,574.7 212.5,574.7 214,574.7 215.5,574.7 217,574.6 218.5,574.6 220,574.5 221.5,574.4 223,574.3 224.5,574.2 226,574.1 227.5,573.9 229,573.8 230.4,573.6 231.9,573.4 233.4,573.2 234.9,573 236.4,572.8 237.9,572.6 239.4,572.4 240.8,572.2 242.3,571.9 243.8,571.7 245.3,571.4 246.8,571.2 248.2,570.9 249.7,570.7 251.2,570.4 252.7,570.1 254.1,569.9 255.6,569.6 257.1,569.3 258.6,569.1 260.1,568.8 261.5,568.5 263,568.3 264.5,568 266,567.8 267.4,567.5 268.9,567.2 270.4,567 271.9,566.7 273.4,566.5 274.8,566.3 276.3,566 277.8,565.8 279.3,565.6 280.8,565.4 282.3,565.3 283.8,565.1 285.3,564.9 286.7,564.8 288.2,564.7 289.7,564.5 291.2,564.4 292.7,564.3 294.2,564.1 295.7,564 297.2,563.9 298.7,563.8 300.2,563.6 301.7,563.5 303.2,563.4 304.7,563.2 306.2,563 307.7,562.9 309.1,562.7 310.6,562.4 312.1,562.2 313.6,562 315.1,561.7 316.5,561.4 318,561 319.4,560.7 320.9,560.2 322.3,559.8 323.7,559.2 325.1,558.6 326.4,558 327.7,557.3 329,556.5 330.2,555.6 331.4,554.7 332.5,553.7 333.7,552.7 334.7,551.6 335.8,550.6 336.8,549.5 337.8,548.3 338.8,547.2 339.8,546.1 340.7,545 341.7,543.8 342.8,542.8 343.8,541.7 344.9,540.6 345.9,539.5 346.9,538.4 347.8,537.2 348.8,536.1 349.7,534.9 350.7,533.8 351.7,532.7 352.8,531.6 354,530.7 355.2,529.9 356.6,529.3 358,528.8 359.4,528.6 360.9,528.5 362.4,528.5 363.9,528.6 365.4,528.8 366.9,529 368.4,529.2 369.9,529.5 371.3,529.7 372.8,530 374.3,530.4 375.7,530.8 377.1,531.2 378.6,531.7 380,532.2 381.4,532.6 382.9,533 384.3,533.3 385.8,533.6 387.3,533.8 388.8,534 390.2,534.2 391.7,534.4 393.2,534.6 394.7,534.7 396.2,534.8 397.7,534.9 399.2,534.9 400.7,535 402.2,535 403.7,535 405.2,534.9 406.7,534.8 408.2,534.7 409.7,534.6 411.2,534.5 412.7,534.3 414.2,534.1 415.7,533.9 417.1,533.7 418.6,533.4 420.1,533.1 421.6,532.9 423,532.6 424.5,532.3 426,532 427.4,531.6 428.9,531.3 430.4,531 431.8,530.6 433.3,530.3 434.7,529.9 436.2,529.6 437.7,529.2 439.1,528.8 440.6,528.4 442,528.1 443.5,527.7 444.9,527.3 446.4,526.9 447.8,526.5 449.2,526.1 450.7,525.7 452.1,525.3 453.6,524.9 455,524.4 456.5,524 457.9,523.6 459.3,523.1 460.7,522.7 462.2,522.2 463.6,521.7 465,521.3 466.4,520.8 467.9,520.3 469.3,519.8 470.7,519.3 472.1,518.8 473.5,518.3 474.9,517.7 476.3,517.2 477.7,516.7 479.1,516.1 480.5,515.6 481.9,515 483.3,514.5 484.7,513.9 486.1,513.3 487.4,512.7 488.8,512 490.1,511.4 491.5,510.7 492.8,510 494.2,509.4 495.5,508.7 496.8,508 498.2,507.4 499.5,506.8 500.8,506.5 501.8,506.9 502.2,508 502.4,509.4 502.4,510.9 502.3,512.4 502.3,513.9 502.3,515.4 502.3,516.9 502.4,518.4 502.4,519.9 502.4,521.4 502.4,522.9 502.4,524.4 502.4,525.9 502.5,527.4 502.5,528.9 502.5,530.4 502.5,531.9 502.5,533.4 502.5,534.9 502.5,536.4 502.5,537.9 502.5,539.4 502.4,540.9 502.4,542.4 502.4,543.9 502.4,545.4 502.4,546.9 502.4,548.4 502.4,549.9 502.4,551.4 502.3,552.9 502.3,554.4 502.3,555.9 502.3,557.4 502.2,558.9 502.2,560.4 502.2,561.9 502.1,563.4 502.1,564.9 502,566.4 502,567.9 502,569.4 501.9,570.9 501.9,572.4 501.8,573.9 501.8,575.4 501.7,576.9 501.6,578.4 501.5,579.9 501.4,581.4 501.3,582.9 501.2,584.4 501.1,585.9 500.9,587.4 500.7,588.9 500.5,590.4 500.3,591.9 500.1,593.3 499.8,594.8 499.5,596.3 499.2,597.8 498.9,599.2 498.6,600.7 498.2,602.1 497.9,603.6 497.5,605.1 497.2,606.5 496.8,608 496.4,609.4 496.1,610.9 495.7,612.3 495.2,613.8 494.7,615.2 494.2,616.6 493.6,617.9 492.9,619.3 492.2,620.6 491.4,621.9 490.6,623.1 489.7,624.3 488.8,625.5 487.8,626.6 486.8,627.7 485.7,628.8 484.6,629.8 483.5,630.9 482.4,631.8 481.2,632.8 480.1,633.7 478.8,634.6 477.6,635.5 476.4,636.3 475.1,637.1 473.8,637.9 472.5,638.7 471.2,639.4 469.9,640.1 468.6,640.8 467.2,641.5 465.9,642.1 464.5,642.7 463.1,643.3 461.7,643.8 460.3,644.4 458.9,644.8 457.5,645.3 456,645.7 454.6,646 453.1,646.3 451.6,646.6 450.2,646.9 448.7,647.1 447.2,647.4 445.7,647.6 444.2,647.8 442.7,648 441.3,648.2 439.8,648.4 438.3,648.6 436.8,648.9 435.3,649.2 433.9,649.5 432.4,649.8 430.9,650.1 429.5,650.5 428,650.9 426.6,651.3 425.1,651.7 423.7,652.1 422.3,652.5 420.8,652.9 419.4,653.4 418,653.9 416.6,654.4 415.2,654.9 413.8,655.5 412.4,656.1 411,656.7 409.7,657.3 408.3,657.9 407,658.6 405.6,659.3 404.3,660 403,660.7 401.6,661.4 400.3,662.1 399,662.8 397.7,663.5 396.3,664.2 395,664.9 393.7,665.6 392.4,666.3 391,667 389.7,667.7 388.4,668.4 387.1,669.1 385.8,669.9 384.4,670.6 383.1,671.3 381.9,672.1 380.6,672.9 379.3,673.7 378.1,674.5 376.8,675.4 375.6,676.2 374.4,677.1 373.2,678 372,678.9 370.8,679.9 369.7,680.8 368.5,681.8 367.4,682.7 366.2,683.7 365.1,684.7 364,685.7 362.9,686.7 361.8,687.7 360.7,688.8 359.6,689.8 358.6,690.9 357.5,691.9 356.5,693 355.4,694.1 354.4,695.2 353.3,696.3 352.3,697.3 351.2,698.4 350.2,699.5 349.1,700.5 348,701.6 346.9,702.6 345.9,703.6 344.8,704.7 343.7,705.7 342.7,706.8 341.6,707.8 340.5,708.8 339.3,709.8 338.2,710.8 337.1,711.8 335.9,712.7 334.6,713.6 333.4,714.4 332.1,715.2 330.9,716 329.6,716.8 328.3,717.5 326.9,718.2 325.6,718.8 324.2,719.4 322.8,719.9 321.4,720.4 319.9,720.9 318.5,721.3 317,721.6 315.6,721.9 314.1,722.2 312.6,722.4 311.1,722.6 309.6,722.7 308.1,722.8 306.6,722.8 305.1,722.7 303.6,722.6 302.2,722.4 300.7,722.2 299.2,722 297.7,721.7 296.3,721.4 294.8,721 293.3,720.6 291.9,720.2 290.5,719.8 289.1,719.3 287.6,718.8 286.2,718.3 284.8,717.8 283.4,717.2 282.1,716.6 280.7,716 279.3,715.4 278,714.7 276.6,714.1 275.3,713.3 274,712.6 272.7,711.8 271.4,711 270.2,710.2 268.9,709.4 267.7,708.6 266.4,707.7 265.2,706.9 264,706 262.7,705.2 261.5,704.3 260.3,703.5 259,702.6 257.8,701.7 256.6,700.9 255.3,700.1 254.1,699.2 252.8,698.4 251.6,697.6 250.3,696.8 249.1,695.9 247.8,695.1 246.6,694.3 245.4,693.4 244.1,692.5 242.9,691.7 241.7,690.8 240.5,689.9 239.2,689.1 238,688.2 236.8,687.3 235.5,686.5 234.3,685.7 233.1,684.8 231.8,684 230.5,683.2 229.2,682.4 228,681.7 226.6,680.9 225.3,680.2 224,679.5 222.6,678.9 221.3,678.3 219.9,677.7 218.5,677.2 217,676.8 215.6,676.3 214.2,675.9 212.7,675.5 211.3,675.1 209.8,674.8 208.3,674.5 206.9,674.2 205.4,674 203.9,673.7 202.4,673.5 200.9,673.4 199.4,673.2 197.9,673.1 196.4,673 194.9,672.9 193.4,672.9 191.9,672.9 190.4,672.9 188.9,673 187.4,673.1 186,673.3 184.5,673.6 183,673.9 181.6,674.4 180.2,674.9 178.8,675.4 177.4,676 176.1,676.7 174.8,677.5 173.6,678.3 172.3,679.2 171.2,680.1 170,681.1 168.9,682.1 167.8,683.1 166.7,684.1 165.5,685.1 164.5,686.1 163.4,687.1 162.2,688.1 161.1,689.2 160,690.2 158.9,691.2 157.9,692.2 156.8,693.3 155.8,694.4 154.7,695.5 153.7,696.6 152.8,697.7 151.8,698.9 150.9,700.1 150,701.3 149.1,702.5 148.2,703.7 147.4,705 146.6,706.2 145.7,707.4 144.9,708.7 144.1,710 143.3,711.2 142.5,712.5 141.8,713.8 141,715.1 140.3,716.4 139.5,717.7 138.8,719 138.1,720.4 137.4,721.7 136.7,723 136,724.4 135.4,725.7 134.7,727 134,728.4 133.4,729.7 132.7,731.1 132.1,732.4 131.5,733.8 130.9,735.2 130.2,736.5 129.6,737.9 129,739.3 128.4,740.7 127.8,742 127.3,743.4 126.7,744.8 126.1,746.2 125.6,747.6 125,749 124.5,750.4 124,751.8 123.4,753.2 122.9,754.6 122.4,756 121.9,757.4 121.4,758.9 120.9,760.3 120.4,761.7 119.9,763.1 119.4,764.5 118.9,765.9 118.4,767.3 117.9,768.7 117.4,770.2 116.9,771.6 116.4,773 115.9,774.4 115.4,775.8 114.8,777.2 114.3,778.6 113.6,780 113,781.3 112.3,782.7 111.6,783.9 110.6,784.8 109.6,785 108.5,784.3 107.6,783.2 106.9,781.9 106.2,780.6 105.6,779.3 104.9,777.9 104.3,776.5 103.6,775.2 103,773.8 102.4,772.4 101.9,771.1 101.3,769.7 100.8,768.3 100.2,766.9 99.6,765.5 99,764.1 98.4,762.7 97.9,761.4 97.3,760 96.6,758.6 96,757.3 95.3,755.9 94.4,754.7 93.5,753.6 92.4,752.5 91.2,751.6 89.9,751 88.5,750.6 87.1,750.7 85.7,751.1 84.5,751.8 83.6,752.5" fill="none" stroke="#1c2ee0" stroke-width="2.8" stroke-linejoin="round" stroke-linecap="round" />
<polyline points="83.2,767.1 82.6,766.1 82.3,764.7 82.2,763.2 82.1,761.7 82,760.2 82,758.7 81.9,757.2 81.9,755.7 81.9,754.2 81.9,752.7 81.9,751.2 81.9,749.7 82,748.2 82,746.7 82,745.2 82,743.7 82.1,742.2 82.1,740.7 82.1,739.2 82.2,737.7 82.2,736.2 82.3,734.7 82.3,733.2 82.3,731.7 82.4,730.2 82.4,728.7 82.5,727.2 82.5,725.7 82.5,724.2 82.6,722.7 82.6,721.2 82.7,719.7 82.7,718.2 82.7,716.7 82.8,715.2 82.8,713.7 82.8,712.2 82.9,710.7 82.9,709.2 82.9,707.7 82.9,706.2 83,704.7 83,703.2 83,701.7 83,700.2 83,698.7 83,697.2 83,695.7 83,694.2 83,692.7 83,691.2 83,689.7 83,688.2 83,686.7 83,685.2 83,683.7 83,682.2 83,680.7 83,679.2 83,677.7 83,676.2 83,674.7 83,673.2 83,671.7 83,670.2 83,668.7 83,667.2 83,665.7 83,664.2 83,662.7 83,661.2 83,659.7 83,658.2 83,656.7 83,655.2 83,653.7 83,652.2 83,650.7 83,649.2 83,647.7 83,646.2 83,644.7 83,643.2 83,641.7 83,640.2 83,638.7 83,637.2 83,635.7 83,634.2 83,632.7 83,631.2 83,629.7 83,628.2 83,626.7 83,625.2 83,623.7 83,622.2 83,620.7 83,619.2 83,617.7 83.1,616.2 83.1,614.7 83.1,613.2 83.1,611.7 83.1,610.2 83.1,608.7 83.1,607.2 83.1,605.7 83.1,604.2 83.2,602.7 83.2,601.2 83.2,599.7 83.2,598.2 83.2,596.7 83.3,595.2 83.3,593.7 83.3,592.2 83.3,590.7 83.3,589.2 83.3,587.7 83.4,586.2 83.4,584.7 83.4,583.3 83.4,581.8 83.5,580.3 83.5,578.8 83.6,577.3 83.6,575.8 83.7,574.3 83.8,572.8 83.9,571.3 84,569.8 84.2,568.3 84.3,566.8 84.4,565.3 84.6,563.8 84.8,562.3 85,560.8 85.2,559.3 85.4,557.9 85.7,556.4 85.9,554.9 86.2,553.4 86.5,552 86.8,550.5 87.2,549 87.5,547.6 87.9,546.1 88.3,544.7 88.8,543.3 89.3,541.8 89.8,540.4 90.4,539.1 91,537.7 91.7,536.4 92.4,535.1 93.2,533.8 94,532.5 94.8,531.2 95.6,529.9 96.4,528.7 97.2,527.4 98,526.1 98.7,524.8 99.5,523.5 100.2,522.2 100.9,520.9 101.5,519.5 102.2,518.2 102.8,516.8 103.3,515.4 103.9,514 104.5,512.6 105,511.2 105.6,509.8 106.1,508.4 106.6,507 107.1,505.6 107.7,504.2 108.2,502.8 108.7,501.4 109.2,500 109.8,498.6 110.3,497.2 110.9,495.8 111.4,494.4 112,493 112.6,491.7 113.3,490.3 113.9,488.9 114.5,487.6 115.1,486.2 115.7,484.8 116.3,483.4 116.9,482.1 117.6,480.8 118.5,479.7 119.6,478.9 120.9,478.9 122.1,479.5 123.1,480.4 124.1,481.6 124.9,482.8 125.8,484.1 126.6,485.3 127.5,486.6 128.4,487.8 129.3,488.9 130.4,489.9 131.5,490.9 132.8,491.7 134.1,492.5 135.4,493.2 136.7,494 137.9,494.8 139.1,495.7 140.2,496.7 141.3,497.7 142.4,498.8 143.4,499.9 144.4,501 145.4,502.1 146.4,503.3 147.3,504.5 148.2,505.7 149.1,506.9 149.9,508.1 150.7,509.4 151.5,510.7 152.2,512 152.9,513.3 153.5,514.7 154.1,516 154.7,517.4 155.2,518.8 155.7,520.3 156.2,521.7 156.6,523.1 157.1,524.5 157.5,526 158,527.4 158.4,528.8 158.8,530.3 159.3,531.7 159.8,533.1 160.3,534.5 160.8,536 161.3,537.4 161.9,538.7 162.5,540.1 163.1,541.5 163.7,542.9 164.3,544.2 164.9,545.6 165.6,547 166.2,548.3 166.9,549.7 167.6,551 168.3,552.3 169.1,553.6 169.9,554.8 170.8,556 171.7,557.2 172.7,558.3 173.7,559.5 174.8,560.5 175.8,561.6 176.9,562.6 178.1,563.5 179.3,564.5 180.5,565.4 181.7,566.2 183,567 184.3,567.7 185.6,568.4 187,569 188.4,569.6 189.8,570.1 191.2,570.6 192.7,571 194.1,571.3 195.6,571.6 197.1,571.9 198.5,572.1 200,572.3 201.5,572.4 203,572.5 204.5,572.6 206,572.7 207.5,572.8 209,572.8 210.5,572.8 212,572.8 213.5,572.8 215,572.8 216.5,572.7 218,572.6 219.5,572.5 221,572.3 222.5,572.1 224,571.9 225.4,571.6 226.9,571.4 228.4,571.1 229.9,570.8 231.3,570.5 232.8,570.2 234.3,569.8 235.7,569.5 237.2,569.2 238.7,568.9 240.1,568.6 241.6,568.3 243.1,568 244.5,567.7 246,567.4 247.5,567.2 249,566.9 250.5,566.7 251.9,566.4 253.4,566.2 254.9,565.9 256.4,565.7 257.8,565.4 259.3,565.2 260.8,564.9 262.3,564.7 263.8,564.4 265.2,564.2 266.7,563.9 268.2,563.7 269.7,563.5 271.2,563.2 272.6,563 274.1,562.8 275.6,562.5 277.1,562.3 278.6,562.1 280.1,561.9 281.6,561.7 283,561.5 284.5,561.4 286,561.2 287.5,561 289,560.9 290.5,560.7 292,560.6 293.5,560.4 295,560.2 296.5,560 297.9,559.9 299.4,559.7 300.9,559.5 302.4,559.2 303.9,559 305.4,558.7 306.8,558.5 308.3,558.2 309.8,557.9 311.3,557.6 312.7,557.4 314.2,557.1 315.7,556.8 317.1,556.4 318.6,556.1 320,555.6 321.4,555.1 322.8,554.6 324.2,554 325.5,553.3 326.8,552.5 328,551.6 329.2,550.7 330.4,549.7 331.5,548.7 332.6,547.7 333.6,546.6 334.7,545.6 335.7,544.5 336.7,543.4 337.7,542.2 338.7,541.1 339.7,540 340.7,538.9 341.7,537.8 342.7,536.7 343.8,535.6 344.8,534.5 345.9,533.4 346.9,532.3 347.8,531.2 348.8,530.1 349.8,528.9 350.8,527.8 351.9,526.7 352.9,525.7 354.1,524.7 355.3,523.8 356.5,523 357.8,522.3 359.2,521.7 360.6,521.1 362,520.6 363.4,520.2 364.9,519.9 366.4,519.6 367.9,519.5 369.4,519.4 370.8,519.4 372.3,519.5 373.8,519.8 375.3,520.2 376.7,520.6 378.1,521.1 379.5,521.5 381,522 382.4,522.4 383.9,522.7 385.3,523 386.8,523.3 388.3,523.5 389.8,523.7 391.3,524 392.8,524.1 394.2,524.3 395.7,524.5 397.2,524.6 398.7,524.7 400.2,524.8 401.7,524.9 403.2,525 404.7,525 406.2,525 407.7,524.9 409.2,524.9 410.7,524.8 412.2,524.7 413.7,524.5 415.2,524.4 416.7,524.2 418.2,524.1 419.7,523.9 421.1,523.6 422.6,523.4 424.1,523.2 425.6,523 427.1,522.7 428.5,522.4 430,522.2 431.5,521.9 433,521.6 434.4,521.3 435.9,521 437.4,520.7 438.8,520.4 440.3,520.1 441.8,519.7 443.2,519.4 444.7,519.1 446.2,518.7 447.6,518.4 449.1,518 450.5,517.6 452,517.2 453.4,516.8 454.9,516.4 456.3,516 457.7,515.6 459.2,515.1 460.6,514.7 462,514.2 463.4,513.7 464.9,513.2 466.3,512.7 467.7,512.2 469.1,511.7 470.5,511.2 471.9,510.7 473.3,510.2 474.7,509.6 476.1,509.1 477.5,508.5 478.9,508 480.3,507.4 481.7,506.9 483.1,506.4 484.5,505.8 485.9,505.2 487.3,504.6 488.6,504 490,503.4 491.4,502.8 492.7,502.2 494.1,501.6 495.5,500.9 496.8,500.4 498.2,499.8 499.6,499.4 500.9,499.3 501.8,499.9 502.3,501.1 502.4,502.5 502.4,504 502.3,505.5 502.3,507 502.3,508.5 502.3,510 502.4,511.5 502.4,513 502.4,514.5 502.4,516 502.4,517.5 502.5,519 502.5,520.5 502.5,522 502.5,523.5 502.5,525 502.5,526.5 502.5,528 502.5,529.5 502.5,531 502.5,532.5 502.5,534 502.5,535.5 502.5,537 502.5,538.5 502.5,540 502.5,541.5 502.4,543 502.4,544.5 502.4,546 502.4,547.5 502.4,549 502.4,550.5 502.3,552 502.3,553.5 502.3,555 502.3,556.5 502.2,558 502.2,559.5 502.2,561 502.1,562.5 502.1,564 502.1,565.5 502,567 502,568.5 502,570 501.9,571.5 501.9,573 501.8,574.5 501.8,576 501.7,577.5 501.6,579 501.6,580.5 501.5,582 501.4,583.5 501.3,585 501.1,586.5 501,588 500.8,589.5 500.6,591 500.4,592.4 500.2,593.9 500,595.4 499.7,596.9 499.4,598.3 499.1,599.8 498.7,601.3 498.4,602.7 498,604.2 497.6,605.6 497.3,607.1 496.9,608.5 496.5,610 496.1,611.4 495.7,612.9 495.3,614.3 494.9,615.8 494.4,617.2 493.9,618.6 493.4,620 492.7,621.4 492.1,622.7 491.4,624 490.6,625.3 489.8,626.6 488.9,627.8 488.1,629 487.1,630.2 486.2,631.4 485.2,632.5 484.1,633.6 483.1,634.6 482,635.6 480.8,636.6 479.7,637.6 478.5,638.5 477.3,639.4 476.1,640.2 474.8,641 473.5,641.8 472.2,642.6 470.9,643.3 469.6,644 468.2,644.7 466.9,645.3 465.5,645.9 464.1,646.5 462.7,647 461.3,647.5 459.9,648 458.5,648.4 457,648.8 455.5,649.1 454.1,649.4 452.6,649.7 451.1,649.9 449.6,650.1 448.1,650.3 446.6,650.4 445.2,650.6 443.7,650.8 442.2,650.9 440.7,651.1 439.2,651.3 437.7,651.5 436.2,651.7 434.7,652 433.3,652.3 431.8,652.6 430.4,653 428.9,653.4 427.5,653.9 426.1,654.3 424.6,654.8 423.2,655.3 421.8,655.8 420.4,656.4 419,656.9 417.6,657.5 416.2,658 414.9,658.6 413.5,659.2 412.1,659.8 410.7,660.4 409.4,661.1 408,661.7 406.7,662.4 405.3,663 404,663.7 402.7,664.4 401.3,665.1 400,665.8 398.7,666.6 397.4,667.3 396.1,668.1 394.8,668.8 393.6,669.6 392.3,670.4 391,671.2 389.7,672 388.5,672.8 387.2,673.7 386,674.5 384.8,675.3 383.5,676.2 382.3,677.1 381.1,678 379.9,678.9 378.7,679.8 377.5,680.7 376.4,681.6 375.2,682.6 374.1,683.6 372.9,684.5 371.8,685.5 370.7,686.5 369.6,687.6 368.5,688.6 367.4,689.6 366.3,690.6 365.2,691.7 364.1,692.7 363,693.7 362,694.8 360.9,695.8 359.8,696.9 358.8,697.9 357.7,699 356.6,700.1 355.6,701.1 354.5,702.2 353.5,703.3 352.4,704.3 351.4,705.4 350.3,706.5 349.3,707.5 348.2,708.6 347.2,709.7 346.1,710.8 345.1,711.9 344.1,713 343.1,714.1 342.1,715.2 341,716.3 340,717.4 338.9,718.4 337.9,719.5 336.8,720.5 335.6,721.5 334.5,722.4 333.3,723.3 332.1,724.2 330.8,725.1 329.6,725.9 328.3,726.7 327.1,727.5 325.8,728.3 324.4,729 323.1,729.6 321.7,730.3 320.4,730.8 319,731.4 317.5,731.9 316.1,732.3 314.7,732.7 313.2,733 311.7,733.2 310.2,733.3 308.7,733.4 307.2,733.4 305.7,733.3 304.2,733.1 302.8,732.9 301.3,732.6 299.8,732.3 298.3,732 296.9,731.7 295.4,731.3 294,730.9 292.5,730.5 291.1,730 289.7,729.5 288.3,729 286.9,728.5 285.5,728 284.1,727.4 282.7,726.8 281.3,726.2 280,725.6 278.6,724.9 277.3,724.2 276,723.5 274.7,722.7 273.4,721.9 272.2,721.1 271,720.2 269.7,719.4 268.5,718.5 267.3,717.6 266.1,716.7 264.9,715.8 263.8,714.8 262.6,713.9 261.4,713 260.2,712 259.1,711.1 257.9,710.2 256.7,709.3 255.5,708.4 254.3,707.5 253.1,706.6 251.9,705.7 250.7,704.8 249.4,703.9 248.2,703.1 247,702.2 245.8,701.2 244.6,700.3 243.5,699.4 242.3,698.5 241.1,697.6 239.9,696.7 238.7,695.7 237.5,694.8 236.3,693.9 235.1,693 233.9,692.1 232.7,691.3 231.5,690.4 230.2,689.6 229,688.7 227.7,687.9 226.4,687.1 225.1,686.4 223.8,685.7 222.5,685 221.1,684.3 219.8,683.7 218.4,683.1 217,682.6 215.6,682.1 214.2,681.6 212.7,681.2 211.3,680.7 209.8,680.3 208.4,680 206.9,679.6 205.5,679.3 204,679 202.5,678.7 201.1,678.4 199.6,678.1 198.1,677.9 196.6,677.7 195.1,677.5 193.6,677.3 192.2,677.2 190.7,677.1 189.2,677 187.7,676.9 186.2,676.9 184.7,677 183.2,677.1 181.7,677.4 180.2,677.7 178.8,678.2 177.4,678.8 176.1,679.4 174.8,680.2 173.6,681 172.3,681.9 171.2,682.8 170,683.8 168.9,684.8 167.8,685.8 166.7,686.8 165.6,687.8 164.5,688.8 163.4,689.8 162.3,690.8 161.1,691.9 160.1,692.9 159,693.9 157.9,695 156.8,696 155.8,697.1 154.8,698.2 153.8,699.3 152.8,700.4 151.8,701.6 150.8,702.7 149.9,703.9 148.9,705 148,706.2 147.1,707.4 146.2,708.6 145.4,709.9 144.5,711.1 143.7,712.4 142.9,713.6 142.1,714.9 141.4,716.2 140.6,717.5 139.9,718.8 139.2,720.2 138.5,721.5 137.8,722.8 137.1,724.1 136.4,725.5 135.7,726.8 135.1,728.2 134.4,729.5 133.7,730.8 133.1,732.2 132.4,733.5 131.8,734.9 131.2,736.3 130.5,737.6 129.9,739 129.3,740.4 128.7,741.7 128.1,743.1 127.5,744.5 127,745.9 126.4,747.3 125.9,748.7 125.3,750.1 124.8,751.5 124.4,752.9 123.9,754.3 123.4,755.8 122.9,757.2 122.5,758.6 122,760 121.6,761.5 121.1,762.9 120.7,764.3 120.2,765.8 119.7,767.2 119.2,768.6 118.7,770 118.2,771.4 117.7,772.8 117.1,774.2 116.6,775.6 116.1,777 115.5,778.4 115,779.8 114.4,781.2 113.8,782.6 113.3,784 112.7,785.4 112.1,786.7 111.4,788.1 110.8,789.4 110.2,790.8 109.5,792.1 108.8,793.5 108.1,794.8 107.3,796.1 106.5,797.3 105.5,798.4 104.4,799.3 103.1,799.7 101.9,799.4 100.8,798.5 100,797.3 99.2,796.1 98.4,794.7 97.7,793.4 97.1,792.1 96.4,790.7 95.9,789.3 95.4,787.9 94.9,786.5 94.5,785.1 94,783.6 93.6,782.2 93.2,780.8 92.7,779.3 92.2,777.9 91.7,776.5 91.1,775.1 90.4,773.8 89.6,772.6 88.7,771.4 87.6,770.3 86.5,769.3 85.3,768.5 84.1,767.8 83.2,767.1" fill="none" stroke="#1e8c64" stroke-width="2.8" stroke-linejoin="round" stroke-linecap="round" />
<path d="M63.0,821.5 V456.0 H540.5 V821.5 Z" fill="none" stroke="#333" stroke-width="1.3"/>
<line x1="58" y1="455.9" x2="63" y2="455.9" stroke="#333" stroke-width="1.1"/>
<line x1="60" y1="496.5" x2="63" y2="496.5" stroke="#333" stroke-width="1.1"/>
<line x1="58" y1="537.2" x2="63" y2="537.2" stroke="#333" stroke-width="1.1"/>
<line x1="60" y1="577.9" x2="63" y2="577.9" stroke="#333" stroke-width="1.1"/>
<line x1="58" y1="618.5" x2="63" y2="618.5" stroke="#333" stroke-width="1.1"/>
<line x1="60" y1="659.1" x2="63" y2="659.1" stroke="#333" stroke-width="1.1"/>
<line x1="58" y1="699.8" x2="63" y2="699.8" stroke="#333" stroke-width="1.1"/>
<line x1="60" y1="740.5" x2="63" y2="740.5" stroke="#333" stroke-width="1.1"/>
<line x1="58" y1="781.1" x2="63" y2="781.1" stroke="#333" stroke-width="1.1"/>
<line x1="60" y1="821.8" x2="63" y2="821.8" stroke="#333" stroke-width="1.1"/>
<line x1="63" y1="821.5" x2="63" y2="826.5" stroke="#333" stroke-width="1.1"/>
<line x1="99.7" y1="821.5" x2="99.7" y2="824.5" stroke="#333" stroke-width="1.1"/>
<line x1="136.5" y1="821.5" x2="136.5" y2="826.5" stroke="#333" stroke-width="1.1"/>
<line x1="173.2" y1="821.5" x2="173.2" y2="824.5" stroke="#333" stroke-width="1.1"/>
<line x1="209.9" y1="821.5" x2="209.9" y2="826.5" stroke="#333" stroke-width="1.1"/>
<line x1="246.7" y1="821.5" x2="246.7" y2="824.5" stroke="#333" stroke-width="1.1"/>
<line x1="283.4" y1="821.5" x2="283.4" y2="826.5" stroke="#333" stroke-width="1.1"/>
<line x1="320.1" y1="821.5" x2="320.1" y2="824.5" stroke="#333" stroke-width="1.1"/>
<line x1="356.8" y1="821.5" x2="356.8" y2="826.5" stroke="#333" stroke-width="1.1"/>
<line x1="393.6" y1="821.5" x2="393.6" y2="824.5" stroke="#333" stroke-width="1.1"/>
<line x1="430.3" y1="821.5" x2="430.3" y2="826.5" stroke="#333" stroke-width="1.1"/>
<line x1="467" y1="821.5" x2="467" y2="824.5" stroke="#333" stroke-width="1.1"/>
<line x1="503.8" y1="821.5" x2="503.8" y2="826.5" stroke="#333" stroke-width="1.1"/>
<line x1="540.5" y1="821.5" x2="540.5" y2="824.5" stroke="#333" stroke-width="1.1"/>
<text x="53.8" y="460.1" font-size="12.2" text-anchor="end" font-weight="normal" fill="#000" >0.4</text>
<text x="53.8" y="541.4" font-size="12.2" text-anchor="end" font-weight="normal" fill="#000" >0.2</text>
<text x="53.8" y="622.7" font-size="12.2" text-anchor="end" font-weight="normal" fill="#000" >0.0</text>
<text x="53.8" y="704" font-size="12.2" text-anchor="end" font-weight="normal" fill="#000" >-0.2</text>
<text x="53.8" y="785.3" font-size="12.2" text-anchor="end" font-weight="normal" fill="#000" >-0.4</text>
<text x="63" y="842" font-size="15" text-anchor="middle" font-weight="normal" fill="#000" >0.0</text>
<text x="136.5" y="842" font-size="15" text-anchor="middle" font-weight="normal" fill="#000" >0.2</text>
<text x="209.9" y="842" font-size="15" text-anchor="middle" font-weight="normal" fill="#000" >0.4</text>
<text x="283.4" y="842" font-size="15" text-anchor="middle" font-weight="normal" fill="#000" >0.6</text>
<text x="356.8" y="842" font-size="15" text-anchor="middle" font-weight="normal" fill="#000" >0.8</text>
<text x="430.3" y="842" font-size="15" text-anchor="middle" font-weight="normal" fill="#000" >1.0</text>
<text x="503.8" y="842" font-size="15" text-anchor="middle" font-weight="normal" fill="#000" >1.2</text>
<text x="277.7" y="876" font-size="16.5" text-anchor="middle" font-weight="normal" fill="#000" >Potential (V vs. RHE)</text>
<text x="20.5" y="619.7" font-size="23.7" text-anchor="middle" transform="rotate(-90 20.5 619.7)">Current (mA)</text>
<text x="175.3" y="507.9" font-size="22.5" text-anchor="middle" font-weight="normal" fill="#000" >(b)</text>
<line x1="407.9" y1="707.4" x2="456.5" y2="707.4" stroke="#000" stroke-width="2.8"/>
<text x="462.3" y="714.9" font-size="21" text-anchor="start" font-weight="normal" fill="#000" >Pt/CB</text>
<line x1="407.9" y1="733.9" x2="456.5" y2="733.9" stroke="#dd1515" stroke-width="2.8"/>
<text x="462.3" y="741.4" font-size="21" text-anchor="start" font-weight="normal" fill="#000" >Pt/CG</text>
<line x1="407.9" y1="760.4" x2="456.5" y2="760.4" stroke="#1c2ee0" stroke-width="2.8"/>
<text x="462.3" y="767.9" font-size="21" text-anchor="start" font-weight="normal" fill="#000" >Pt/GF</text>
<line x1="407.9" y1="786.9" x2="456.5" y2="786.9" stroke="#1e8c64" stroke-width="2.8"/>
<text x="462.3" y="794.4" font-size="21" text-anchor="start" font-weight="normal" fill="#000" >Pt/GFII</text>
<text x="75.8" y="472.2" font-size="13" text-anchor="start" font-weight="normal" fill="#000" >H</text>
<text x="84.5" y="477.8" font-size="8" text-anchor="start" font-weight="normal" fill="#000" >ads</text>
<line x1="101.1" y1="468.4" x2="145.7" y2="472.1" stroke="#000" stroke-width="1.0"/>
<polygon points="145.7,472.1 138.5,474.5 139,468.5" fill="#000"/>
<text x="152.8" y="475.3" font-size="13" text-anchor="start" font-weight="normal" fill="#000" >H</text>
<text x="162" y="469" font-size="8" text-anchor="start" font-weight="normal" fill="#000" >+</text>
<text x="323" y="526.4" font-size="13" text-anchor="start" font-weight="normal" fill="#000" >Pt</text>
<line x1="340.5" y1="519.2" x2="370.9" y2="499.8" stroke="#000" stroke-width="1.0"/>
<polygon points="370.9,499.8 366.6,506.1 363.4,501" fill="#000"/>
<text x="378.1" y="498" font-size="13" text-anchor="start" font-weight="normal" fill="#000" >Pt oxides</text>
<text x="233.7" y="736.7" font-size="13" text-anchor="start" font-weight="normal" fill="#000" >Pt</text>
<line x1="317.7" y1="752.3" x2="257.4" y2="736.7" stroke="#000" stroke-width="1.0"/>
<polygon points="257.4,736.7 264.9,735.5 263.4,741.4" fill="#000"/>
<text x="327.4" y="758.8" font-size="13" text-anchor="start" font-weight="normal" fill="#000" >Pt oxides</text>
<text x="74.5" y="807.5" font-size="13" text-anchor="start" font-weight="normal" fill="#000" >H</text>
<text x="84" y="812.5" font-size="8" text-anchor="start" font-weight="normal" fill="#000" >ads</text>
<line x1="121" y1="809.7" x2="87.3" y2="803.8" stroke="#000" stroke-width="1.0"/>
<polygon points="87.3,803.8 94.7,802.1 93.7,808" fill="#000"/>
<text x="124.2" y="811" font-size="13" text-anchor="start" font-weight="normal" fill="#000" >H</text>
<text x="133.5" y="804" font-size="8" text-anchor="start" font-weight="normal" fill="#000" >+</text>
<polyline points="69.1,912.5 78.3,906 96.2,909.3 111.4,912.5 128.3,919 143.9,928.8 159.8,938.6 175.4,949.3 191.7,963 207.3,972.8 223.1,982.5 239.4,989 255.7,997.8 271,1004.7 287.3,1014.1 302.9,1021.6 319.2,1028.1 334.8,1034.6 351.1,1038.5 366.4,1045 382.1,1047.7 398.2,1050 414.3,1053.8 430.4,1055.4 446.5,1057.6 461.9,1060.2 478,1063.5 494.1,1067.4 510.2,1069 526.3,1073.2 541.4,1075.4" fill="none" stroke="#000" stroke-width="1.0" stroke-linejoin="round" stroke-linecap="round" />
<rect x="66.6" y="910" width="5" height="5" fill="#000"/>
<rect x="75.8" y="903.5" width="5" height="5" fill="#000"/>
<rect x="93.7" y="906.8" width="5" height="5" fill="#000"/>
<rect x="108.9" y="910" width="5" height="5" fill="#000"/>
<rect x="125.8" y="916.5" width="5" height="5" fill="#000"/>
<rect x="141.4" y="926.3" width="5" height="5" fill="#000"/>
<rect x="157.3" y="936.1" width="5" height="5" fill="#000"/>
<rect x="172.9" y="946.8" width="5" height="5" fill="#000"/>
<rect x="189.2" y="960.5" width="5" height="5" fill="#000"/>
<rect x="204.8" y="970.3" width="5" height="5" fill="#000"/>
<rect x="220.6" y="980" width="5" height="5" fill="#000"/>
<rect x="236.9" y="986.5" width="5" height="5" fill="#000"/>
<rect x="253.2" y="995.3" width="5" height="5" fill="#000"/>
<rect x="268.5" y="1002.2" width="5" height="5" fill="#000"/>
<rect x="284.8" y="1011.6" width="5" height="5" fill="#000"/>
<rect x="300.4" y="1019.1" width="5" height="5" fill="#000"/>
<rect x="316.7" y="1025.6" width="5" height="5" fill="#000"/>
<rect x="332.3" y="1032.1" width="5" height="5" fill="#000"/>
<rect x="348.6" y="1036" width="5" height="5" fill="#000"/>
<rect x="363.9" y="1042.5" width="5" height="5" fill="#000"/>
<rect x="379.6" y="1045.2" width="5" height="5" fill="#000"/>
<rect x="395.7" y="1047.5" width="5" height="5" fill="#000"/>
<rect x="411.8" y="1051.3" width="5" height="5" fill="#000"/>
<rect x="427.9" y="1052.9" width="5" height="5" fill="#000"/>
<rect x="444" y="1055.1" width="5" height="5" fill="#000"/>
<rect x="459.4" y="1057.7" width="5" height="5" fill="#000"/>
<rect x="475.5" y="1061" width="5" height="5" fill="#000"/>
<rect x="491.6" y="1064.9" width="5" height="5" fill="#000"/>
<rect x="507.7" y="1066.5" width="5" height="5" fill="#000"/>
<rect x="523.8" y="1070.7" width="5" height="5" fill="#000"/>
<rect x="538.9" y="1072.9" width="5" height="5" fill="#000"/>
<polyline points="68.6,924.5 74,920 81,921.2 96.2,937 112,953.2 127.3,974.4 142.9,990.7 159.2,1007 175.4,1020.6 191.7,1031 207.3,1042 223.1,1050.3 239.4,1056 255,1065.4 271,1071.6 287.3,1079.7 302.9,1082.3 319.2,1090.5 334.8,1096 351.1,1100.2 366.4,1105.8 382.1,1107.2 398.2,1112.4 414.3,1117.2 430.4,1118.9 446.5,1123 461.9,1130.1 478,1131.7 494.1,1135.9 510.2,1139.1 526.3,1142.3 541.4,1146.2" fill="none" stroke="#ee1111" stroke-width="1.0" stroke-linejoin="round" stroke-linecap="round" />
<circle cx="68.6" cy="924.5" r="3" fill="#ee1111"/>
<circle cx="74" cy="920" r="3" fill="#ee1111"/>
<circle cx="81" cy="921.2" r="3" fill="#ee1111"/>
<circle cx="96.2" cy="937" r="3" fill="#ee1111"/>
<circle cx="112" cy="953.2" r="3" fill="#ee1111"/>
<circle cx="127.3" cy="974.4" r="3" fill="#ee1111"/>
<circle cx="142.9" cy="990.7" r="3" fill="#ee1111"/>
<circle cx="159.2" cy="1007" r="3" fill="#ee1111"/>
<circle cx="175.4" cy="1020.6" r="3" fill="#ee1111"/>
<circle cx="191.7" cy="1031" r="3" fill="#ee1111"/>
<circle cx="207.3" cy="1042" r="3" fill="#ee1111"/>
<circle cx="223.1" cy="1050.3" r="3" fill="#ee1111"/>
<circle cx="239.4" cy="1056" r="3" fill="#ee1111"/>
<circle cx="255" cy="1065.4" r="3" fill="#ee1111"/>
<circle cx="271" cy="1071.6" r="3" fill="#ee1111"/>
<circle cx="287.3" cy="1079.7" r="3" fill="#ee1111"/>
<circle cx="302.9" cy="1082.3" r="3" fill="#ee1111"/>
<circle cx="319.2" cy="1090.5" r="3" fill="#ee1111"/>
<circle cx="334.8" cy="1096" r="3" fill="#ee1111"/>
<circle cx="351.1" cy="1100.2" r="3" fill="#ee1111"/>
<circle cx="366.4" cy="1105.8" r="3" fill="#ee1111"/>
<circle cx="382.1" cy="1107.2" r="3" fill="#ee1111"/>
<circle cx="398.2" cy="1112.4" r="3" fill="#ee1111"/>
<circle cx="414.3" cy="1117.2" r="3" fill="#ee1111"/>
<circle cx="430.4" cy="1118.9" r="3" fill="#ee1111"/>
<circle cx="446.5" cy="1123" r="3" fill="#ee1111"/>
<circle cx="461.9" cy="1130.1" r="3" fill="#ee1111"/>
<circle cx="478" cy="1131.7" r="3" fill="#ee1111"/>
<circle cx="494.1" cy="1135.9" r="3" fill="#ee1111"/>
<circle cx="510.2" cy="1139.1" r="3" fill="#ee1111"/>
<circle cx="526.3" cy="1142.3" r="3" fill="#ee1111"/>
<circle cx="541.4" cy="1146.2" r="3" fill="#ee1111"/>
<polyline points="64.5,936.4 68,900 71.8,906.6 77.2,918.5 80.5,933.7 95.7,973.8 112,1010.2 127.3,1043 143.5,1072.3 159.8,1106.5 175.4,1125 191.7,1147.8 207.3,1171.6 223.4,1189.3 239.4,1201.1 255,1209.9 271,1215.8 287.3,1219 302.9,1221" fill="none" stroke="#2233dd" stroke-width="1.0" stroke-linejoin="round" stroke-linecap="round" />
<polygon points="64.5,932.6 61,938.9 68,938.9" fill="#2233dd"/>
<polygon points="68,896.2 64.5,902.5 71.5,902.5" fill="#2233dd"/>
<polygon points="71.8,902.8 68.3,909.1 75.3,909.1" fill="#2233dd"/>
<polygon points="77.2,914.7 73.7,921 80.7,921" fill="#2233dd"/>
<polygon points="80.5,929.9 77,936.2 84,936.2" fill="#2233dd"/>
<polygon points="95.7,970 92.2,976.3 99.2,976.3" fill="#2233dd"/>
<polygon points="112,1006.4 108.5,1012.7 115.5,1012.7" fill="#2233dd"/>
<polygon points="127.3,1039.2 123.8,1045.5 130.8,1045.5" fill="#2233dd"/>
<polygon points="143.5,1068.5 140,1074.8 147,1074.8" fill="#2233dd"/>
<polygon points="159.8,1102.7 156.3,1109 163.3,1109" fill="#2233dd"/>
<polygon points="175.4,1121.2 171.9,1127.5 178.9,1127.5" fill="#2233dd"/>
<polygon points="191.7,1144 188.2,1150.3 195.2,1150.3" fill="#2233dd"/>
<polygon points="207.3,1167.8 203.8,1174.1 210.8,1174.1" fill="#2233dd"/>
<polygon points="223.4,1185.5 219.9,1191.8 226.9,1191.8" fill="#2233dd"/>
<polygon points="239.4,1197.3 235.9,1203.6 242.9,1203.6" fill="#2233dd"/>
<polygon points="255,1206.1 251.5,1212.4 258.5,1212.4" fill="#2233dd"/>
<polygon points="271,1212 267.5,1218.3 274.5,1218.3" fill="#2233dd"/>
<polygon points="287.3,1215.2 283.8,1221.5 290.8,1221.5" fill="#2233dd"/>
<polygon points="302.9,1217.2 299.4,1223.5 306.4,1223.5" fill="#2233dd"/>
<polyline points="64.5,918 71.8,918.5 81,924 95.7,942.5 112,957.5 127.3,972.1 142.9,990.7 159.2,1012.8 175.4,1027.1 191.7,1039 207.3,1053 223.3,1064.3 239.4,1078.1 255,1089.8 271,1100.2 287.3,1110.6 302.9,1120.7 319.2,1132.1 334.8,1140.9 351.1,1152.3 366.4,1163 382.4,1171.9 398.2,1179 414.3,1186.4 430.4,1193.5 446.5,1199.3 461.9,1203.5 478,1206.4 494.1,1209.6 510.2,1213.2 526.3,1215.4 541.4,1216.4" fill="none" stroke="#1e8c64" stroke-width="1.0" stroke-linejoin="round" stroke-linecap="round" />
<polygon points="64.5,921.8 61,915.5 68,915.5" fill="#1e8c64"/>
<polygon points="71.8,922.3 68.3,916 75.3,916" fill="#1e8c64"/>
<polygon points="81,927.8 77.5,921.5 84.5,921.5" fill="#1e8c64"/>
<polygon points="95.7,946.3 92.2,940 99.2,940" fill="#1e8c64"/>
<polygon points="112,961.3 108.5,955 115.5,955" fill="#1e8c64"/>
<polygon points="127.3,975.9 123.8,969.6 130.8,969.6" fill="#1e8c64"/>
<polygon points="142.9,994.5 139.4,988.2 146.4,988.2" fill="#1e8c64"/>
<polygon points="159.2,1016.6 155.7,1010.3 162.7,1010.3" fill="#1e8c64"/>
<polygon points="175.4,1030.9 171.9,1024.6 178.9,1024.6" fill="#1e8c64"/>
<polygon points="191.7,1042.8 188.2,1036.5 195.2,1036.5" fill="#1e8c64"/>
<polygon points="207.3,1056.8 203.8,1050.5 210.8,1050.5" fill="#1e8c64"/>
<polygon points="223.3,1068.1 219.8,1061.8 226.8,1061.8" fill="#1e8c64"/>
<polygon points="239.4,1081.9 235.9,1075.6 242.9,1075.6" fill="#1e8c64"/>
<polygon points="255,1093.6 251.5,1087.3 258.5,1087.3" fill="#1e8c64"/>
<polygon points="271,1104 267.5,1097.7 274.5,1097.7" fill="#1e8c64"/>
<polygon points="287.3,1114.4 283.8,1108.1 290.8,1108.1" fill="#1e8c64"/>
<polygon points="302.9,1124.5 299.4,1118.2 306.4,1118.2" fill="#1e8c64"/>
<polygon points="319.2,1135.9 315.7,1129.6 322.7,1129.6" fill="#1e8c64"/>
<polygon points="334.8,1144.7 331.3,1138.4 338.3,1138.4" fill="#1e8c64"/>
<polygon points="351.1,1156.1 347.6,1149.8 354.6,1149.8" fill="#1e8c64"/>
<polygon points="366.4,1166.8 362.9,1160.5 369.9,1160.5" fill="#1e8c64"/>
<polygon points="382.4,1175.7 378.9,1169.4 385.9,1169.4" fill="#1e8c64"/>
<polygon points="398.2,1182.8 394.7,1176.5 401.7,1176.5" fill="#1e8c64"/>
<polygon points="414.3,1190.2 410.8,1183.9 417.8,1183.9" fill="#1e8c64"/>
<polygon points="430.4,1197.3 426.9,1191 433.9,1191" fill="#1e8c64"/>
<polygon points="446.5,1203.1 443,1196.8 450,1196.8" fill="#1e8c64"/>
<polygon points="461.9,1207.3 458.4,1201 465.4,1201" fill="#1e8c64"/>
<polygon points="478,1210.2 474.5,1203.9 481.5,1203.9" fill="#1e8c64"/>
<polygon points="494.1,1213.4 490.6,1207.1 497.6,1207.1" fill="#1e8c64"/>
<polygon points="510.2,1217 506.7,1210.7 513.7,1210.7" fill="#1e8c64"/>
<polygon points="526.3,1219.2 522.8,1212.9 529.8,1212.9" fill="#1e8c64"/>
<polygon points="541.4,1220.2 537.9,1213.9 544.9,1213.9" fill="#1e8c64"/>
<rect x="64.3" y="884.5" width="477.7" height="337.3" fill="none" stroke="#333" stroke-width="1.5"/>
<line x1="59.8" y1="1221.6" x2="64.3" y2="1221.6" stroke="#333" stroke-width="1.2"/>
<line x1="61.3" y1="1189.5" x2="64.3" y2="1189.5" stroke="#333" stroke-width="1.2"/>
<line x1="59.8" y1="1157.3" x2="64.3" y2="1157.3" stroke="#333" stroke-width="1.2"/>
<line x1="61.3" y1="1125.2" x2="64.3" y2="1125.2" stroke="#333" stroke-width="1.2"/>
<line x1="59.8" y1="1093" x2="64.3" y2="1093" stroke="#333" stroke-width="1.2"/>
<line x1="61.3" y1="1060.9" x2="64.3" y2="1060.9" stroke="#333" stroke-width="1.2"/>
<line x1="59.8" y1="1028.8" x2="64.3" y2="1028.8" stroke="#333" stroke-width="1.2"/>
<line x1="61.3" y1="996.6" x2="64.3" y2="996.6" stroke="#333" stroke-width="1.2"/>
<line x1="59.8" y1="964.5" x2="64.3" y2="964.5" stroke="#333" stroke-width="1.2"/>
<line x1="61.3" y1="932.3" x2="64.3" y2="932.3" stroke="#333" stroke-width="1.2"/>
<line x1="59.8" y1="900.2" x2="64.3" y2="900.2" stroke="#333" stroke-width="1.2"/>
<line x1="64.3" y1="1221.8" x2="64.3" y2="1226.3" stroke="#333" stroke-width="1.2"/>
<line x1="104.1" y1="1221.8" x2="104.1" y2="1224.8" stroke="#333" stroke-width="1.2"/>
<line x1="143.9" y1="1221.8" x2="143.9" y2="1226.3" stroke="#333" stroke-width="1.2"/>
<line x1="183.7" y1="1221.8" x2="183.7" y2="1224.8" stroke="#333" stroke-width="1.2"/>
<line x1="223.5" y1="1221.8" x2="223.5" y2="1226.3" stroke="#333" stroke-width="1.2"/>
<line x1="263.3" y1="1221.8" x2="263.3" y2="1224.8" stroke="#333" stroke-width="1.2"/>
<line x1="303.1" y1="1221.8" x2="303.1" y2="1226.3" stroke="#333" stroke-width="1.2"/>
<line x1="343" y1="1221.8" x2="343" y2="1224.8" stroke="#333" stroke-width="1.2"/>
<line x1="382.8" y1="1221.8" x2="382.8" y2="1226.3" stroke="#333" stroke-width="1.2"/>
<line x1="422.6" y1="1221.8" x2="422.6" y2="1224.8" stroke="#333" stroke-width="1.2"/>
<line x1="462.4" y1="1221.8" x2="462.4" y2="1226.3" stroke="#333" stroke-width="1.2"/>
<line x1="502.2" y1="1221.8" x2="502.2" y2="1224.8" stroke="#333" stroke-width="1.2"/>
<line x1="542" y1="1221.8" x2="542" y2="1226.3" stroke="#333" stroke-width="1.2"/>
<text x="57.4" y="904.6" font-size="13" text-anchor="end" font-weight="bold" fill="#000" >100</text>
<text x="57.4" y="968.9" font-size="13" text-anchor="end" font-weight="bold" fill="#000" >80</text>
<text x="57.4" y="1033.2" font-size="13" text-anchor="end" font-weight="bold" fill="#000" >60</text>
<text x="57.4" y="1097.4" font-size="13" text-anchor="end" font-weight="bold" fill="#000" >40</text>
<text x="57.4" y="1161.7" font-size="13" text-anchor="end" font-weight="bold" fill="#000" >20</text>
<text x="57.4" y="1226" font-size="13" text-anchor="end" font-weight="bold" fill="#000" >0</text>
<text x="52" y="1241.8" font-size="16" text-anchor="middle" font-weight="bold" fill="#000" >0</text>
<text x="131.6" y="1241.8" font-size="16" text-anchor="middle" font-weight="bold" fill="#000" >10000</text>
<text x="211.2" y="1241.8" font-size="16" text-anchor="middle" font-weight="bold" fill="#000" >20000</text>
<text x="290.8" y="1241.8" font-size="16" text-anchor="middle" font-weight="bold" fill="#000" >30000</text>
<text x="370.5" y="1241.8" font-size="16" text-anchor="middle" font-weight="bold" fill="#000" >40000</text>
<text x="450.1" y="1241.8" font-size="16" text-anchor="middle" font-weight="bold" fill="#000" >50000</text>
<text x="529.7" y="1241.8" font-size="16" text-anchor="middle" font-weight="bold" fill="#000" >60000</text>
<text x="303.4" y="1276.6" font-size="14" text-anchor="middle" font-weight="bold" fill="#000" >A</text>
<text x="25" y="1045.9" font-size="20.5" text-anchor="middle" transform="rotate(-90 25 1045.9)">Retension of ECSA (%)</text>
<text x="160.1" y="913.9" font-size="22.5" text-anchor="middle" font-weight="normal" fill="#000" >(c)</text>
<line x1="414.3" y1="910.6" x2="460.3" y2="910.6" stroke="#000" stroke-width="1.0"/>
<rect x="434.6" y="908.1" width="5" height="5" fill="#000"/>
<text x="467.4" y="917.6" font-size="20" text-anchor="start" font-weight="normal" fill="#000" >Pt/CB</text>
<line x1="414.3" y1="935.8" x2="460.3" y2="935.8" stroke="#ee1111" stroke-width="1.0"/>
<circle cx="437.1" cy="935.8" r="2.8" fill="#ee1111"/>
<text x="467.4" y="942.8" font-size="20" text-anchor="start" font-weight="normal" fill="#000" >Pt/CG</text>
<line x1="414.3" y1="961" x2="460.3" y2="961" stroke="#2233dd" stroke-width="1.0"/>
<polygon points="437.1,957.5 433.9,963.3 440.3,963.3" fill="#2233dd"/>
<text x="467.4" y="968" font-size="20" text-anchor="start" font-weight="normal" fill="#000" >Pt/GF</text>
<line x1="414.3" y1="986.2" x2="460.3" y2="986.2" stroke="#1e8c64" stroke-width="1.0"/>
<polygon points="437.1,989.7 433.9,983.9 440.3,983.9" fill="#1e8c64"/>
<text x="467.4" y="993.2" font-size="20" text-anchor="start" font-weight="normal" fill="#000" >Pt/GFII</text>
</svg></body></html>
